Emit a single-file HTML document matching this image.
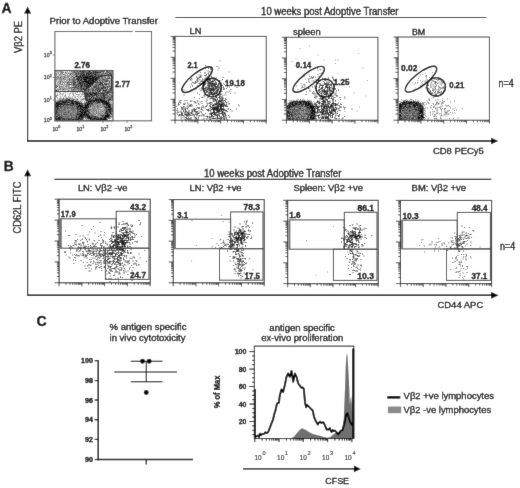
<!DOCTYPE html>
<html><head><meta charset="utf-8"><style>
html,body{margin:0;padding:0;background:#fff;}
svg{display:block;font-family:"Liberation Sans", sans-serif;filter:grayscale(1);}

</style></head><body>
<svg width="520" height="488" viewBox="0 0 520 488">
<defs><filter id="bl05" x="-5%" y="-5%" width="110%" height="110%"><feGaussianBlur stdDeviation="0.4"/></filter><filter id="bl2" x="-50%" y="-50%" width="200%" height="200%"><feGaussianBlur stdDeviation="2.5"/></filter></defs>
<filter id="soft" x="0" y="0" width="520" height="488" filterUnits="userSpaceOnUse"><feConvolveMatrix order="3" kernelMatrix="0.01 0.06 0.01 0.06 0.72 0.06 0.01 0.06 0.01" edgeMode="duplicate" preserveAlpha="true"/></filter>
<g filter="url(#soft)">
<rect width="520" height="488" fill="#fff"/>
<text x="1.6" y="13.3" font-size="14" stroke="#000" stroke-width="0.3" font-weight="bold">A</text>
<line x1="27.6" y1="141.5" x2="27.6" y2="12.6" stroke="#000" stroke-width="1.15"/>
<polygon points="27.6,6.6 24.1,13.6 31.1,13.6" fill="#000" stroke="none" stroke-width="1"/>
<text x="21.7" y="36.9" font-size="9.6" stroke="#000" stroke-width="0.3" text-anchor="middle" textLength="32" lengthAdjust="spacingAndGlyphs" transform="rotate(-90 21.7 36.9) translate(21.7 36.9) scale(1 1.05) translate(-21.7 -36.9)">Vβ2 PE</text>
<line x1="27" y1="141" x2="492.1" y2="141" stroke="#000" stroke-width="1.4"/>
<polygon points="498.2,141 491.1,137.7 491.1,144.3" fill="#000" stroke="none" stroke-width="1"/>
<text x="433" y="153.6" font-size="9.5" stroke="#000" stroke-width="0.3" textLength="50.7" lengthAdjust="spacingAndGlyphs">CD8 PECy5</text>
<text x="49.6" y="23.6" font-size="9.6" stroke="#000" stroke-width="0.3" textLength="108.3" lengthAdjust="spacingAndGlyphs">Prior to Adoptive Transfer</text>
<line x1="175.5" y1="17.5" x2="486.2" y2="17.5" stroke="#000" stroke-width="1.2"/>
<text x="261.1" y="14.6" font-size="9.5" stroke="#000" stroke-width="0.3" textLength="137.4" lengthAdjust="spacingAndGlyphs" transform="translate(261.1 14.6) scale(1 1.08) translate(-261.1 -14.6)">10 weeks post Adoptive Transfer</text>
<g filter="url(#bl05)"><path d="M64 71h1v1h-1zM59 72h1v1h-1zM57 73h1v1h-1zM59 73h1v1h-1zM63 73h2v1h-2zM66 74h1v1h-1zM68 74h1v1h-1zM57 75h1v1h-1zM63 75h1v1h-1zM111 75h1v1h-1zM69 77h1v1h-1zM55 78h1v1h-1zM65 80h1v1h-1zM61 83h1v1h-1zM63 83h1v1h-1zM65 83h1v1h-1zM70 83h1v1h-1zM103 83h1v1h-1zM60 85h1v1h-1zM62 85h1v1h-1zM70 85h1v1h-1zM70 86h1v1h-1zM58 87h1v1h-1zM56 88h1v1h-1zM59 90h1v1h-1zM61 90h1v1h-1zM66 90h1v1h-1zM64 91h1v1h-1zM101 91h1v1h-1zM55 92h4v1h-4zM63 92h1v1h-1zM66 92h3v1h-3zM70 92h2v1h-2zM80 92h2v1h-2zM59 93h1v1h-1zM61 93h1v1h-1zM71 93h1v1h-1zM79 93h1v1h-1zM56 94h1v1h-1zM63 94h1v1h-1zM66 94h1v1h-1zM68 94h1v1h-1zM75 94h1v1h-1zM60 95h1v1h-1zM63 95h1v1h-1zM66 95h1v1h-1zM71 95h2v1h-2zM77 95h1v1h-1zM80 95h4v1h-4zM59 96h1v1h-1zM61 96h1v1h-1zM63 96h1v1h-1zM66 96h1v1h-1zM70 96h1v1h-1zM73 96h1v1h-1zM76 96h1v1h-1zM79 96h1v1h-1zM55 97h2v1h-2zM59 97h1v1h-1zM61 97h1v1h-1zM64 97h1v1h-1zM55 98h1v1h-1zM75 98h1v1h-1zM78 98h1v1h-1zM80 98h2v1h-2zM56 99h2v1h-2zM80 100h1v1h-1zM84 100h1v1h-1zM82 101h1v1h-1zM111 101h1v1h-1zM82 102h2v1h-2zM112 103h1v1h-1zM84 118h1v1h-1zM111 119h2v1h-2z" fill="#e6e6e6"/><path d="M63 71h1v1h-1zM65 71h2v1h-2zM70 71h1v1h-1zM105 71h1v1h-1zM55 72h2v1h-2zM64 72h1v1h-1zM67 72h1v1h-1zM69 72h2v1h-2zM104 72h1v1h-1zM67 73h1v1h-1zM55 74h1v1h-1zM57 74h1v1h-1zM112 74h1v1h-1zM55 75h1v1h-1zM58 75h1v1h-1zM62 75h1v1h-1zM72 75h1v1h-1zM59 76h1v1h-1zM66 76h1v1h-1zM74 76h1v1h-1zM106 77h1v1h-1zM110 77h1v1h-1zM58 79h1v1h-1zM66 79h1v1h-1zM109 79h1v1h-1zM55 80h1v1h-1zM57 80h2v1h-2zM62 80h1v1h-1zM68 80h1v1h-1zM57 81h1v1h-1zM63 81h1v1h-1zM61 82h1v1h-1zM107 82h1v1h-1zM56 83h1v1h-1zM58 83h1v1h-1zM66 83h1v1h-1zM56 84h1v1h-1zM65 85h1v1h-1zM107 85h1v1h-1zM58 86h1v1h-1zM64 86h1v1h-1zM72 86h1v1h-1zM57 87h1v1h-1zM65 87h1v1h-1zM67 87h1v1h-1zM90 87h1v1h-1zM55 88h1v1h-1zM58 88h1v1h-1zM108 88h1v1h-1zM69 89h2v1h-2zM60 90h1v1h-1zM64 90h1v1h-1zM67 90h1v1h-1zM70 90h1v1h-1zM56 91h1v1h-1zM68 91h1v1h-1zM64 92h2v1h-2zM73 92h4v1h-4zM79 92h1v1h-1zM62 93h1v1h-1zM65 93h1v1h-1zM67 93h1v1h-1zM72 93h1v1h-1zM80 93h2v1h-2zM60 94h2v1h-2zM65 94h1v1h-1zM69 94h1v1h-1zM72 94h1v1h-1zM77 94h1v1h-1zM55 95h1v1h-1zM58 95h1v1h-1zM64 95h1v1h-1zM74 95h1v1h-1zM78 95h2v1h-2zM84 95h1v1h-1zM55 96h1v1h-1zM69 96h1v1h-1zM72 96h1v1h-1zM74 96h1v1h-1zM78 96h1v1h-1zM66 97h2v1h-2zM71 97h1v1h-1zM80 97h1v1h-1zM62 98h1v1h-1zM65 98h1v1h-1zM73 98h2v1h-2zM77 98h1v1h-1zM55 99h1v1h-1zM76 99h1v1h-1zM78 99h1v1h-1zM81 99h1v1h-1zM56 100h1v1h-1zM78 100h2v1h-2zM82 100h2v1h-2zM81 101h1v1h-1zM85 101h1v1h-1zM112 102h1v1h-1zM112 105h1v1h-1zM91 108h1v1h-1zM96 108h1v1h-1zM101 108h2v1h-2zM99 110h1v1h-1zM112 112h1v1h-1zM96 114h1v1h-1zM112 117h1v1h-1zM84 119h2v1h-2zM109 119h1v1h-1zM109 120h1v1h-1z" fill="#cccccc"/><path d="M55 71h1v1h-1zM57 71h3v1h-3zM58 72h1v1h-1zM66 72h1v1h-1zM68 72h1v1h-1zM71 72h1v1h-1zM107 72h1v1h-1zM112 72h1v1h-1zM55 73h1v1h-1zM65 73h1v1h-1zM74 73h1v1h-1zM108 73h1v1h-1zM58 74h2v1h-2zM62 74h1v1h-1zM69 74h1v1h-1zM71 74h1v1h-1zM109 74h1v1h-1zM56 75h1v1h-1zM60 75h2v1h-2zM64 75h1v1h-1zM67 75h2v1h-2zM70 75h1v1h-1zM107 75h1v1h-1zM112 75h1v1h-1zM55 76h2v1h-2zM62 76h1v1h-1zM65 76h1v1h-1zM69 76h2v1h-2zM106 76h1v1h-1zM111 76h1v1h-1zM55 77h1v1h-1zM57 77h1v1h-1zM59 77h1v1h-1zM61 77h1v1h-1zM63 77h1v1h-1zM66 77h1v1h-1zM72 77h1v1h-1zM103 77h1v1h-1zM107 77h1v1h-1zM64 78h5v1h-5zM70 78h1v1h-1zM75 78h1v1h-1zM104 78h1v1h-1zM111 78h1v1h-1zM62 79h1v1h-1zM108 79h1v1h-1zM112 79h1v1h-1zM56 80h1v1h-1zM59 80h1v1h-1zM63 80h2v1h-2zM67 80h1v1h-1zM70 80h1v1h-1zM55 81h1v1h-1zM59 81h1v1h-1zM64 81h1v1h-1zM66 81h2v1h-2zM69 81h1v1h-1zM98 81h1v1h-1zM101 81h1v1h-1zM57 82h1v1h-1zM59 82h1v1h-1zM64 82h1v1h-1zM106 82h1v1h-1zM108 82h1v1h-1zM110 82h1v1h-1zM55 83h1v1h-1zM94 83h1v1h-1zM111 83h1v1h-1zM57 84h1v1h-1zM59 84h1v1h-1zM63 84h3v1h-3zM110 84h1v1h-1zM57 85h1v1h-1zM61 85h1v1h-1zM64 85h1v1h-1zM67 85h2v1h-2zM71 85h1v1h-1zM93 85h1v1h-1zM104 85h1v1h-1zM110 85h1v1h-1zM55 86h1v1h-1zM69 86h1v1h-1zM71 86h1v1h-1zM99 86h1v1h-1zM60 87h2v1h-2zM63 87h2v1h-2zM66 87h1v1h-1zM92 87h1v1h-1zM57 88h1v1h-1zM59 88h1v1h-1zM61 88h1v1h-1zM66 88h1v1h-1zM70 88h1v1h-1zM72 88h1v1h-1zM112 88h1v1h-1zM56 89h1v1h-1zM61 89h1v1h-1zM65 89h2v1h-2zM68 89h1v1h-1zM58 90h1v1h-1zM63 90h1v1h-1zM69 90h1v1h-1zM77 90h1v1h-1zM83 90h1v1h-1zM109 90h1v1h-1zM57 91h1v1h-1zM61 91h2v1h-2zM65 91h2v1h-2zM72 91h1v1h-1zM59 92h2v1h-2zM72 92h1v1h-1zM83 92h1v1h-1zM55 93h1v1h-1zM57 93h1v1h-1zM69 93h1v1h-1zM73 93h1v1h-1zM82 93h2v1h-2zM57 94h1v1h-1zM59 94h1v1h-1zM62 94h1v1h-1zM79 94h1v1h-1zM82 94h2v1h-2zM108 94h1v1h-1zM62 95h1v1h-1zM69 95h1v1h-1zM73 95h1v1h-1zM60 96h1v1h-1zM64 96h2v1h-2zM68 96h1v1h-1zM77 96h1v1h-1zM81 96h1v1h-1zM83 96h1v1h-1zM95 96h1v1h-1zM57 97h1v1h-1zM60 97h1v1h-1zM63 97h1v1h-1zM65 97h1v1h-1zM68 97h3v1h-3zM72 97h1v1h-1zM74 97h2v1h-2zM84 97h1v1h-1zM61 98h1v1h-1zM64 98h1v1h-1zM68 98h1v1h-1zM71 98h1v1h-1zM76 98h1v1h-1zM79 98h1v1h-1zM82 98h1v1h-1zM58 99h2v1h-2zM80 99h1v1h-1zM84 99h1v1h-1zM57 100h1v1h-1zM74 100h1v1h-1zM79 101h1v1h-1zM84 101h1v1h-1zM110 102h2v1h-2zM101 103h1v1h-1zM111 103h1v1h-1zM83 104h1v1h-1zM94 104h1v1h-1zM96 105h1v1h-1zM101 105h1v1h-1zM100 106h1v1h-1zM91 107h1v1h-1zM93 107h1v1h-1zM102 107h2v1h-2zM90 108h1v1h-1zM99 108h2v1h-2zM104 108h1v1h-1zM97 109h1v1h-1zM101 109h3v1h-3zM91 110h1v1h-1zM97 110h1v1h-1zM102 110h1v1h-1zM71 111h1v1h-1zM90 111h1v1h-1zM95 111h1v1h-1zM99 111h1v1h-1zM104 111h1v1h-1zM91 112h1v1h-1zM94 112h2v1h-2zM97 112h1v1h-1zM99 112h1v1h-1zM101 112h2v1h-2zM95 113h1v1h-1zM97 113h1v1h-1zM103 113h1v1h-1zM112 113h1v1h-1zM89 114h1v1h-1zM97 114h1v1h-1zM112 114h1v1h-1zM94 115h1v1h-1zM96 115h1v1h-1zM111 115h1v1h-1zM99 116h1v1h-1zM112 116h1v1h-1zM110 117h1v1h-1zM86 118h1v1h-1zM87 119h1v1h-1zM83 120h2v1h-2zM86 120h1v1h-1z" fill="#b2b2b2"/><path d="M56 71h1v1h-1zM61 71h2v1h-2zM67 71h1v1h-1zM69 71h1v1h-1zM72 71h1v1h-1zM78 71h1v1h-1zM91 71h1v1h-1zM106 71h1v1h-1zM108 71h1v1h-1zM110 71h1v1h-1zM112 71h1v1h-1zM57 72h1v1h-1zM60 72h1v1h-1zM79 72h1v1h-1zM101 72h2v1h-2zM108 72h1v1h-1zM111 72h1v1h-1zM56 73h1v1h-1zM58 73h1v1h-1zM61 73h1v1h-1zM69 73h1v1h-1zM72 73h1v1h-1zM85 73h1v1h-1zM101 73h1v1h-1zM104 73h1v1h-1zM109 73h1v1h-1zM60 74h2v1h-2zM64 74h2v1h-2zM73 74h2v1h-2zM79 74h1v1h-1zM100 74h1v1h-1zM103 74h1v1h-1zM105 74h1v1h-1zM111 74h1v1h-1zM59 75h1v1h-1zM65 75h2v1h-2zM71 75h1v1h-1zM73 75h3v1h-3zM78 75h1v1h-1zM102 75h1v1h-1zM58 76h1v1h-1zM60 76h2v1h-2zM71 76h1v1h-1zM105 76h1v1h-1zM107 76h1v1h-1zM109 76h2v1h-2zM62 77h1v1h-1zM67 77h1v1h-1zM70 77h2v1h-2zM75 77h1v1h-1zM100 77h1v1h-1zM111 77h1v1h-1zM56 78h4v1h-4zM61 78h2v1h-2zM71 78h2v1h-2zM100 78h1v1h-1zM55 79h3v1h-3zM60 79h1v1h-1zM63 79h1v1h-1zM67 79h2v1h-2zM71 79h1v1h-1zM99 79h1v1h-1zM101 79h1v1h-1zM105 79h1v1h-1zM110 79h1v1h-1zM60 80h2v1h-2zM71 80h1v1h-1zM76 80h1v1h-1zM108 80h5v1h-5zM56 81h1v1h-1zM58 81h1v1h-1zM61 81h1v1h-1zM65 81h1v1h-1zM70 81h2v1h-2zM76 81h1v1h-1zM99 81h1v1h-1zM103 81h1v1h-1zM110 81h1v1h-1zM58 82h1v1h-1zM62 82h1v1h-1zM66 82h1v1h-1zM69 82h1v1h-1zM76 82h1v1h-1zM104 82h2v1h-2zM112 82h1v1h-1zM57 83h1v1h-1zM62 83h1v1h-1zM68 83h1v1h-1zM72 83h1v1h-1zM76 83h1v1h-1zM95 83h1v1h-1zM107 83h1v1h-1zM110 83h1v1h-1zM55 84h1v1h-1zM58 84h1v1h-1zM60 84h1v1h-1zM67 84h1v1h-1zM72 84h1v1h-1zM93 84h2v1h-2zM109 84h1v1h-1zM55 85h1v1h-1zM58 85h2v1h-2zM63 85h1v1h-1zM72 85h1v1h-1zM108 85h1v1h-1zM62 86h2v1h-2zM67 86h2v1h-2zM74 86h1v1h-1zM79 86h1v1h-1zM91 86h2v1h-2zM101 86h1v1h-1zM105 86h1v1h-1zM55 87h1v1h-1zM62 87h1v1h-1zM69 87h1v1h-1zM71 87h1v1h-1zM82 87h1v1h-1zM109 87h2v1h-2zM62 88h2v1h-2zM65 88h1v1h-1zM67 88h2v1h-2zM73 88h1v1h-1zM75 88h1v1h-1zM89 88h2v1h-2zM95 88h1v1h-1zM106 88h1v1h-1zM111 88h1v1h-1zM55 89h1v1h-1zM57 89h1v1h-1zM62 89h1v1h-1zM64 89h1v1h-1zM67 89h1v1h-1zM72 89h1v1h-1zM76 89h2v1h-2zM79 89h1v1h-1zM94 89h1v1h-1zM104 89h1v1h-1zM107 89h1v1h-1zM62 90h1v1h-1zM65 90h1v1h-1zM74 90h3v1h-3zM79 90h1v1h-1zM82 90h1v1h-1zM90 90h2v1h-2zM107 90h1v1h-1zM112 90h1v1h-1zM55 91h1v1h-1zM60 91h1v1h-1zM63 91h1v1h-1zM73 91h1v1h-1zM75 91h1v1h-1zM81 91h2v1h-2zM87 91h1v1h-1zM89 91h1v1h-1zM91 91h1v1h-1zM94 91h1v1h-1zM96 91h1v1h-1zM77 92h1v1h-1zM84 92h1v1h-1zM99 92h1v1h-1zM60 93h1v1h-1zM63 93h1v1h-1zM75 93h1v1h-1zM84 93h1v1h-1zM110 93h2v1h-2zM78 94h1v1h-1zM81 94h1v1h-1zM105 94h1v1h-1zM107 94h1v1h-1zM111 94h1v1h-1zM56 95h2v1h-2zM65 95h1v1h-1zM108 95h2v1h-2zM75 96h1v1h-1zM80 96h1v1h-1zM94 96h1v1h-1zM110 96h1v1h-1zM78 97h1v1h-1zM90 97h1v1h-1zM100 97h1v1h-1zM108 97h1v1h-1zM57 98h1v1h-1zM59 98h2v1h-2zM70 98h1v1h-1zM72 98h1v1h-1zM84 98h1v1h-1zM88 98h1v1h-1zM107 98h1v1h-1zM61 99h1v1h-1zM64 99h1v1h-1zM70 99h2v1h-2zM74 99h1v1h-1zM83 99h1v1h-1zM58 100h1v1h-1zM75 100h1v1h-1zM77 100h1v1h-1zM81 100h1v1h-1zM110 100h1v1h-1zM56 101h1v1h-1zM109 101h2v1h-2zM80 102h1v1h-1zM84 102h2v1h-2zM68 103h1v1h-1zM83 103h1v1h-1zM93 103h1v1h-1zM110 103h1v1h-1zM96 104h6v1h-6zM111 104h2v1h-2zM91 105h1v1h-1zM94 105h2v1h-2zM99 105h1v1h-1zM102 105h1v1h-1zM111 105h1v1h-1zM73 106h1v1h-1zM75 106h1v1h-1zM91 106h2v1h-2zM95 106h1v1h-1zM99 106h1v1h-1zM101 106h2v1h-2zM111 106h2v1h-2zM89 107h1v1h-1zM95 107h2v1h-2zM98 107h2v1h-2zM112 107h1v1h-1zM62 108h1v1h-1zM66 108h1v1h-1zM88 108h1v1h-1zM93 108h1v1h-1zM95 108h1v1h-1zM98 108h1v1h-1zM103 108h1v1h-1zM60 109h1v1h-1zM67 109h1v1h-1zM69 109h2v1h-2zM94 109h2v1h-2zM98 109h3v1h-3zM112 109h1v1h-1zM66 110h1v1h-1zM92 110h1v1h-1zM94 110h1v1h-1zM96 110h1v1h-1zM98 110h1v1h-1zM100 110h2v1h-2zM64 111h1v1h-1zM67 111h1v1h-1zM74 111h1v1h-1zM76 111h1v1h-1zM92 111h2v1h-2zM97 111h2v1h-2zM100 111h2v1h-2zM103 111h1v1h-1zM70 112h1v1h-1zM90 112h1v1h-1zM92 112h1v1h-1zM100 112h1v1h-1zM103 112h1v1h-1zM60 113h1v1h-1zM62 113h1v1h-1zM73 113h2v1h-2zM91 113h2v1h-2zM94 113h1v1h-1zM100 113h1v1h-1zM62 114h1v1h-1zM69 114h1v1h-1zM72 114h1v1h-1zM74 114h1v1h-1zM93 114h2v1h-2zM99 114h1v1h-1zM101 114h2v1h-2zM110 114h1v1h-1zM60 115h1v1h-1zM63 115h1v1h-1zM95 115h1v1h-1zM97 115h3v1h-3zM110 115h1v1h-1zM112 115h1v1h-1zM58 116h1v1h-1zM70 116h1v1h-1zM74 116h1v1h-1zM98 116h1v1h-1zM100 116h2v1h-2zM70 117h1v1h-1zM111 117h1v1h-1zM107 118h1v1h-1zM110 118h1v1h-1zM83 119h1v1h-1zM89 119h1v1h-1zM55 120h1v1h-1zM81 120h1v1h-1zM87 120h1v1h-1zM90 120h1v1h-1zM108 120h1v1h-1z" fill="#999999"/><path d="M60 71h1v1h-1zM71 71h1v1h-1zM73 71h1v1h-1zM75 71h2v1h-2zM81 71h1v1h-1zM87 71h1v1h-1zM98 71h1v1h-1zM111 71h1v1h-1zM61 72h3v1h-3zM72 72h2v1h-2zM76 72h2v1h-2zM80 72h1v1h-1zM105 72h1v1h-1zM109 72h2v1h-2zM60 73h1v1h-1zM62 73h1v1h-1zM66 73h1v1h-1zM68 73h1v1h-1zM70 73h2v1h-2zM73 73h1v1h-1zM77 73h1v1h-1zM98 73h3v1h-3zM102 73h1v1h-1zM106 73h1v1h-1zM112 73h1v1h-1zM67 74h1v1h-1zM72 74h1v1h-1zM87 74h1v1h-1zM93 74h1v1h-1zM104 74h1v1h-1zM106 74h1v1h-1zM110 74h1v1h-1zM69 75h1v1h-1zM94 75h1v1h-1zM105 75h1v1h-1zM63 76h2v1h-2zM67 76h2v1h-2zM73 76h1v1h-1zM102 76h3v1h-3zM112 76h1v1h-1zM56 77h1v1h-1zM65 77h1v1h-1zM68 77h1v1h-1zM76 77h1v1h-1zM101 77h1v1h-1zM104 77h1v1h-1zM108 77h1v1h-1zM60 78h1v1h-1zM74 78h1v1h-1zM101 78h3v1h-3zM106 78h1v1h-1zM110 78h1v1h-1zM112 78h1v1h-1zM59 79h1v1h-1zM61 79h1v1h-1zM64 79h2v1h-2zM70 79h1v1h-1zM73 79h1v1h-1zM82 79h1v1h-1zM98 79h1v1h-1zM100 79h1v1h-1zM107 79h1v1h-1zM111 79h1v1h-1zM66 80h1v1h-1zM72 80h1v1h-1zM74 80h2v1h-2zM83 80h1v1h-1zM97 80h2v1h-2zM100 80h4v1h-4zM105 80h1v1h-1zM62 81h1v1h-1zM72 81h1v1h-1zM75 81h1v1h-1zM80 81h1v1h-1zM96 81h1v1h-1zM104 81h1v1h-1zM108 81h2v1h-2zM112 81h1v1h-1zM55 82h1v1h-1zM63 82h1v1h-1zM65 82h1v1h-1zM71 82h2v1h-2zM77 82h1v1h-1zM59 83h2v1h-2zM64 83h1v1h-1zM69 83h1v1h-1zM71 83h1v1h-1zM77 83h1v1h-1zM96 83h1v1h-1zM98 83h1v1h-1zM109 83h1v1h-1zM61 84h2v1h-2zM66 84h1v1h-1zM76 84h1v1h-1zM79 84h1v1h-1zM83 84h1v1h-1zM85 84h1v1h-1zM96 84h1v1h-1zM98 84h1v1h-1zM101 84h1v1h-1zM107 84h1v1h-1zM69 85h1v1h-1zM75 85h1v1h-1zM94 85h1v1h-1zM97 85h1v1h-1zM99 85h1v1h-1zM101 85h1v1h-1zM105 85h2v1h-2zM109 85h1v1h-1zM111 85h2v1h-2zM56 86h1v1h-1zM59 86h2v1h-2zM65 86h2v1h-2zM73 86h1v1h-1zM76 86h2v1h-2zM83 86h1v1h-1zM97 86h1v1h-1zM100 86h1v1h-1zM102 86h1v1h-1zM106 86h1v1h-1zM108 86h1v1h-1zM112 86h1v1h-1zM68 87h1v1h-1zM78 87h1v1h-1zM85 87h1v1h-1zM100 87h1v1h-1zM106 87h1v1h-1zM108 87h1v1h-1zM111 87h1v1h-1zM64 88h1v1h-1zM76 88h1v1h-1zM79 88h1v1h-1zM91 88h1v1h-1zM93 88h2v1h-2zM100 88h1v1h-1zM109 88h1v1h-1zM58 89h2v1h-2zM71 89h1v1h-1zM74 89h1v1h-1zM87 89h1v1h-1zM90 89h2v1h-2zM97 89h1v1h-1zM101 89h2v1h-2zM105 89h1v1h-1zM108 89h1v1h-1zM55 90h1v1h-1zM57 90h1v1h-1zM71 90h3v1h-3zM81 90h1v1h-1zM94 90h1v1h-1zM96 90h1v1h-1zM98 90h1v1h-1zM101 90h2v1h-2zM108 90h1v1h-1zM58 91h2v1h-2zM67 91h1v1h-1zM69 91h3v1h-3zM76 91h1v1h-1zM78 91h1v1h-1zM80 91h1v1h-1zM83 91h1v1h-1zM93 91h1v1h-1zM100 91h1v1h-1zM102 91h1v1h-1zM106 91h1v1h-1zM110 91h1v1h-1zM82 92h1v1h-1zM91 92h1v1h-1zM94 92h1v1h-1zM103 92h1v1h-1zM70 93h1v1h-1zM105 93h1v1h-1zM108 93h2v1h-2zM73 94h1v1h-1zM76 94h1v1h-1zM84 94h1v1h-1zM99 94h1v1h-1zM101 94h1v1h-1zM110 94h1v1h-1zM112 94h1v1h-1zM97 95h1v1h-1zM99 95h1v1h-1zM106 95h1v1h-1zM110 95h1v1h-1zM56 96h1v1h-1zM84 96h1v1h-1zM91 96h1v1h-1zM98 96h2v1h-2zM102 96h1v1h-1zM105 96h3v1h-3zM109 96h1v1h-1zM88 97h1v1h-1zM92 97h1v1h-1zM102 97h2v1h-2zM112 97h1v1h-1zM69 98h1v1h-1zM83 98h1v1h-1zM92 98h1v1h-1zM105 98h1v1h-1zM111 98h1v1h-1zM60 99h1v1h-1zM62 99h1v1h-1zM65 99h1v1h-1zM72 99h1v1h-1zM75 99h1v1h-1zM82 99h1v1h-1zM105 99h3v1h-3zM111 99h2v1h-2zM63 100h1v1h-1zM76 100h1v1h-1zM85 100h1v1h-1zM105 100h1v1h-1zM112 100h1v1h-1zM55 101h1v1h-1zM57 101h1v1h-1zM95 101h1v1h-1zM70 102h1v1h-1zM96 102h1v1h-1zM100 102h1v1h-1zM109 102h1v1h-1zM69 103h1v1h-1zM94 103h2v1h-2zM98 103h3v1h-3zM95 104h1v1h-1zM102 104h1v1h-1zM59 105h1v1h-1zM61 105h2v1h-2zM64 105h1v1h-1zM69 105h1v1h-1zM92 105h2v1h-2zM98 105h1v1h-1zM100 105h1v1h-1zM103 105h3v1h-3zM65 106h2v1h-2zM68 106h4v1h-4zM89 106h1v1h-1zM93 106h2v1h-2zM96 106h3v1h-3zM103 106h1v1h-1zM59 107h1v1h-1zM62 107h2v1h-2zM69 107h1v1h-1zM71 107h1v1h-1zM74 107h2v1h-2zM90 107h1v1h-1zM92 107h1v1h-1zM94 107h1v1h-1zM97 107h1v1h-1zM100 107h2v1h-2zM59 108h1v1h-1zM63 108h1v1h-1zM68 108h1v1h-1zM70 108h1v1h-1zM74 108h1v1h-1zM89 108h1v1h-1zM92 108h1v1h-1zM94 108h1v1h-1zM97 108h1v1h-1zM107 108h1v1h-1zM112 108h1v1h-1zM61 109h2v1h-2zM65 109h2v1h-2zM68 109h1v1h-1zM74 109h3v1h-3zM89 109h5v1h-5zM96 109h1v1h-1zM104 109h2v1h-2zM58 110h1v1h-1zM63 110h1v1h-1zM65 110h1v1h-1zM67 110h7v1h-7zM75 110h2v1h-2zM79 110h1v1h-1zM90 110h1v1h-1zM93 110h1v1h-1zM95 110h1v1h-1zM103 110h3v1h-3zM58 111h2v1h-2zM61 111h3v1h-3zM65 111h2v1h-2zM69 111h2v1h-2zM72 111h1v1h-1zM75 111h1v1h-1zM89 111h1v1h-1zM91 111h1v1h-1zM94 111h1v1h-1zM96 111h1v1h-1zM102 111h1v1h-1zM59 112h2v1h-2zM62 112h2v1h-2zM66 112h2v1h-2zM69 112h1v1h-1zM71 112h6v1h-6zM79 112h1v1h-1zM87 112h1v1h-1zM93 112h1v1h-1zM96 112h1v1h-1zM98 112h1v1h-1zM104 112h1v1h-1zM111 112h1v1h-1zM57 113h1v1h-1zM59 113h1v1h-1zM64 113h2v1h-2zM67 113h3v1h-3zM71 113h2v1h-2zM75 113h1v1h-1zM93 113h1v1h-1zM98 113h2v1h-2zM101 113h2v1h-2zM104 113h1v1h-1zM109 113h1v1h-1zM60 114h2v1h-2zM67 114h2v1h-2zM75 114h1v1h-1zM90 114h1v1h-1zM92 114h1v1h-1zM95 114h1v1h-1zM98 114h1v1h-1zM100 114h1v1h-1zM103 114h2v1h-2zM56 115h1v1h-1zM62 115h1v1h-1zM64 115h6v1h-6zM72 115h2v1h-2zM64 116h1v1h-1zM66 116h1v1h-1zM68 116h2v1h-2zM72 116h2v1h-2zM84 116h1v1h-1zM97 116h1v1h-1zM111 116h1v1h-1zM57 117h1v1h-1zM63 117h3v1h-3zM67 117h1v1h-1zM69 117h1v1h-1zM74 117h1v1h-1zM93 117h1v1h-1zM99 117h1v1h-1zM65 118h1v1h-1zM72 118h1v1h-1zM74 118h1v1h-1zM85 118h1v1h-1zM109 118h1v1h-1zM61 119h1v1h-1zM86 119h1v1h-1zM88 119h1v1h-1zM107 119h1v1h-1zM88 120h1v1h-1zM95 120h1v1h-1zM105 120h2v1h-2z" fill="#808080"/><path d="M77 71h1v1h-1zM79 71h1v1h-1zM85 71h2v1h-2zM90 71h1v1h-1zM92 71h1v1h-1zM94 71h1v1h-1zM96 71h2v1h-2zM99 71h3v1h-3zM103 71h2v1h-2zM109 71h1v1h-1zM65 72h1v1h-1zM74 72h2v1h-2zM84 72h3v1h-3zM92 72h1v1h-1zM106 72h1v1h-1zM75 73h1v1h-1zM81 73h1v1h-1zM84 73h1v1h-1zM92 73h1v1h-1zM94 73h1v1h-1zM96 73h2v1h-2zM103 73h1v1h-1zM107 73h1v1h-1zM111 73h1v1h-1zM56 74h1v1h-1zM76 74h3v1h-3zM82 74h1v1h-1zM85 74h1v1h-1zM90 74h1v1h-1zM96 74h4v1h-4zM102 74h1v1h-1zM107 74h2v1h-2zM77 75h1v1h-1zM97 75h1v1h-1zM99 75h1v1h-1zM101 75h1v1h-1zM103 75h2v1h-2zM106 75h1v1h-1zM108 75h2v1h-2zM57 76h1v1h-1zM72 76h1v1h-1zM96 76h1v1h-1zM99 76h1v1h-1zM108 76h1v1h-1zM64 77h1v1h-1zM73 77h1v1h-1zM82 77h1v1h-1zM102 77h1v1h-1zM105 77h1v1h-1zM112 77h1v1h-1zM63 78h1v1h-1zM69 78h1v1h-1zM73 78h1v1h-1zM80 78h1v1h-1zM98 78h1v1h-1zM105 78h1v1h-1zM109 78h1v1h-1zM69 79h1v1h-1zM72 79h1v1h-1zM74 79h2v1h-2zM79 79h1v1h-1zM87 79h1v1h-1zM102 79h1v1h-1zM106 79h1v1h-1zM77 80h1v1h-1zM79 80h1v1h-1zM82 80h1v1h-1zM87 80h1v1h-1zM94 80h1v1h-1zM104 80h1v1h-1zM68 81h1v1h-1zM74 81h1v1h-1zM78 81h1v1h-1zM107 81h1v1h-1zM68 82h1v1h-1zM70 82h1v1h-1zM78 82h1v1h-1zM84 82h1v1h-1zM96 82h1v1h-1zM99 82h1v1h-1zM101 82h1v1h-1zM103 82h1v1h-1zM109 82h1v1h-1zM111 82h1v1h-1zM67 83h1v1h-1zM74 83h2v1h-2zM82 83h1v1h-1zM97 83h1v1h-1zM99 83h1v1h-1zM105 83h2v1h-2zM108 83h1v1h-1zM70 84h2v1h-2zM75 84h1v1h-1zM77 84h1v1h-1zM88 84h1v1h-1zM95 84h1v1h-1zM97 84h1v1h-1zM103 84h2v1h-2zM108 84h1v1h-1zM111 84h2v1h-2zM56 85h1v1h-1zM66 85h1v1h-1zM73 85h2v1h-2zM77 85h2v1h-2zM80 85h1v1h-1zM83 85h1v1h-1zM91 85h2v1h-2zM95 85h1v1h-1zM57 86h1v1h-1zM61 86h1v1h-1zM84 86h1v1h-1zM93 86h1v1h-1zM110 86h2v1h-2zM59 87h1v1h-1zM70 87h1v1h-1zM77 87h1v1h-1zM79 87h2v1h-2zM83 87h1v1h-1zM91 87h1v1h-1zM93 87h1v1h-1zM96 87h2v1h-2zM99 87h1v1h-1zM102 87h1v1h-1zM104 87h1v1h-1zM107 87h1v1h-1zM112 87h1v1h-1zM60 88h1v1h-1zM69 88h1v1h-1zM71 88h1v1h-1zM74 88h1v1h-1zM78 88h1v1h-1zM81 88h1v1h-1zM84 88h1v1h-1zM87 88h2v1h-2zM99 88h1v1h-1zM103 88h2v1h-2zM107 88h1v1h-1zM60 89h1v1h-1zM63 89h1v1h-1zM75 89h1v1h-1zM80 89h1v1h-1zM82 89h1v1h-1zM85 89h1v1h-1zM89 89h1v1h-1zM92 89h1v1h-1zM99 89h1v1h-1zM109 89h3v1h-3zM68 90h1v1h-1zM78 90h1v1h-1zM80 90h1v1h-1zM87 90h1v1h-1zM89 90h1v1h-1zM95 90h1v1h-1zM111 90h1v1h-1zM74 91h1v1h-1zM77 91h1v1h-1zM79 91h1v1h-1zM84 91h3v1h-3zM90 91h1v1h-1zM92 91h1v1h-1zM95 91h1v1h-1zM97 91h1v1h-1zM103 91h2v1h-2zM109 91h1v1h-1zM111 91h2v1h-2zM88 92h2v1h-2zM97 92h2v1h-2zM101 92h1v1h-1zM104 92h1v1h-1zM106 92h1v1h-1zM109 92h2v1h-2zM88 93h1v1h-1zM100 93h1v1h-1zM106 93h1v1h-1zM89 94h1v1h-1zM93 94h1v1h-1zM97 94h2v1h-2zM100 94h1v1h-1zM104 94h1v1h-1zM85 95h1v1h-1zM90 95h1v1h-1zM95 95h1v1h-1zM100 95h3v1h-3zM105 95h1v1h-1zM111 95h2v1h-2zM93 96h1v1h-1zM97 96h1v1h-1zM101 96h1v1h-1zM104 96h1v1h-1zM108 96h1v1h-1zM85 97h1v1h-1zM87 97h1v1h-1zM94 97h3v1h-3zM98 97h1v1h-1zM106 97h1v1h-1zM109 97h3v1h-3zM63 98h1v1h-1zM67 98h1v1h-1zM91 98h1v1h-1zM94 98h1v1h-1zM98 98h2v1h-2zM101 98h2v1h-2zM106 98h1v1h-1zM108 98h1v1h-1zM110 98h1v1h-1zM112 98h1v1h-1zM63 99h1v1h-1zM66 99h1v1h-1zM73 99h1v1h-1zM85 99h1v1h-1zM91 99h1v1h-1zM93 99h2v1h-2zM61 100h1v1h-1zM86 100h3v1h-3zM106 100h2v1h-2zM109 100h1v1h-1zM111 100h1v1h-1zM67 101h1v1h-1zM69 101h1v1h-1zM73 101h1v1h-1zM78 101h1v1h-1zM80 101h1v1h-1zM86 101h2v1h-2zM107 101h1v1h-1zM55 102h1v1h-1zM60 102h2v1h-2zM81 102h1v1h-1zM92 102h1v1h-1zM94 102h2v1h-2zM66 103h1v1h-1zM74 103h1v1h-1zM82 103h1v1h-1zM84 103h1v1h-1zM86 103h1v1h-1zM96 103h1v1h-1zM71 104h1v1h-1zM74 104h1v1h-1zM78 104h1v1h-1zM80 104h1v1h-1zM84 104h1v1h-1zM90 104h1v1h-1zM92 104h2v1h-2zM66 105h3v1h-3zM74 105h3v1h-3zM84 105h1v1h-1zM89 105h1v1h-1zM97 105h1v1h-1zM61 106h1v1h-1zM63 106h2v1h-2zM67 106h1v1h-1zM83 106h1v1h-1zM104 106h2v1h-2zM107 106h1v1h-1zM60 107h1v1h-1zM64 107h5v1h-5zM70 107h1v1h-1zM72 107h2v1h-2zM76 107h1v1h-1zM79 107h1v1h-1zM104 107h1v1h-1zM111 107h1v1h-1zM56 108h1v1h-1zM60 108h2v1h-2zM64 108h2v1h-2zM69 108h1v1h-1zM71 108h3v1h-3zM75 108h2v1h-2zM78 108h1v1h-1zM105 108h1v1h-1zM56 109h1v1h-1zM59 109h1v1h-1zM63 109h2v1h-2zM71 109h3v1h-3zM55 110h1v1h-1zM57 110h1v1h-1zM59 110h4v1h-4zM64 110h1v1h-1zM74 110h1v1h-1zM78 110h1v1h-1zM81 110h1v1h-1zM84 110h1v1h-1zM88 110h2v1h-2zM111 110h1v1h-1zM60 111h1v1h-1zM73 111h1v1h-1zM77 111h1v1h-1zM105 111h1v1h-1zM108 111h1v1h-1zM111 111h1v1h-1zM58 112h1v1h-1zM61 112h1v1h-1zM64 112h1v1h-1zM78 112h1v1h-1zM61 113h1v1h-1zM63 113h1v1h-1zM66 113h1v1h-1zM70 113h1v1h-1zM76 113h1v1h-1zM78 113h1v1h-1zM83 113h1v1h-1zM87 113h1v1h-1zM90 113h1v1h-1zM96 113h1v1h-1zM108 113h1v1h-1zM56 114h1v1h-1zM58 114h2v1h-2zM65 114h2v1h-2zM70 114h2v1h-2zM76 114h1v1h-1zM91 114h1v1h-1zM105 114h1v1h-1zM57 115h1v1h-1zM70 115h2v1h-2zM74 115h4v1h-4zM90 115h4v1h-4zM100 115h1v1h-1zM104 115h1v1h-1zM60 116h4v1h-4zM65 116h1v1h-1zM67 116h1v1h-1zM71 116h1v1h-1zM75 116h1v1h-1zM77 116h2v1h-2zM90 116h2v1h-2zM96 116h1v1h-1zM103 116h1v1h-1zM109 116h2v1h-2zM62 117h1v1h-1zM66 117h1v1h-1zM68 117h1v1h-1zM71 117h3v1h-3zM75 117h1v1h-1zM77 117h1v1h-1zM85 117h2v1h-2zM96 117h1v1h-1zM98 117h1v1h-1zM101 117h1v1h-1zM109 117h1v1h-1zM66 118h1v1h-1zM69 118h1v1h-1zM77 118h1v1h-1zM80 118h1v1h-1zM83 118h1v1h-1zM97 118h1v1h-1zM108 118h1v1h-1zM55 119h1v1h-1zM65 119h1v1h-1zM67 119h1v1h-1zM79 119h1v1h-1zM95 119h1v1h-1zM67 120h1v1h-1zM78 120h1v1h-1zM104 120h1v1h-1z" fill="#666666"/><path d="M74 71h1v1h-1zM84 71h1v1h-1zM88 71h1v1h-1zM93 71h1v1h-1zM102 71h1v1h-1zM78 72h1v1h-1zM81 72h2v1h-2zM87 72h4v1h-4zM94 72h1v1h-1zM99 72h1v1h-1zM103 72h1v1h-1zM78 73h3v1h-3zM83 73h1v1h-1zM89 73h1v1h-1zM91 73h1v1h-1zM95 73h1v1h-1zM110 73h1v1h-1zM63 74h1v1h-1zM75 74h1v1h-1zM80 74h1v1h-1zM89 74h1v1h-1zM91 74h2v1h-2zM101 74h1v1h-1zM79 75h3v1h-3zM85 75h2v1h-2zM89 75h2v1h-2zM93 75h1v1h-1zM96 75h1v1h-1zM98 75h1v1h-1zM100 75h1v1h-1zM110 75h1v1h-1zM75 76h1v1h-1zM77 76h1v1h-1zM79 76h1v1h-1zM81 76h1v1h-1zM84 76h1v1h-1zM88 76h1v1h-1zM93 76h1v1h-1zM97 76h1v1h-1zM58 77h1v1h-1zM60 77h1v1h-1zM77 77h1v1h-1zM91 77h1v1h-1zM95 77h1v1h-1zM97 77h3v1h-3zM109 77h1v1h-1zM76 78h3v1h-3zM81 78h1v1h-1zM94 78h1v1h-1zM99 78h1v1h-1zM107 78h1v1h-1zM76 79h1v1h-1zM80 79h1v1h-1zM88 79h1v1h-1zM91 79h1v1h-1zM104 79h1v1h-1zM73 80h1v1h-1zM81 80h1v1h-1zM99 80h1v1h-1zM106 80h2v1h-2zM60 81h1v1h-1zM73 81h1v1h-1zM77 81h1v1h-1zM81 81h1v1h-1zM89 81h1v1h-1zM91 81h1v1h-1zM95 81h1v1h-1zM100 81h1v1h-1zM102 81h1v1h-1zM105 81h2v1h-2zM111 81h1v1h-1zM60 82h1v1h-1zM73 82h2v1h-2zM81 82h1v1h-1zM85 82h1v1h-1zM94 82h1v1h-1zM97 82h2v1h-2zM102 82h1v1h-1zM78 83h1v1h-1zM81 83h1v1h-1zM83 83h1v1h-1zM85 83h1v1h-1zM87 83h1v1h-1zM100 83h1v1h-1zM104 83h1v1h-1zM112 83h1v1h-1zM68 84h2v1h-2zM74 84h1v1h-1zM78 84h1v1h-1zM81 84h1v1h-1zM79 85h1v1h-1zM82 85h1v1h-1zM85 85h2v1h-2zM96 85h1v1h-1zM98 85h1v1h-1zM100 85h1v1h-1zM102 85h2v1h-2zM82 86h1v1h-1zM89 86h1v1h-1zM94 86h3v1h-3zM98 86h1v1h-1zM103 86h2v1h-2zM109 86h1v1h-1zM56 87h1v1h-1zM72 87h5v1h-5zM84 87h1v1h-1zM87 87h1v1h-1zM89 87h1v1h-1zM95 87h1v1h-1zM98 87h1v1h-1zM101 87h1v1h-1zM77 88h1v1h-1zM80 88h1v1h-1zM82 88h1v1h-1zM85 88h1v1h-1zM92 88h1v1h-1zM96 88h2v1h-2zM105 88h1v1h-1zM78 89h1v1h-1zM86 89h1v1h-1zM88 89h1v1h-1zM93 89h1v1h-1zM95 89h2v1h-2zM98 89h1v1h-1zM103 89h1v1h-1zM106 89h1v1h-1zM112 89h1v1h-1zM56 90h1v1h-1zM84 90h3v1h-3zM88 90h1v1h-1zM92 90h2v1h-2zM100 90h1v1h-1zM104 90h1v1h-1zM106 90h1v1h-1zM110 90h1v1h-1zM98 91h1v1h-1zM105 91h1v1h-1zM108 91h1v1h-1zM86 92h2v1h-2zM95 92h1v1h-1zM100 92h1v1h-1zM102 92h1v1h-1zM105 92h1v1h-1zM107 92h2v1h-2zM111 92h2v1h-2zM85 93h2v1h-2zM91 93h2v1h-2zM97 93h2v1h-2zM102 93h1v1h-1zM104 93h1v1h-1zM107 93h1v1h-1zM112 93h1v1h-1zM94 94h1v1h-1zM102 94h1v1h-1zM109 94h1v1h-1zM86 95h1v1h-1zM88 95h1v1h-1zM92 95h2v1h-2zM107 95h1v1h-1zM87 96h2v1h-2zM90 96h1v1h-1zM100 96h1v1h-1zM103 96h1v1h-1zM111 96h1v1h-1zM86 97h1v1h-1zM89 97h1v1h-1zM97 97h1v1h-1zM99 97h1v1h-1zM101 97h1v1h-1zM105 97h1v1h-1zM107 97h1v1h-1zM66 98h1v1h-1zM86 98h2v1h-2zM89 98h1v1h-1zM96 98h1v1h-1zM100 98h1v1h-1zM103 98h1v1h-1zM109 98h1v1h-1zM67 99h1v1h-1zM69 99h1v1h-1zM77 99h1v1h-1zM86 99h1v1h-1zM88 99h1v1h-1zM90 99h1v1h-1zM97 99h2v1h-2zM102 99h3v1h-3zM108 99h1v1h-1zM59 100h2v1h-2zM62 100h1v1h-1zM64 100h1v1h-1zM67 100h2v1h-2zM71 100h1v1h-1zM89 100h2v1h-2zM92 100h1v1h-1zM99 100h1v1h-1zM108 100h1v1h-1zM58 101h4v1h-4zM64 101h1v1h-1zM68 101h1v1h-1zM70 101h1v1h-1zM76 101h2v1h-2zM97 101h1v1h-1zM66 102h1v1h-1zM74 102h2v1h-2zM78 102h2v1h-2zM86 102h2v1h-2zM89 102h1v1h-1zM91 102h1v1h-1zM93 102h1v1h-1zM55 103h1v1h-1zM62 103h2v1h-2zM65 103h1v1h-1zM67 103h1v1h-1zM81 103h1v1h-1zM85 103h1v1h-1zM90 103h1v1h-1zM97 103h1v1h-1zM102 103h1v1h-1zM109 103h1v1h-1zM56 104h1v1h-1zM60 104h1v1h-1zM63 104h1v1h-1zM65 104h1v1h-1zM70 104h1v1h-1zM72 104h1v1h-1zM75 104h1v1h-1zM81 104h2v1h-2zM86 104h1v1h-1zM89 104h1v1h-1zM91 104h1v1h-1zM103 104h1v1h-1zM105 104h1v1h-1zM110 104h1v1h-1zM65 105h1v1h-1zM70 105h1v1h-1zM72 105h2v1h-2zM77 105h1v1h-1zM83 105h1v1h-1zM90 105h1v1h-1zM106 105h1v1h-1zM58 106h1v1h-1zM62 106h1v1h-1zM72 106h1v1h-1zM74 106h1v1h-1zM77 106h1v1h-1zM84 106h1v1h-1zM87 106h1v1h-1zM90 106h1v1h-1zM106 106h1v1h-1zM58 107h1v1h-1zM61 107h1v1h-1zM81 107h1v1h-1zM110 107h1v1h-1zM58 108h1v1h-1zM67 108h1v1h-1zM79 108h1v1h-1zM82 108h1v1h-1zM84 108h1v1h-1zM106 108h1v1h-1zM108 108h2v1h-2zM111 108h1v1h-1zM58 109h1v1h-1zM77 109h1v1h-1zM79 109h2v1h-2zM83 109h1v1h-1zM86 109h3v1h-3zM106 109h2v1h-2zM77 110h1v1h-1zM106 110h3v1h-3zM110 110h1v1h-1zM112 110h1v1h-1zM57 111h1v1h-1zM68 111h1v1h-1zM78 111h1v1h-1zM83 111h1v1h-1zM112 111h1v1h-1zM55 112h1v1h-1zM57 112h1v1h-1zM65 112h1v1h-1zM68 112h1v1h-1zM77 112h1v1h-1zM80 112h1v1h-1zM86 112h1v1h-1zM88 112h1v1h-1zM105 112h5v1h-5zM58 113h1v1h-1zM77 113h1v1h-1zM80 113h1v1h-1zM88 113h2v1h-2zM105 113h1v1h-1zM111 113h1v1h-1zM57 114h1v1h-1zM63 114h2v1h-2zM73 114h1v1h-1zM79 114h1v1h-1zM106 114h1v1h-1zM111 114h1v1h-1zM55 115h1v1h-1zM59 115h1v1h-1zM61 115h1v1h-1zM78 115h2v1h-2zM101 115h2v1h-2zM55 116h1v1h-1zM57 116h1v1h-1zM85 116h2v1h-2zM92 116h2v1h-2zM104 116h1v1h-1zM55 117h2v1h-2zM80 117h1v1h-1zM83 117h2v1h-2zM92 117h1v1h-1zM94 117h1v1h-1zM100 117h1v1h-1zM102 117h2v1h-2zM56 118h1v1h-1zM60 118h3v1h-3zM67 118h2v1h-2zM70 118h2v1h-2zM73 118h1v1h-1zM75 118h2v1h-2zM82 118h1v1h-1zM87 118h2v1h-2zM92 118h1v1h-1zM99 118h1v1h-1zM102 118h1v1h-1zM106 118h1v1h-1zM58 119h1v1h-1zM63 119h1v1h-1zM70 119h2v1h-2zM74 119h1v1h-1zM81 119h2v1h-2zM91 119h1v1h-1zM65 120h1v1h-1zM70 120h1v1h-1zM74 120h1v1h-1zM82 120h1v1h-1zM89 120h1v1h-1zM93 120h1v1h-1zM97 120h2v1h-2zM101 120h1v1h-1z" fill="#4d4d4d"/><path d="M82 71h2v1h-2zM95 71h1v1h-1zM107 71h1v1h-1zM83 72h1v1h-1zM91 72h1v1h-1zM93 72h1v1h-1zM95 72h2v1h-2zM98 72h1v1h-1zM100 72h1v1h-1zM76 73h1v1h-1zM82 73h1v1h-1zM88 73h1v1h-1zM93 73h1v1h-1zM105 73h1v1h-1zM70 74h1v1h-1zM81 74h1v1h-1zM83 74h1v1h-1zM76 75h1v1h-1zM83 75h2v1h-2zM87 75h2v1h-2zM91 75h2v1h-2zM95 75h1v1h-1zM78 76h1v1h-1zM82 76h2v1h-2zM85 76h1v1h-1zM87 76h1v1h-1zM91 76h2v1h-2zM94 76h1v1h-1zM98 76h1v1h-1zM100 76h1v1h-1zM78 77h4v1h-4zM89 77h2v1h-2zM82 78h4v1h-4zM88 78h1v1h-1zM97 78h1v1h-1zM108 78h1v1h-1zM96 79h2v1h-2zM103 79h1v1h-1zM69 80h1v1h-1zM90 80h1v1h-1zM79 81h1v1h-1zM82 81h1v1h-1zM92 81h1v1h-1zM94 81h1v1h-1zM97 81h1v1h-1zM67 82h1v1h-1zM79 82h1v1h-1zM82 82h2v1h-2zM89 82h1v1h-1zM91 82h1v1h-1zM95 82h1v1h-1zM100 82h1v1h-1zM73 83h1v1h-1zM86 83h1v1h-1zM92 83h2v1h-2zM101 83h2v1h-2zM73 84h1v1h-1zM82 84h1v1h-1zM90 84h2v1h-2zM100 84h1v1h-1zM102 84h1v1h-1zM105 84h1v1h-1zM76 85h1v1h-1zM89 85h2v1h-2zM80 86h1v1h-1zM85 86h1v1h-1zM87 86h2v1h-2zM107 86h1v1h-1zM86 87h1v1h-1zM88 87h1v1h-1zM94 87h1v1h-1zM98 88h1v1h-1zM102 88h1v1h-1zM110 88h1v1h-1zM73 89h1v1h-1zM84 89h1v1h-1zM100 89h1v1h-1zM99 90h1v1h-1zM103 90h1v1h-1zM105 90h1v1h-1zM88 91h1v1h-1zM107 91h1v1h-1zM85 92h1v1h-1zM90 92h1v1h-1zM96 92h1v1h-1zM87 93h1v1h-1zM93 93h1v1h-1zM96 93h1v1h-1zM99 93h1v1h-1zM101 93h1v1h-1zM85 94h4v1h-4zM92 94h1v1h-1zM96 94h1v1h-1zM103 94h1v1h-1zM106 94h1v1h-1zM87 95h1v1h-1zM91 95h1v1h-1zM96 95h1v1h-1zM98 95h1v1h-1zM103 95h2v1h-2zM85 96h2v1h-2zM89 96h1v1h-1zM112 96h1v1h-1zM93 97h1v1h-1zM104 97h1v1h-1zM85 98h1v1h-1zM90 98h1v1h-1zM93 98h1v1h-1zM95 98h1v1h-1zM97 98h1v1h-1zM87 99h1v1h-1zM92 99h1v1h-1zM109 99h2v1h-2zM65 100h2v1h-2zM70 100h1v1h-1zM73 100h1v1h-1zM101 100h1v1h-1zM103 100h1v1h-1zM65 101h1v1h-1zM89 101h1v1h-1zM91 101h3v1h-3zM98 101h3v1h-3zM108 101h1v1h-1zM56 102h2v1h-2zM59 102h1v1h-1zM69 102h1v1h-1zM71 102h1v1h-1zM73 102h1v1h-1zM90 102h1v1h-1zM97 102h1v1h-1zM99 102h1v1h-1zM103 102h1v1h-1zM107 102h2v1h-2zM58 103h1v1h-1zM64 103h1v1h-1zM71 103h1v1h-1zM76 103h1v1h-1zM80 103h1v1h-1zM88 103h1v1h-1zM91 103h2v1h-2zM103 103h3v1h-3zM108 103h1v1h-1zM64 104h1v1h-1zM66 104h2v1h-2zM69 104h1v1h-1zM73 104h1v1h-1zM76 104h1v1h-1zM104 104h1v1h-1zM108 104h1v1h-1zM56 105h1v1h-1zM60 105h1v1h-1zM63 105h1v1h-1zM71 105h1v1h-1zM78 105h1v1h-1zM81 105h2v1h-2zM88 105h1v1h-1zM107 105h1v1h-1zM109 105h2v1h-2zM55 106h1v1h-1zM57 106h1v1h-1zM60 106h1v1h-1zM79 106h1v1h-1zM82 106h1v1h-1zM56 107h2v1h-2zM78 107h1v1h-1zM106 107h1v1h-1zM108 107h1v1h-1zM57 108h1v1h-1zM81 108h1v1h-1zM83 108h1v1h-1zM86 108h2v1h-2zM110 108h1v1h-1zM55 109h1v1h-1zM78 109h1v1h-1zM85 109h1v1h-1zM111 109h1v1h-1zM56 110h1v1h-1zM86 110h1v1h-1zM55 111h2v1h-2zM79 111h1v1h-1zM81 111h2v1h-2zM86 111h1v1h-1zM88 111h1v1h-1zM107 111h1v1h-1zM109 111h1v1h-1zM56 112h1v1h-1zM83 112h1v1h-1zM89 112h1v1h-1zM56 113h1v1h-1zM81 113h1v1h-1zM85 113h2v1h-2zM55 114h1v1h-1zM77 114h1v1h-1zM82 114h1v1h-1zM85 114h1v1h-1zM87 114h1v1h-1zM108 114h2v1h-2zM58 115h1v1h-1zM83 115h1v1h-1zM85 115h2v1h-2zM88 115h2v1h-2zM103 115h1v1h-1zM59 116h1v1h-1zM76 116h1v1h-1zM83 116h1v1h-1zM94 116h2v1h-2zM102 116h1v1h-1zM59 117h3v1h-3zM78 117h1v1h-1zM82 117h1v1h-1zM87 117h1v1h-1zM91 117h1v1h-1zM95 117h1v1h-1zM106 117h3v1h-3zM63 118h2v1h-2zM91 118h1v1h-1zM93 118h1v1h-1zM96 118h1v1h-1zM100 118h1v1h-1zM103 118h1v1h-1zM57 119h1v1h-1zM62 119h1v1h-1zM66 119h1v1h-1zM69 119h1v1h-1zM72 119h1v1h-1zM75 119h2v1h-2zM92 119h3v1h-3zM99 119h1v1h-1zM106 119h1v1h-1zM57 120h1v1h-1zM60 120h2v1h-2zM63 120h2v1h-2zM68 120h1v1h-1zM80 120h1v1h-1zM91 120h1v1h-1zM99 120h1v1h-1zM102 120h1v1h-1z" fill="#333333"/><path d="M80 71h1v1h-1zM89 71h1v1h-1zM97 72h1v1h-1zM86 73h2v1h-2zM84 74h1v1h-1zM86 74h1v1h-1zM88 74h1v1h-1zM94 74h2v1h-2zM82 75h1v1h-1zM76 76h1v1h-1zM95 76h1v1h-1zM74 77h1v1h-1zM88 77h1v1h-1zM93 77h2v1h-2zM96 77h1v1h-1zM79 78h1v1h-1zM90 78h4v1h-4zM96 78h1v1h-1zM77 79h1v1h-1zM83 79h1v1h-1zM86 79h1v1h-1zM89 79h2v1h-2zM92 79h4v1h-4zM84 80h3v1h-3zM88 80h1v1h-1zM96 80h1v1h-1zM83 81h1v1h-1zM87 81h1v1h-1zM90 81h1v1h-1zM75 82h1v1h-1zM80 82h1v1h-1zM90 82h1v1h-1zM93 82h1v1h-1zM79 83h2v1h-2zM89 83h1v1h-1zM80 84h1v1h-1zM86 84h1v1h-1zM99 84h1v1h-1zM106 84h1v1h-1zM81 85h1v1h-1zM87 85h1v1h-1zM75 86h1v1h-1zM78 86h1v1h-1zM81 86h1v1h-1zM86 86h1v1h-1zM90 86h1v1h-1zM81 87h1v1h-1zM103 87h1v1h-1zM105 87h1v1h-1zM83 88h1v1h-1zM101 88h1v1h-1zM81 89h1v1h-1zM83 89h1v1h-1zM97 90h1v1h-1zM92 92h2v1h-2zM89 93h2v1h-2zM95 93h1v1h-1zM103 93h1v1h-1zM90 94h2v1h-2zM89 95h1v1h-1zM94 95h1v1h-1zM92 96h1v1h-1zM96 96h1v1h-1zM104 98h1v1h-1zM68 99h1v1h-1zM89 99h1v1h-1zM95 99h1v1h-1zM99 99h1v1h-1zM101 99h1v1h-1zM72 100h1v1h-1zM91 100h1v1h-1zM93 100h1v1h-1zM95 100h1v1h-1zM97 100h1v1h-1zM104 100h1v1h-1zM62 101h2v1h-2zM66 101h1v1h-1zM71 101h2v1h-2zM75 101h1v1h-1zM101 101h2v1h-2zM104 101h2v1h-2zM58 102h1v1h-1zM62 102h4v1h-4zM67 102h2v1h-2zM72 102h1v1h-1zM77 102h1v1h-1zM98 102h1v1h-1zM101 102h2v1h-2zM104 102h3v1h-3zM57 103h1v1h-1zM59 103h3v1h-3zM70 103h1v1h-1zM73 103h1v1h-1zM77 103h1v1h-1zM79 103h1v1h-1zM87 103h1v1h-1zM57 104h1v1h-1zM61 104h2v1h-2zM68 104h1v1h-1zM85 104h1v1h-1zM88 104h1v1h-1zM107 104h1v1h-1zM58 105h1v1h-1zM86 105h1v1h-1zM59 106h1v1h-1zM76 106h1v1h-1zM86 106h1v1h-1zM110 106h1v1h-1zM55 107h1v1h-1zM77 107h1v1h-1zM80 107h1v1h-1zM83 107h2v1h-2zM87 107h2v1h-2zM105 107h1v1h-1zM107 107h1v1h-1zM109 107h1v1h-1zM55 108h1v1h-1zM80 108h1v1h-1zM57 109h1v1h-1zM84 109h1v1h-1zM109 109h2v1h-2zM80 110h1v1h-1zM82 110h1v1h-1zM85 110h1v1h-1zM87 110h1v1h-1zM109 110h1v1h-1zM84 111h2v1h-2zM87 111h1v1h-1zM106 111h1v1h-1zM81 112h2v1h-2zM110 112h1v1h-1zM55 113h1v1h-1zM82 113h1v1h-1zM84 113h1v1h-1zM106 113h2v1h-2zM110 113h1v1h-1zM78 114h1v1h-1zM84 114h1v1h-1zM88 114h1v1h-1zM107 114h1v1h-1zM81 115h2v1h-2zM84 115h1v1h-1zM105 115h2v1h-2zM79 116h1v1h-1zM81 116h2v1h-2zM87 116h2v1h-2zM106 116h1v1h-1zM58 117h1v1h-1zM79 117h1v1h-1zM81 117h1v1h-1zM88 117h1v1h-1zM90 117h1v1h-1zM105 117h1v1h-1zM59 118h1v1h-1zM81 118h1v1h-1zM90 118h1v1h-1zM94 118h2v1h-2zM98 118h1v1h-1zM104 118h1v1h-1zM59 119h2v1h-2zM64 119h1v1h-1zM68 119h1v1h-1zM73 119h1v1h-1zM77 119h1v1h-1zM80 119h1v1h-1zM96 119h1v1h-1zM98 119h1v1h-1zM100 119h1v1h-1zM102 119h1v1h-1zM66 120h1v1h-1zM69 120h1v1h-1zM73 120h1v1h-1zM76 120h2v1h-2zM79 120h1v1h-1zM96 120h1v1h-1zM103 120h1v1h-1z" fill="#191919"/><path d="M90 73h1v1h-1zM80 76h1v1h-1zM86 76h1v1h-1zM89 76h2v1h-2zM101 76h1v1h-1zM83 77h5v1h-5zM92 77h1v1h-1zM86 78h2v1h-2zM89 78h1v1h-1zM95 78h1v1h-1zM78 79h1v1h-1zM81 79h1v1h-1zM84 79h2v1h-2zM78 80h1v1h-1zM80 80h1v1h-1zM89 80h1v1h-1zM91 80h3v1h-3zM95 80h1v1h-1zM84 81h3v1h-3zM88 81h1v1h-1zM93 81h1v1h-1zM86 82h3v1h-3zM92 82h1v1h-1zM84 83h1v1h-1zM88 83h1v1h-1zM90 83h2v1h-2zM84 84h1v1h-1zM87 84h1v1h-1zM89 84h1v1h-1zM92 84h1v1h-1zM84 85h1v1h-1zM88 85h1v1h-1zM86 88h1v1h-1zM99 91h1v1h-1zM94 93h1v1h-1zM95 94h1v1h-1zM91 97h1v1h-1zM96 99h1v1h-1zM100 99h1v1h-1zM69 100h1v1h-1zM94 100h1v1h-1zM96 100h1v1h-1zM98 100h1v1h-1zM100 100h1v1h-1zM102 100h1v1h-1zM74 101h1v1h-1zM88 101h1v1h-1zM90 101h1v1h-1zM94 101h1v1h-1zM96 101h1v1h-1zM103 101h1v1h-1zM106 101h1v1h-1zM76 102h1v1h-1zM88 102h1v1h-1zM56 103h1v1h-1zM72 103h1v1h-1zM75 103h1v1h-1zM78 103h1v1h-1zM89 103h1v1h-1zM106 103h2v1h-2zM55 104h1v1h-1zM58 104h2v1h-2zM77 104h1v1h-1zM79 104h1v1h-1zM87 104h1v1h-1zM106 104h1v1h-1zM109 104h1v1h-1zM55 105h1v1h-1zM57 105h1v1h-1zM79 105h2v1h-2zM85 105h1v1h-1zM87 105h1v1h-1zM108 105h1v1h-1zM56 106h1v1h-1zM78 106h1v1h-1zM80 106h2v1h-2zM85 106h1v1h-1zM88 106h1v1h-1zM108 106h2v1h-2zM82 107h1v1h-1zM85 107h2v1h-2zM77 108h1v1h-1zM85 108h1v1h-1zM81 109h2v1h-2zM108 109h1v1h-1zM83 110h1v1h-1zM80 111h1v1h-1zM110 111h1v1h-1zM84 112h2v1h-2zM79 113h1v1h-1zM80 114h2v1h-2zM83 114h1v1h-1zM86 114h1v1h-1zM80 115h1v1h-1zM87 115h1v1h-1zM107 115h3v1h-3zM56 116h1v1h-1zM80 116h1v1h-1zM89 116h1v1h-1zM105 116h1v1h-1zM107 116h2v1h-2zM76 117h1v1h-1zM89 117h1v1h-1zM97 117h1v1h-1zM104 117h1v1h-1zM55 118h1v1h-1zM57 118h2v1h-2zM78 118h2v1h-2zM89 118h1v1h-1zM101 118h1v1h-1zM105 118h1v1h-1zM56 119h1v1h-1zM78 119h1v1h-1zM90 119h1v1h-1zM97 119h1v1h-1zM101 119h1v1h-1zM103 119h3v1h-3zM56 120h1v1h-1zM58 120h2v1h-2zM62 120h1v1h-1zM71 120h2v1h-2zM75 120h1v1h-1zM92 120h1v1h-1zM94 120h1v1h-1zM100 120h1v1h-1z" fill="#000000"/></g>
<rect x="54.9" y="70.4" width="58.1" height="50.4" fill="none" stroke="#2a2a2a" stroke-width="0.9"/>
<polyline points="54.9,91.5 84,91.5 88.7,86.5 101,75.8 111.6,75 105.9,70.4" fill="none" stroke="#2a2a2a" stroke-width="1" stroke-linejoin="round"/>
<polyline points="84,91.5 86,99.5 89,101.2 96,100.8 104,96.5 111.6,89 111.6,75" fill="none" stroke="#2a2a2a" stroke-width="1" stroke-linejoin="round"/>
<rect x="54.9" y="31.5" width="96.6" height="89.3" fill="none" stroke="#666" stroke-width="1.1"/>
<rect x="132.7" y="30" width="2.3" height="3" fill="#fff"/>
<text x="74.4" y="67.7" font-size="8.3" stroke="#000" stroke-width="0.3" font-weight="bold" textLength="15.6" lengthAdjust="spacingAndGlyphs">2.76</text>
<text x="115" y="86.8" font-size="8.3" stroke="#000" stroke-width="0.3" font-weight="bold" textLength="15" lengthAdjust="spacingAndGlyphs">2.77</text>
<line x1="52.8" y1="100" x2="54.9" y2="100" stroke="#666" stroke-width="0.8"/>
<line x1="52.8" y1="77.5" x2="54.9" y2="77.5" stroke="#666" stroke-width="0.8"/>
<line x1="52.8" y1="55" x2="54.9" y2="55" stroke="#666" stroke-width="0.8"/>
<line x1="79" y1="120.8" x2="79" y2="122.8" stroke="#666" stroke-width="0.8"/>
<line x1="103" y1="120.8" x2="103" y2="122.8" stroke="#666" stroke-width="0.8"/>
<line x1="127" y1="120.8" x2="127" y2="122.8" stroke="#666" stroke-width="0.8"/>
<text x="49.6" y="122.4" font-size="5.2" stroke="#444" stroke-width="0.3" text-anchor="end" fill="#444">10</text>
<text x="49.7" y="120" font-size="3.6" stroke="#444" stroke-width="0.3" fill="#444">0</text>
<text x="49.6" y="101.8" font-size="5.2" stroke="#444" stroke-width="0.3" text-anchor="end" fill="#444">10</text>
<text x="49.7" y="99.4" font-size="3.6" stroke="#444" stroke-width="0.3" fill="#444">1</text>
<text x="49.6" y="79.3" font-size="5.2" stroke="#444" stroke-width="0.3" text-anchor="end" fill="#444">10</text>
<text x="49.7" y="76.9" font-size="3.6" stroke="#444" stroke-width="0.3" fill="#444">2</text>
<text x="49.6" y="56.8" font-size="5.2" stroke="#444" stroke-width="0.3" text-anchor="end" fill="#444">10</text>
<text x="49.7" y="54.4" font-size="3.6" stroke="#444" stroke-width="0.3" fill="#444">3</text>
<text x="55.3" y="130.5" font-size="5.2" stroke="#444" stroke-width="0.3" text-anchor="middle" fill="#444">10</text>
<text x="58.2" y="128.2" font-size="3.6" stroke="#444" stroke-width="0.3" fill="#444">0</text>
<text x="79.3" y="130.5" font-size="5.2" stroke="#444" stroke-width="0.3" text-anchor="middle" fill="#444">10</text>
<text x="82.2" y="128.2" font-size="3.6" stroke="#444" stroke-width="0.3" fill="#444">1</text>
<text x="103.3" y="130.5" font-size="5.2" stroke="#444" stroke-width="0.3" text-anchor="middle" fill="#444">10</text>
<text x="106.2" y="128.2" font-size="3.6" stroke="#444" stroke-width="0.3" fill="#444">2</text>
<text x="127.3" y="130.5" font-size="5.2" stroke="#444" stroke-width="0.3" text-anchor="middle" fill="#444">10</text>
<text x="130.2" y="128.2" font-size="3.6" stroke="#444" stroke-width="0.3" fill="#444">3</text>
<path d="M195.5 118h1v1h-1zM195 101.5h1v1h-1zM180.5 100h1v1h-1zM179.5 100.5h1v1h-1zM187 112h1v1h-1zM201 108h1v1h-1zM180.5 117.5h1v1h-1zM202.5 119h1v1h-1zM177 111.5h1v1h-1zM194.5 110.5h1v1h-1zM181.5 117.5h1v1h-1zM191.5 100.5h1v1h-1zM186 114h1v1h-1zM182 115h1v1h-1zM182 108.5h1v1h-1zM184.5 102.5h1v1h-1zM201.5 106.5h1v1h-1zM198 117h1v1h-1zM184.5 100h1v1h-1zM191.5 104.5h1v1h-1zM201.5 103h1v1h-1zM197 100.5h1v1h-1zM184 104h1v1h-1zM200.5 111.5h1v1h-1zM195 101.5h1v1h-1zM185 117h1v1h-1zM194 114.5h1v1h-1zM190.5 104h1v1h-1zM202.5 105h1v1h-1zM181 112.5h1v1h-1zM178.5 114.5h1v1h-1zM196.5 107.5h1v1h-1zM191 109.5h1v1h-1zM178.5 101.5h1v1h-1zM186.5 100h1v1h-1zM181.5 107h1v1h-1zM194 110h1v1h-1zM181 114.5h1v1h-1zM199 112.5h1v1h-1zM196 105h1v1h-1zM200.5 111h1v1h-1zM181 113h1v1h-1zM194 111h1v1h-1zM189.5 114.5h1v1h-1zM197 111.5h1v1h-1zM178 104.5h1v1h-1zM204.5 107.5h1v1h-1zM194.5 102.5h1v1h-1zM192.5 111.5h1v1h-1zM198 118.5h1v1h-1zM189.5 106h1v1h-1zM180.5 106.5h1v1h-1zM189 118.5h1v1h-1zM191 113h1v1h-1zM197.5 100.5h1v1h-1zM183 110.5h1v1h-1zM178 103h1v1h-1zM198 113h1v1h-1zM180 102.5h1v1h-1zM200.5 109h1v1h-1zM185 114h1v1h-1zM195.5 119h1v1h-1zM179 115h1v1h-1zM189.5 105h1v1h-1zM190.5 100.5h1v1h-1zM179.5 102h1v1h-1zM196 113.5h1v1h-1zM183 106h1v1h-1zM198.5 107.5h1v1h-1zM186 118h1v1h-1zM192 110.5h1v1h-1zM193.5 101h1v1h-1zM187.5 115h1v1h-1zM195 117h1v1h-1zM185 109h1v1h-1zM183 103.5h1v1h-1zM178.5 104h1v1h-1zM181 108.5h1v1h-1zM188 114.5h1v1h-1zM198.5 110.5h1v1h-1zM195 109h1v1h-1zM185 109.5h1v1h-1zM194.5 118.5h1v1h-1zM199.5 101.5h1v1h-1zM194.5 101.5h1v1h-1zM194 116.5h1v1h-1zM196.5 102.5h1v1h-1zM188.5 103.5h1v1h-1zM195 113.5h1v1h-1zM197.5 107h1v1h-1z" fill="#333" fill-opacity="0.84"/>
<path d="M208.5 116h1v1h-1zM180.5 115.5h1v1h-1zM183 106.5h1v1h-1zM182 113h1v1h-1zM181 113.5h1v1h-1zM185 111h1v1h-1zM176 106h1v1h-1zM180.5 114.5h1v1h-1zM206 118.5h1v1h-1zM203.5 115.5h1v1h-1zM186.5 106.5h1v1h-1zM187 102.5h1v1h-1zM190 118.5h1v1h-1zM183.5 106h1v1h-1zM183 111h1v1h-1zM180.5 111.5h1v1h-1zM186 111.5h1v1h-1zM190.5 115h1v1h-1zM176.5 112.5h1v1h-1zM178 112h1v1h-1zM183 110h1v1h-1zM177.5 104.5h1v1h-1zM203 114.5h1v1h-1zM186.5 116h1v1h-1zM187.5 119h1v1h-1zM192 114.5h1v1h-1zM185 114.5h1v1h-1zM198 103h1v1h-1zM186 111h1v1h-1zM184.5 103.5h1v1h-1zM194 109h1v1h-1zM185 110.5h1v1h-1zM184.5 113h1v1h-1zM188 112.5h1v1h-1zM206.5 115.5h1v1h-1zM176.5 110h1v1h-1zM181.5 112.5h1v1h-1zM182 109h1v1h-1zM202 113.5h1v1h-1zM184.5 112h1v1h-1zM191.5 119h1v1h-1zM187.5 104.5h1v1h-1zM192.5 110h1v1h-1zM197 119h1v1h-1zM194 108h1v1h-1zM210 107.5h1v1h-1zM186.5 106h1v1h-1zM199 115.5h1v1h-1zM195.5 113.5h1v1h-1zM186.5 114h1v1h-1zM195.5 111h1v1h-1zM187 114.5h1v1h-1zM201.5 115.5h1v1h-1zM188 110.5h1v1h-1zM188 112h1v1h-1zM188 117h1v1h-1zM191.5 114.5h1v1h-1zM193.5 114h1v1h-1zM187 115.5h1v1h-1zM187.5 119h1v1h-1zM187.5 108.5h1v1h-1zM197 114h1v1h-1zM188.5 113.5h1v1h-1zM196.5 117.5h1v1h-1zM189.5 105.5h1v1h-1zM184 114h1v1h-1zM203.5 115h1v1h-1zM186.5 113h1v1h-1zM189 106h1v1h-1zM196 115.5h1v1h-1zM185 107.5h1v1h-1zM181.5 108h1v1h-1zM191.5 105.5h1v1h-1zM181.5 112h1v1h-1zM182.5 115h1v1h-1zM185.5 110.5h1v1h-1zM183.5 116.5h1v1h-1zM196 118h1v1h-1zM194 97h1v1h-1zM178.5 111.5h1v1h-1zM189.5 105h1v1h-1zM200.5 115h1v1h-1zM182 114h1v1h-1zM184.5 109.5h1v1h-1zM192 111h1v1h-1zM186.5 108h1v1h-1zM199 108h1v1h-1zM203.5 118h1v1h-1zM179 114h1v1h-1zM198 112.5h1v1h-1zM177 114h1v1h-1zM205.5 106h1v1h-1zM192.5 113.5h1v1h-1zM186.5 111.5h1v1h-1zM184.5 118.5h1v1h-1zM193 108.5h1v1h-1zM201.5 107h1v1h-1zM193.5 114.5h1v1h-1zM198.5 115h1v1h-1zM197 113h1v1h-1zM196.5 115h1v1h-1zM207 110h1v1h-1zM198.5 115.5h1v1h-1zM189 110.5h1v1h-1zM191.5 106h1v1h-1zM185 114.5h1v1h-1zM188.5 115.5h1v1h-1zM185 111.5h1v1h-1zM186.5 118.5h1v1h-1zM191 112.5h1v1h-1zM195 111.5h1v1h-1zM188.5 118.5h1v1h-1zM190.5 104.5h1v1h-1zM183.5 111.5h1v1h-1zM192.5 109h1v1h-1zM183.5 108.5h1v1h-1zM187.5 113.5h1v1h-1zM196.5 117.5h1v1h-1zM189 114.5h1v1h-1zM188.5 114h1v1h-1zM201.5 101h1v1h-1zM186 115h1v1h-1zM198 108h1v1h-1zM191 117.5h1v1h-1zM183.5 104h1v1h-1zM184.5 107.5h1v1h-1zM193.5 109h1v1h-1zM203.5 114h1v1h-1zM180.5 111h1v1h-1zM178 115.5h1v1h-1zM201 112.5h1v1h-1zM196 108.5h1v1h-1zM198.5 104h1v1h-1zM196.5 111h1v1h-1zM186 117h1v1h-1zM189 114.5h1v1h-1zM185 119h1v1h-1zM184.5 109.5h1v1h-1zM193.5 115.5h1v1h-1zM195 109h1v1h-1zM191 111.5h1v1h-1zM205 113h1v1h-1zM177 108h1v1h-1zM179.5 114h1v1h-1zM187.5 118h1v1h-1zM189 114h1v1h-1zM190.5 112.5h1v1h-1zM190 117.5h1v1h-1zM194.5 110.5h1v1h-1zM190 101h1v1h-1zM183.5 115.5h1v1h-1zM182.5 107.5h1v1h-1zM199 107.5h1v1h-1zM211.5 108.5h1v1h-1zM185 108h1v1h-1zM188 106.5h1v1h-1zM187.5 118.5h1v1h-1zM189.5 112h1v1h-1zM201.5 109h1v1h-1zM196 112h1v1h-1zM189.5 113.5h1v1h-1zM188.5 113h1v1h-1zM180.5 110.5h1v1h-1zM191.5 112.5h1v1h-1zM177 109.5h1v1h-1zM181 113h1v1h-1z" fill="#333" fill-opacity="0.84"/>
<path d="M213.5 88.5h1v1h-1zM209.5 88h1v1h-1zM206 74h1v1h-1zM212 80h1v1h-1zM208 82h1v1h-1zM215.5 82h1v1h-1zM213.5 85.5h1v1h-1zM206.5 80h1v1h-1zM214.5 89.5h1v1h-1zM216 96.5h1v1h-1zM213.5 89h1v1h-1zM211.5 88h1v1h-1zM210.5 83.5h1v1h-1zM222 79h1v1h-1zM213.5 90h1v1h-1zM213 83h1v1h-1zM211.5 85.5h1v1h-1zM207 87.5h1v1h-1zM210.5 85h1v1h-1zM215.5 82.5h1v1h-1zM214.5 84.5h1v1h-1zM214.5 88h1v1h-1zM213.5 83h1v1h-1zM208.5 83.5h1v1h-1zM213 91h1v1h-1zM217.5 85h1v1h-1zM212.5 80h1v1h-1zM201.5 83.5h1v1h-1zM209 80h1v1h-1zM203.5 90h1v1h-1zM208.5 79.5h1v1h-1zM223.5 88.5h1v1h-1zM210.5 91h1v1h-1zM208.5 95h1v1h-1zM204.5 81.5h1v1h-1zM211.5 84h1v1h-1zM219 80h1v1h-1zM208.5 88.5h1v1h-1zM215 92.5h1v1h-1zM213.5 98h1v1h-1zM210 88.5h1v1h-1zM216 86h1v1h-1zM210.5 85h1v1h-1zM209 82h1v1h-1zM209.5 80h1v1h-1zM214 80h1v1h-1zM222 95.5h1v1h-1zM217.5 86.5h1v1h-1zM209 93.5h1v1h-1zM213 90h1v1h-1zM208.5 92.5h1v1h-1zM208 88h1v1h-1zM203.5 84h1v1h-1zM214.5 85h1v1h-1zM210 91h1v1h-1zM211.5 93.5h1v1h-1zM200.5 90h1v1h-1zM214.5 80h1v1h-1zM206 91.5h1v1h-1zM207 84.5h1v1h-1zM215 86h1v1h-1zM214 83h1v1h-1zM213.5 92.5h1v1h-1zM213.5 77h1v1h-1zM215 87.5h1v1h-1zM207.5 94h1v1h-1zM203.5 96.5h1v1h-1zM209 95h1v1h-1zM211.5 81h1v1h-1zM212.5 89h1v1h-1zM214.5 92.5h1v1h-1zM207.5 89.5h1v1h-1zM215.5 86h1v1h-1zM207.5 83h1v1h-1zM215.5 91h1v1h-1zM208 81h1v1h-1zM218 80h1v1h-1zM212.5 83.5h1v1h-1zM203.5 88h1v1h-1zM211 94h1v1h-1zM223 86.5h1v1h-1zM217 92.5h1v1h-1zM209.5 83h1v1h-1zM219.5 85.5h1v1h-1zM212 86h1v1h-1zM211.5 84.5h1v1h-1zM215.5 93.5h1v1h-1zM210 80.5h1v1h-1zM212 80h1v1h-1zM209 93h1v1h-1zM223 89h1v1h-1zM207 91h1v1h-1zM201 84h1v1h-1zM219 91h1v1h-1zM205.5 79.5h1v1h-1zM216 87h1v1h-1zM209 89.5h1v1h-1zM209 78h1v1h-1zM216 84h1v1h-1zM207 81h1v1h-1zM213 83.5h1v1h-1zM215 86h1v1h-1zM217 85.5h1v1h-1zM209 78h1v1h-1zM206.5 91h1v1h-1zM226.5 81.5h1v1h-1zM207 89h1v1h-1zM214 84h1v1h-1zM212.5 79.5h1v1h-1zM210.5 91.5h1v1h-1zM219.5 86.5h1v1h-1zM210.5 89.5h1v1h-1zM217 89.5h1v1h-1zM208.5 89h1v1h-1zM216.5 84h1v1h-1zM205.5 90h1v1h-1zM213.5 92h1v1h-1zM212.5 84.5h1v1h-1zM210 82.5h1v1h-1zM207.5 84.5h1v1h-1zM209.5 92.5h1v1h-1zM206 87h1v1h-1zM209 94.5h1v1h-1zM213 85.5h1v1h-1zM216 87.5h1v1h-1zM209.5 94.5h1v1h-1zM215.5 95.5h1v1h-1zM217.5 91h1v1h-1zM212.5 82h1v1h-1zM215.5 87.5h1v1h-1zM215 87.5h1v1h-1zM208.5 82.5h1v1h-1zM215.5 93.5h1v1h-1zM210.5 89.5h1v1h-1zM218.5 83.5h1v1h-1zM210.5 82h1v1h-1zM217.5 88.5h1v1h-1zM210 79.5h1v1h-1zM211 92h1v1h-1zM210.5 85.5h1v1h-1zM215 81.5h1v1h-1zM212.5 90.5h1v1h-1zM208.5 83.5h1v1h-1zM213 87h1v1h-1zM211 88.5h1v1h-1zM213 83h1v1h-1zM209 89.5h1v1h-1zM217.5 94h1v1h-1zM208 92.5h1v1h-1zM215.5 87.5h1v1h-1zM214.5 91.5h1v1h-1zM220.5 82.5h1v1h-1zM215 87h1v1h-1zM211 93h1v1h-1zM216 82.5h1v1h-1zM210.5 88.5h1v1h-1zM205.5 91.5h1v1h-1zM211.5 88h1v1h-1zM213.5 96h1v1h-1zM212 85.5h1v1h-1zM220.5 85h1v1h-1zM209.5 81h1v1h-1zM217 88.5h1v1h-1zM214.5 88h1v1h-1zM211.5 83.5h1v1h-1zM208.5 89.5h1v1h-1zM212.5 95h1v1h-1zM208.5 85h1v1h-1zM207 94h1v1h-1zM206 91h1v1h-1zM219 87h1v1h-1zM215.5 77.5h1v1h-1zM210 79.5h1v1h-1zM213 87.5h1v1h-1zM208.5 92h1v1h-1zM214 85h1v1h-1zM209.5 80.5h1v1h-1zM211 97.5h1v1h-1zM208.5 89.5h1v1h-1zM209.5 91.5h1v1h-1zM214 86.5h1v1h-1zM203.5 85h1v1h-1zM218 86.5h1v1h-1zM215 85h1v1h-1zM203 89.5h1v1h-1zM213.5 84.5h1v1h-1zM210.5 89h1v1h-1zM209.5 89h1v1h-1zM211 76.5h1v1h-1zM211.5 84.5h1v1h-1zM208 89.5h1v1h-1zM210 90h1v1h-1zM217.5 88h1v1h-1zM204.5 84h1v1h-1zM216.5 86.5h1v1h-1zM208.5 87h1v1h-1zM214.5 88.5h1v1h-1zM215 83.5h1v1h-1zM211 86.5h1v1h-1zM212 77.5h1v1h-1zM211 81h1v1h-1zM218.5 95h1v1h-1zM220 91.5h1v1h-1zM210 92h1v1h-1zM211 90.5h1v1h-1zM208 84.5h1v1h-1zM214.5 96h1v1h-1zM212 98h1v1h-1zM225 81.5h1v1h-1zM212 83h1v1h-1zM211.5 85h1v1h-1zM212 92h1v1h-1zM216.5 89h1v1h-1zM212 88h1v1h-1zM212.5 90h1v1h-1zM212 90h1v1h-1zM206 91.5h1v1h-1zM220.5 88.5h1v1h-1zM205.5 94h1v1h-1zM210.5 73.5h1v1h-1zM211 90.5h1v1h-1zM214 93.5h1v1h-1zM215 88h1v1h-1zM203 82h1v1h-1zM213 91h1v1h-1zM207.5 84.5h1v1h-1zM214.5 78.5h1v1h-1zM203 86.5h1v1h-1zM213.5 85.5h1v1h-1zM201 87.5h1v1h-1zM206 90.5h1v1h-1zM211.5 89h1v1h-1zM215 85h1v1h-1zM216 93.5h1v1h-1zM214 94h1v1h-1zM209 92h1v1h-1zM213.5 83h1v1h-1zM212 85h1v1h-1zM209.5 88h1v1h-1zM217 86h1v1h-1zM212.5 80.5h1v1h-1zM212.5 93h1v1h-1zM216 90h1v1h-1zM209.5 83h1v1h-1zM211.5 81h1v1h-1zM206.5 92h1v1h-1zM208 96h1v1h-1zM205.5 89.5h1v1h-1zM206.5 88.5h1v1h-1zM207 87.5h1v1h-1zM211.5 85.5h1v1h-1zM214.5 94.5h1v1h-1zM209.5 91.5h1v1h-1zM212.5 87.5h1v1h-1zM222.5 77h1v1h-1zM209 79h1v1h-1zM210.5 86.5h1v1h-1zM230.5 89h1v1h-1zM220.5 93.5h1v1h-1zM210 90h1v1h-1zM220 88.5h1v1h-1zM213 90h1v1h-1zM205 83.5h1v1h-1zM213.5 90h1v1h-1zM208 86h1v1h-1zM211.5 87h1v1h-1zM215.5 88h1v1h-1zM213 81h1v1h-1zM207 89h1v1h-1zM204.5 89h1v1h-1zM209 83.5h1v1h-1zM215 84.5h1v1h-1zM208 84.5h1v1h-1zM212.5 100.5h1v1h-1zM202 87.5h1v1h-1zM211 92h1v1h-1zM210.5 75.5h1v1h-1zM218.5 82.5h1v1h-1zM212 81h1v1h-1zM207 85h1v1h-1zM216 91.5h1v1h-1zM209 90h1v1h-1zM210.5 88h1v1h-1zM213 90.5h1v1h-1zM209 87h1v1h-1zM213 88h1v1h-1zM208.5 95.5h1v1h-1zM210 91h1v1h-1zM213 93.5h1v1h-1zM201.5 97h1v1h-1zM211 81.5h1v1h-1zM212.5 98h1v1h-1zM214.5 81.5h1v1h-1zM210 94h1v1h-1zM205.5 86.5h1v1h-1zM210.5 98h1v1h-1zM210.5 93.5h1v1h-1zM209 83.5h1v1h-1zM217 90.5h1v1h-1zM204 90.5h1v1h-1zM215 84.5h1v1h-1zM213 88.5h1v1h-1zM209.5 84.5h1v1h-1zM209 86h1v1h-1zM205.5 87h1v1h-1zM205 88h1v1h-1zM211.5 82.5h1v1h-1zM216 96.5h1v1h-1zM218.5 81h1v1h-1zM218 88.5h1v1h-1zM212 84.5h1v1h-1zM212 94h1v1h-1zM214.5 85.5h1v1h-1zM209 85.5h1v1h-1zM215 96.5h1v1h-1zM207 87.5h1v1h-1zM210 84h1v1h-1zM214 90h1v1h-1zM205.5 82.5h1v1h-1zM217.5 89h1v1h-1z" fill="#111" fill-opacity="0.78"/>
<path d="M220.5 87.5h1v1h-1zM212.5 95.5h1v1h-1zM211.5 83h1v1h-1zM215.5 99h1v1h-1zM206.5 100h1v1h-1zM222 85h1v1h-1zM216 91.5h1v1h-1zM221.5 97h1v1h-1zM204 81h1v1h-1zM225 92.5h1v1h-1zM219.5 94.5h1v1h-1zM229.5 82h1v1h-1zM225.5 85h1v1h-1zM222 102.5h1v1h-1zM203.5 95h1v1h-1zM213 89.5h1v1h-1zM216 83.5h1v1h-1zM207 97h1v1h-1zM223 87h1v1h-1zM202.5 110h1v1h-1zM225.5 94.5h1v1h-1zM206.5 87h1v1h-1zM218 84h1v1h-1zM230 93h1v1h-1zM219 83.5h1v1h-1zM207.5 85.5h1v1h-1zM218 89.5h1v1h-1zM213 94h1v1h-1zM217.5 103.5h1v1h-1zM214 83.5h1v1h-1zM215.5 103.5h1v1h-1zM211 92h1v1h-1zM212.5 95h1v1h-1zM218 85.5h1v1h-1zM213.5 99h1v1h-1zM225.5 99h1v1h-1zM223.5 89h1v1h-1zM212.5 99h1v1h-1zM205.5 91.5h1v1h-1zM199.5 88.5h1v1h-1zM209.5 82.5h1v1h-1zM221 86h1v1h-1zM212.5 89.5h1v1h-1zM209 103h1v1h-1zM211.5 93.5h1v1h-1zM204 88h1v1h-1zM213 89.5h1v1h-1zM210.5 93h1v1h-1zM229.5 90.5h1v1h-1zM214.5 88.5h1v1h-1zM238 104.5h1v1h-1zM220.5 97.5h1v1h-1zM209.5 90.5h1v1h-1zM217.5 92.5h1v1h-1zM208 85.5h1v1h-1zM220.5 94h1v1h-1zM197 92.5h1v1h-1zM227 86.5h1v1h-1zM218 80.5h1v1h-1zM223 83h1v1h-1zM204.5 89.5h1v1h-1zM236.5 87h1v1h-1zM204.5 95.5h1v1h-1zM217.5 105h1v1h-1zM204.5 79h1v1h-1zM213 94.5h1v1h-1zM219 100.5h1v1h-1zM202.5 85.5h1v1h-1zM214.5 98.5h1v1h-1zM220 88.5h1v1h-1zM206.5 98.5h1v1h-1zM224 113h1v1h-1zM214 104.5h1v1h-1zM205 87.5h1v1h-1zM210 88h1v1h-1zM208 87.5h1v1h-1zM215.5 88h1v1h-1zM221.5 91h1v1h-1zM215.5 103.5h1v1h-1zM218.5 93h1v1h-1zM215.5 92.5h1v1h-1zM221 85.5h1v1h-1zM226 104h1v1h-1zM226 88h1v1h-1zM201.5 88.5h1v1h-1zM217 98.5h1v1h-1zM214 89.5h1v1h-1zM229 86.5h1v1h-1zM225 99h1v1h-1zM204 94h1v1h-1zM211 84.5h1v1h-1zM199.5 79.5h1v1h-1zM219.5 88.5h1v1h-1zM218 83.5h1v1h-1zM213 89.5h1v1h-1zM202 78.5h1v1h-1zM219.5 93h1v1h-1zM207.5 91h1v1h-1zM221.5 106h1v1h-1zM208 96.5h1v1h-1zM234.5 92.5h1v1h-1zM228.5 71.5h1v1h-1zM228.5 91.5h1v1h-1zM199 98h1v1h-1zM225 101h1v1h-1zM226.5 91.5h1v1h-1zM209 88h1v1h-1zM215.5 95h1v1h-1zM211.5 92h1v1h-1zM223.5 94.5h1v1h-1zM236 108.5h1v1h-1zM205.5 87.5h1v1h-1zM204 82.5h1v1h-1zM220.5 84h1v1h-1zM206.5 89.5h1v1h-1zM223 89h1v1h-1zM212.5 99h1v1h-1zM220 95.5h1v1h-1zM224 84h1v1h-1zM217.5 87h1v1h-1zM225 98h1v1h-1zM206.5 102.5h1v1h-1zM205.5 101h1v1h-1zM217.5 85h1v1h-1zM206 89.5h1v1h-1zM215.5 86h1v1h-1zM220.5 80.5h1v1h-1zM215.5 92h1v1h-1zM199 94h1v1h-1zM204.5 72h1v1h-1zM210.5 90h1v1h-1zM223.5 88h1v1h-1zM229 103h1v1h-1zM225.5 102h1v1h-1zM219 87.5h1v1h-1zM221.5 99.5h1v1h-1zM218 90h1v1h-1zM202 97h1v1h-1zM219 81.5h1v1h-1zM216.5 97.5h1v1h-1z" fill="#222" fill-opacity="0.72"/>
<path d="M217.5 114h1v1h-1zM221.5 98.5h1v1h-1zM216.5 112h1v1h-1zM222.5 118.5h1v1h-1zM208.5 108.5h1v1h-1zM221.5 117h1v1h-1zM226 102.5h1v1h-1zM216 101.5h1v1h-1zM222 99.5h1v1h-1zM223.5 115.5h1v1h-1zM220.5 94h1v1h-1zM214.5 114h1v1h-1zM211 107h1v1h-1zM217.5 115h1v1h-1zM219 110.5h1v1h-1zM215.5 109h1v1h-1zM217 114h1v1h-1zM217 116h1v1h-1zM209.5 117h1v1h-1zM217 116.5h1v1h-1zM218.5 114.5h1v1h-1zM225 105h1v1h-1zM218 107.5h1v1h-1zM219 97.5h1v1h-1zM217 107h1v1h-1zM214 107.5h1v1h-1zM210 118.5h1v1h-1zM213.5 100.5h1v1h-1zM219 97h1v1h-1zM219 104h1v1h-1zM216 110.5h1v1h-1zM221 100h1v1h-1zM222.5 99.5h1v1h-1zM218.5 100h1v1h-1zM213.5 118h1v1h-1zM215 104.5h1v1h-1zM215 106.5h1v1h-1zM225 100.5h1v1h-1zM211.5 113h1v1h-1zM210 106h1v1h-1zM223.5 108.5h1v1h-1zM215.5 104h1v1h-1zM213.5 104.5h1v1h-1zM218.5 117.5h1v1h-1zM222.5 105h1v1h-1zM214 113.5h1v1h-1zM209 105.5h1v1h-1zM216 101h1v1h-1zM213 111h1v1h-1zM209.5 102.5h1v1h-1zM214.5 109h1v1h-1zM211 116h1v1h-1zM216 107h1v1h-1zM216 104h1v1h-1zM213 116.5h1v1h-1zM218.5 108h1v1h-1zM222.5 103.5h1v1h-1zM221 108.5h1v1h-1zM213.5 114h1v1h-1zM210.5 113h1v1h-1zM213.5 111.5h1v1h-1zM224.5 112.5h1v1h-1zM214.5 108.5h1v1h-1zM216 100.5h1v1h-1zM212 109h1v1h-1zM220.5 96.5h1v1h-1zM217.5 112h1v1h-1zM218 101.5h1v1h-1zM222.5 100h1v1h-1zM207.5 110h1v1h-1zM219 110h1v1h-1zM214 106.5h1v1h-1zM210.5 109.5h1v1h-1zM220 104h1v1h-1zM213 105h1v1h-1zM217.5 109h1v1h-1zM217 109h1v1h-1zM211 89.5h1v1h-1zM220.5 118h1v1h-1zM210.5 104h1v1h-1zM219 115h1v1h-1zM220.5 117h1v1h-1zM217.5 111h1v1h-1zM219.5 105.5h1v1h-1zM223.5 112.5h1v1h-1zM222.5 105.5h1v1h-1zM222.5 101h1v1h-1zM219.5 90.5h1v1h-1zM212.5 113.5h1v1h-1zM215.5 109.5h1v1h-1zM209.5 119h1v1h-1zM220.5 108h1v1h-1zM219.5 110.5h1v1h-1zM224.5 110h1v1h-1zM210.5 106.5h1v1h-1zM224 112h1v1h-1zM215.5 112.5h1v1h-1zM218 112.5h1v1h-1zM209.5 102h1v1h-1zM221 107h1v1h-1zM216 110h1v1h-1zM215 104h1v1h-1zM217 98.5h1v1h-1zM207 117.5h1v1h-1zM217 116h1v1h-1zM218 109.5h1v1h-1zM221 113h1v1h-1zM211.5 116.5h1v1h-1zM213 109.5h1v1h-1zM230 109h1v1h-1zM225.5 106h1v1h-1zM220.5 108.5h1v1h-1zM219.5 102.5h1v1h-1zM213 110.5h1v1h-1zM210 102.5h1v1h-1zM220.5 104h1v1h-1zM213 100.5h1v1h-1zM218 106h1v1h-1zM218 107h1v1h-1zM226.5 105.5h1v1h-1zM208 109h1v1h-1zM217.5 109.5h1v1h-1zM209.5 116h1v1h-1zM217.5 108h1v1h-1zM210 111.5h1v1h-1zM217 117.5h1v1h-1zM215.5 100h1v1h-1zM218 102h1v1h-1zM219.5 101h1v1h-1zM217 107h1v1h-1zM217.5 105h1v1h-1zM213.5 108h1v1h-1zM214.5 109.5h1v1h-1zM216 93h1v1h-1zM217 118h1v1h-1zM219 112.5h1v1h-1zM219.5 105h1v1h-1zM211 114h1v1h-1zM222.5 112h1v1h-1zM219.5 111h1v1h-1zM217.5 110h1v1h-1zM217.5 110.5h1v1h-1zM213 104h1v1h-1zM220.5 106h1v1h-1zM206 109h1v1h-1zM221 113h1v1h-1zM214.5 100.5h1v1h-1zM216.5 108.5h1v1h-1zM214 109.5h1v1h-1zM221 112.5h1v1h-1zM212.5 94h1v1h-1zM217.5 104h1v1h-1zM225.5 110.5h1v1h-1zM218 110h1v1h-1zM221.5 108h1v1h-1zM215 103.5h1v1h-1zM217.5 104h1v1h-1zM221.5 106h1v1h-1zM224.5 116.5h1v1h-1zM211.5 115.5h1v1h-1zM215.5 117.5h1v1h-1zM220 108h1v1h-1zM221 104.5h1v1h-1zM219 111h1v1h-1zM217 111h1v1h-1zM213 112h1v1h-1zM212 112.5h1v1h-1zM220 113h1v1h-1zM216.5 109.5h1v1h-1zM214 118h1v1h-1zM215.5 115h1v1h-1zM213 110.5h1v1h-1zM216 115h1v1h-1zM216.5 103h1v1h-1zM220 100.5h1v1h-1zM213 113.5h1v1h-1zM209 113.5h1v1h-1zM216 102.5h1v1h-1zM219 113h1v1h-1zM215 107.5h1v1h-1zM221.5 113.5h1v1h-1zM217.5 103.5h1v1h-1zM213.5 104.5h1v1h-1zM221 112.5h1v1h-1zM219 118h1v1h-1zM216.5 106h1v1h-1zM208 110.5h1v1h-1zM220 109h1v1h-1zM229 116.5h1v1h-1zM221.5 103h1v1h-1zM220 106.5h1v1h-1zM218 110h1v1h-1zM215.5 113h1v1h-1zM225.5 115.5h1v1h-1zM219 96h1v1h-1zM223 116h1v1h-1zM217 105.5h1v1h-1zM221 103.5h1v1h-1zM221.5 102h1v1h-1zM213.5 109h1v1h-1zM211 109h1v1h-1zM220.5 100h1v1h-1zM222.5 105h1v1h-1zM220.5 110.5h1v1h-1zM216 105.5h1v1h-1zM210 104.5h1v1h-1zM222.5 100h1v1h-1zM221.5 110.5h1v1h-1zM216 112h1v1h-1zM221.5 105h1v1h-1zM216.5 110h1v1h-1zM213.5 110h1v1h-1zM217.5 104.5h1v1h-1zM214 111h1v1h-1zM222 111h1v1h-1zM214 114h1v1h-1zM219 113h1v1h-1zM223.5 103h1v1h-1zM217.5 105h1v1h-1zM222.5 97.5h1v1h-1zM220 105.5h1v1h-1zM223.5 109.5h1v1h-1zM217 110h1v1h-1zM220 109h1v1h-1zM217 108h1v1h-1zM220.5 101.5h1v1h-1zM218 108h1v1h-1zM215.5 114h1v1h-1zM212 106.5h1v1h-1zM214 112.5h1v1h-1zM216 109.5h1v1h-1zM220 98.5h1v1h-1zM220 104h1v1h-1zM217 108.5h1v1h-1zM222 114h1v1h-1zM226 110h1v1h-1zM216 105.5h1v1h-1zM219.5 105h1v1h-1zM219.5 110.5h1v1h-1zM218 104h1v1h-1zM206 105.5h1v1h-1zM223 110.5h1v1h-1zM207.5 109h1v1h-1zM219 101h1v1h-1zM221.5 104h1v1h-1zM220.5 109h1v1h-1zM212.5 113.5h1v1h-1zM211.5 118h1v1h-1zM218.5 102.5h1v1h-1zM225 101h1v1h-1zM225.5 110h1v1h-1zM217 108.5h1v1h-1zM216.5 118.5h1v1h-1zM218.5 97h1v1h-1zM228 115h1v1h-1zM213 106.5h1v1h-1zM214 109.5h1v1h-1zM220 110.5h1v1h-1zM215 104h1v1h-1zM222 108.5h1v1h-1zM228.5 103.5h1v1h-1zM221.5 109.5h1v1h-1zM214.5 118h1v1h-1zM218.5 103h1v1h-1zM216.5 115.5h1v1h-1zM212.5 118h1v1h-1zM221 107h1v1h-1zM221 110h1v1h-1zM226.5 119h1v1h-1zM213.5 107.5h1v1h-1zM217 106.5h1v1h-1zM211 115h1v1h-1zM218.5 109.5h1v1h-1zM224.5 105.5h1v1h-1zM217.5 111h1v1h-1zM216 108.5h1v1h-1zM221.5 109h1v1h-1zM224 104h1v1h-1zM219 99.5h1v1h-1zM217.5 104.5h1v1h-1zM224.5 114h1v1h-1zM225 113.5h1v1h-1zM215 99.5h1v1h-1zM218 106.5h1v1h-1zM215 107h1v1h-1zM210 119h1v1h-1zM212.5 104.5h1v1h-1zM220.5 98.5h1v1h-1zM222.5 115h1v1h-1zM216.5 102h1v1h-1zM216 97h1v1h-1zM224.5 109.5h1v1h-1zM214.5 103h1v1h-1zM220.5 119h1v1h-1zM212 105h1v1h-1zM209.5 113.5h1v1h-1zM217.5 106h1v1h-1zM214.5 114.5h1v1h-1zM210.5 114h1v1h-1zM219 105.5h1v1h-1zM213.5 116h1v1h-1zM227 106h1v1h-1zM215 107.5h1v1h-1zM212 108h1v1h-1zM217.5 106h1v1h-1zM214.5 98.5h1v1h-1zM211.5 102.5h1v1h-1zM221 105.5h1v1h-1zM214 113.5h1v1h-1zM220.5 104h1v1h-1zM215 113.5h1v1h-1zM219.5 103.5h1v1h-1zM219 109h1v1h-1zM223.5 103h1v1h-1zM222 112h1v1h-1zM213 116h1v1h-1zM222.5 100h1v1h-1zM227.5 101.5h1v1h-1zM213.5 107h1v1h-1zM221.5 113h1v1h-1zM217.5 118h1v1h-1zM220 118.5h1v1h-1zM231.5 110.5h1v1h-1zM205.5 106h1v1h-1zM213 109.5h1v1h-1zM218.5 101h1v1h-1zM212.5 107h1v1h-1zM217 91.5h1v1h-1zM222.5 109h1v1h-1zM218 111h1v1h-1zM213 108.5h1v1h-1zM223 116.5h1v1h-1zM220 107h1v1h-1zM214 118h1v1h-1zM220.5 106h1v1h-1zM207.5 103h1v1h-1zM208.5 117.5h1v1h-1zM219 104h1v1h-1zM224 100h1v1h-1zM217.5 100.5h1v1h-1zM209.5 110h1v1h-1zM218 106.5h1v1h-1zM219 116h1v1h-1zM211 96h1v1h-1zM227 111h1v1h-1zM226 110.5h1v1h-1zM225.5 105h1v1h-1zM223 106h1v1h-1zM222.5 104.5h1v1h-1zM211 112.5h1v1h-1zM225 115h1v1h-1zM212 115h1v1h-1zM221.5 106h1v1h-1zM205.5 116h1v1h-1zM222.5 112.5h1v1h-1zM209.5 98.5h1v1h-1zM223 114.5h1v1h-1zM220.5 107.5h1v1h-1zM220 105h1v1h-1zM216.5 103h1v1h-1zM219.5 106h1v1h-1zM222.5 114h1v1h-1zM212.5 112h1v1h-1zM223.5 118h1v1h-1zM207 116h1v1h-1zM224 119h1v1h-1zM207 104.5h1v1h-1zM217.5 106h1v1h-1zM224.5 104.5h1v1h-1zM224 113h1v1h-1zM210.5 102h1v1h-1zM215.5 109.5h1v1h-1zM223 107.5h1v1h-1zM222.5 98h1v1h-1zM203 106.5h1v1h-1zM220.5 106.5h1v1h-1zM213 112h1v1h-1zM227.5 108.5h1v1h-1zM214.5 103h1v1h-1zM228 108.5h1v1h-1zM221 117.5h1v1h-1zM223.5 102.5h1v1h-1zM223 115h1v1h-1zM220.5 116h1v1h-1zM215 108.5h1v1h-1zM215.5 114.5h1v1h-1zM214.5 112h1v1h-1zM212.5 108h1v1h-1zM216 108h1v1h-1zM218.5 107.5h1v1h-1zM217 94.5h1v1h-1zM223.5 104.5h1v1h-1zM217 103h1v1h-1zM223 102.5h1v1h-1zM220.5 117h1v1h-1zM226 117.5h1v1h-1zM221 100.5h1v1h-1zM224.5 117.5h1v1h-1z" fill="#111" fill-opacity="0.9"/>
<path d="M205.5 77.5h1v1h-1zM197.5 78h1v1h-1zM208.5 77h1v1h-1zM193 88.5h1v1h-1zM201.5 81h1v1h-1zM202.5 81.5h1v1h-1zM207 76.5h1v1h-1zM190.5 90h1v1h-1zM196 76.5h1v1h-1zM200 72h1v1h-1zM208 79.5h1v1h-1zM197 85.5h1v1h-1zM202.5 79h1v1h-1zM190.5 89.5h1v1h-1zM200.5 81h1v1h-1zM200.5 83h1v1h-1zM201.5 80h1v1h-1zM208 72.5h1v1h-1zM205.5 75h1v1h-1zM200.5 75.5h1v1h-1zM206.5 78.5h1v1h-1zM199.5 82.5h1v1h-1zM198.5 74.5h1v1h-1zM203.5 81.5h1v1h-1zM191 78h1v1h-1zM198.5 77h1v1h-1zM211 69h1v1h-1zM197 78.5h1v1h-1zM199 77h1v1h-1zM192 85h1v1h-1zM195.5 88h1v1h-1zM190 86.5h1v1h-1zM190.5 80h1v1h-1zM205 65h1v1h-1zM205 68h1v1h-1zM204 85.5h1v1h-1zM181 88.5h1v1h-1zM207.5 73h1v1h-1zM194.5 83h1v1h-1zM192 85.5h1v1h-1zM207.5 70.5h1v1h-1zM202 82.5h1v1h-1zM210.5 67h1v1h-1zM199 76.5h1v1h-1zM193 82.5h1v1h-1zM190 79h1v1h-1zM183.5 89.5h1v1h-1zM202 82.5h1v1h-1zM194.5 82.5h1v1h-1zM204.5 78h1v1h-1zM197.5 80.5h1v1h-1zM210 68.5h1v1h-1zM191.5 78.5h1v1h-1zM200.5 76.5h1v1h-1zM210.5 68h1v1h-1zM206 77.5h1v1h-1zM206.5 67h1v1h-1zM209 71h1v1h-1zM197 79.5h1v1h-1zM195 81h1v1h-1zM183.5 94.5h1v1h-1zM196.5 77h1v1h-1zM203 86.5h1v1h-1zM200 76.5h1v1h-1zM208 68h1v1h-1zM196 79.5h1v1h-1zM198.5 83h1v1h-1zM200.5 74.5h1v1h-1zM197.5 81h1v1h-1zM195.5 82h1v1h-1zM192 82h1v1h-1zM196.5 77h1v1h-1zM200.5 77h1v1h-1zM191 83.5h1v1h-1zM194.5 82h1v1h-1zM198.5 78.5h1v1h-1zM195.5 88.5h1v1h-1zM204.5 75h1v1h-1zM205.5 75.5h1v1h-1zM196.5 81.5h1v1h-1zM218.5 67.5h1v1h-1zM204.5 73h1v1h-1zM207 82.5h1v1h-1zM203.5 80.5h1v1h-1zM208 74.5h1v1h-1zM209.5 71.5h1v1h-1zM200 75.5h1v1h-1zM216.5 66h1v1h-1zM202 83h1v1h-1zM195 82.5h1v1h-1z" fill="#333" fill-opacity="0.84"/>
<path d="M220.5 89h1v1h-1zM215 93h1v1h-1zM209.5 116h1v1h-1zM219.5 60.5h1v1h-1zM215.5 115h1v1h-1zM216 82.5h1v1h-1zM239 105.5h1v1h-1zM217.5 69.5h1v1h-1z" fill="#444" fill-opacity="0.72"/>
<rect x="175.1" y="36.4" width="91.2" height="83.8" fill="none" stroke="#444" stroke-width="1"/>
<line x1="170.6" y1="120.2" x2="175.1" y2="120.2" stroke="#222" stroke-width="0.8"/>
<line x1="172.6" y1="113.89" x2="175.1" y2="113.89" stroke="#222" stroke-width="0.8"/>
<line x1="172.6" y1="110.2" x2="175.1" y2="110.2" stroke="#222" stroke-width="0.8"/>
<line x1="172.6" y1="107.59" x2="175.1" y2="107.59" stroke="#222" stroke-width="0.8"/>
<line x1="172.6" y1="105.56" x2="175.1" y2="105.56" stroke="#222" stroke-width="0.8"/>
<line x1="172.6" y1="103.9" x2="175.1" y2="103.9" stroke="#222" stroke-width="0.8"/>
<line x1="172.6" y1="102.5" x2="175.1" y2="102.5" stroke="#222" stroke-width="0.8"/>
<line x1="172.6" y1="101.28" x2="175.1" y2="101.28" stroke="#222" stroke-width="0.8"/>
<line x1="172.6" y1="100.21" x2="175.1" y2="100.21" stroke="#222" stroke-width="0.8"/>
<line x1="170.6" y1="99.25" x2="175.1" y2="99.25" stroke="#222" stroke-width="0.8"/>
<line x1="172.6" y1="92.94" x2="175.1" y2="92.94" stroke="#222" stroke-width="0.8"/>
<line x1="172.6" y1="89.25" x2="175.1" y2="89.25" stroke="#222" stroke-width="0.8"/>
<line x1="172.6" y1="86.64" x2="175.1" y2="86.64" stroke="#222" stroke-width="0.8"/>
<line x1="172.6" y1="84.61" x2="175.1" y2="84.61" stroke="#222" stroke-width="0.8"/>
<line x1="172.6" y1="82.95" x2="175.1" y2="82.95" stroke="#222" stroke-width="0.8"/>
<line x1="172.6" y1="81.55" x2="175.1" y2="81.55" stroke="#222" stroke-width="0.8"/>
<line x1="172.6" y1="80.33" x2="175.1" y2="80.33" stroke="#222" stroke-width="0.8"/>
<line x1="172.6" y1="79.26" x2="175.1" y2="79.26" stroke="#222" stroke-width="0.8"/>
<line x1="170.6" y1="78.3" x2="175.1" y2="78.3" stroke="#222" stroke-width="0.8"/>
<line x1="172.6" y1="71.99" x2="175.1" y2="71.99" stroke="#222" stroke-width="0.8"/>
<line x1="172.6" y1="68.3" x2="175.1" y2="68.3" stroke="#222" stroke-width="0.8"/>
<line x1="172.6" y1="65.69" x2="175.1" y2="65.69" stroke="#222" stroke-width="0.8"/>
<line x1="172.6" y1="63.66" x2="175.1" y2="63.66" stroke="#222" stroke-width="0.8"/>
<line x1="172.6" y1="62" x2="175.1" y2="62" stroke="#222" stroke-width="0.8"/>
<line x1="172.6" y1="60.6" x2="175.1" y2="60.6" stroke="#222" stroke-width="0.8"/>
<line x1="172.6" y1="59.38" x2="175.1" y2="59.38" stroke="#222" stroke-width="0.8"/>
<line x1="172.6" y1="58.31" x2="175.1" y2="58.31" stroke="#222" stroke-width="0.8"/>
<line x1="170.6" y1="57.35" x2="175.1" y2="57.35" stroke="#222" stroke-width="0.8"/>
<line x1="172.6" y1="51.04" x2="175.1" y2="51.04" stroke="#222" stroke-width="0.8"/>
<line x1="172.6" y1="47.35" x2="175.1" y2="47.35" stroke="#222" stroke-width="0.8"/>
<line x1="172.6" y1="44.74" x2="175.1" y2="44.74" stroke="#222" stroke-width="0.8"/>
<line x1="172.6" y1="42.71" x2="175.1" y2="42.71" stroke="#222" stroke-width="0.8"/>
<line x1="172.6" y1="41.05" x2="175.1" y2="41.05" stroke="#222" stroke-width="0.8"/>
<line x1="172.6" y1="39.65" x2="175.1" y2="39.65" stroke="#222" stroke-width="0.8"/>
<line x1="172.6" y1="38.43" x2="175.1" y2="38.43" stroke="#222" stroke-width="0.8"/>
<line x1="172.6" y1="37.36" x2="175.1" y2="37.36" stroke="#222" stroke-width="0.8"/>
<line x1="170.6" y1="36.4" x2="175.1" y2="36.4" stroke="#222" stroke-width="0.8"/>
<line x1="175.1" y1="120.2" x2="175.1" y2="123.7" stroke="#222" stroke-width="0.8"/>
<line x1="181.96" y1="120.2" x2="181.96" y2="122.2" stroke="#222" stroke-width="0.8"/>
<line x1="185.98" y1="120.2" x2="185.98" y2="122.2" stroke="#222" stroke-width="0.8"/>
<line x1="188.83" y1="120.2" x2="188.83" y2="122.2" stroke="#222" stroke-width="0.8"/>
<line x1="191.04" y1="120.2" x2="191.04" y2="122.2" stroke="#222" stroke-width="0.8"/>
<line x1="192.84" y1="120.2" x2="192.84" y2="122.2" stroke="#222" stroke-width="0.8"/>
<line x1="194.37" y1="120.2" x2="194.37" y2="122.2" stroke="#222" stroke-width="0.8"/>
<line x1="195.69" y1="120.2" x2="195.69" y2="122.2" stroke="#222" stroke-width="0.8"/>
<line x1="196.86" y1="120.2" x2="196.86" y2="122.2" stroke="#222" stroke-width="0.8"/>
<line x1="197.9" y1="120.2" x2="197.9" y2="123.7" stroke="#222" stroke-width="0.8"/>
<line x1="204.76" y1="120.2" x2="204.76" y2="122.2" stroke="#222" stroke-width="0.8"/>
<line x1="208.78" y1="120.2" x2="208.78" y2="122.2" stroke="#222" stroke-width="0.8"/>
<line x1="211.63" y1="120.2" x2="211.63" y2="122.2" stroke="#222" stroke-width="0.8"/>
<line x1="213.84" y1="120.2" x2="213.84" y2="122.2" stroke="#222" stroke-width="0.8"/>
<line x1="215.64" y1="120.2" x2="215.64" y2="122.2" stroke="#222" stroke-width="0.8"/>
<line x1="217.17" y1="120.2" x2="217.17" y2="122.2" stroke="#222" stroke-width="0.8"/>
<line x1="218.49" y1="120.2" x2="218.49" y2="122.2" stroke="#222" stroke-width="0.8"/>
<line x1="219.66" y1="120.2" x2="219.66" y2="122.2" stroke="#222" stroke-width="0.8"/>
<line x1="220.7" y1="120.2" x2="220.7" y2="123.7" stroke="#222" stroke-width="0.8"/>
<line x1="227.56" y1="120.2" x2="227.56" y2="122.2" stroke="#222" stroke-width="0.8"/>
<line x1="231.58" y1="120.2" x2="231.58" y2="122.2" stroke="#222" stroke-width="0.8"/>
<line x1="234.43" y1="120.2" x2="234.43" y2="122.2" stroke="#222" stroke-width="0.8"/>
<line x1="236.64" y1="120.2" x2="236.64" y2="122.2" stroke="#222" stroke-width="0.8"/>
<line x1="238.44" y1="120.2" x2="238.44" y2="122.2" stroke="#222" stroke-width="0.8"/>
<line x1="239.97" y1="120.2" x2="239.97" y2="122.2" stroke="#222" stroke-width="0.8"/>
<line x1="241.29" y1="120.2" x2="241.29" y2="122.2" stroke="#222" stroke-width="0.8"/>
<line x1="242.46" y1="120.2" x2="242.46" y2="122.2" stroke="#222" stroke-width="0.8"/>
<line x1="243.5" y1="120.2" x2="243.5" y2="123.7" stroke="#222" stroke-width="0.8"/>
<line x1="250.36" y1="120.2" x2="250.36" y2="122.2" stroke="#222" stroke-width="0.8"/>
<line x1="254.38" y1="120.2" x2="254.38" y2="122.2" stroke="#222" stroke-width="0.8"/>
<line x1="257.23" y1="120.2" x2="257.23" y2="122.2" stroke="#222" stroke-width="0.8"/>
<line x1="259.44" y1="120.2" x2="259.44" y2="122.2" stroke="#222" stroke-width="0.8"/>
<line x1="261.24" y1="120.2" x2="261.24" y2="122.2" stroke="#222" stroke-width="0.8"/>
<line x1="262.77" y1="120.2" x2="262.77" y2="122.2" stroke="#222" stroke-width="0.8"/>
<line x1="264.09" y1="120.2" x2="264.09" y2="122.2" stroke="#222" stroke-width="0.8"/>
<line x1="265.26" y1="120.2" x2="265.26" y2="122.2" stroke="#222" stroke-width="0.8"/>
<line x1="266.3" y1="120.2" x2="266.3" y2="123.7" stroke="#222" stroke-width="0.8"/>
<text x="189.5" y="34.1" font-size="9.5" stroke="#000" stroke-width="0.3" textLength="11.8" lengthAdjust="spacingAndGlyphs">LN</text>
<ellipse cx="197.2" cy="79.6" rx="19" ry="6.2" transform="rotate(-39 197.2 79.6)" fill="none" stroke="#000" stroke-width="1.45"/>
<circle cx="212.2" cy="87.6" r="9.3" fill="none" stroke="#000" stroke-width="1.45"/>
<text x="187.4" y="67.8" font-size="8.3" stroke="#000" stroke-width="0.3" font-weight="bold" textLength="10.4" lengthAdjust="spacingAndGlyphs">2.1</text>
<text x="225.1" y="85.6" font-size="8.3" stroke="#000" stroke-width="0.3" font-weight="bold" textLength="19.8" lengthAdjust="spacingAndGlyphs">19.18</text>
<g filter="url(#bl05)"><path d="M292 99h1v1h-1zM296 99h1v1h-1zM301 99h1v1h-1zM298 100h1v1h-1zM306 100h1v1h-1zM309 100h1v1h-1zM287 101h1v1h-1zM288 102h1v1h-1zM287 104h1v1h-1zM315 104h1v1h-1zM316 106h1v1h-1zM316 109h1v1h-1zM316 110h1v1h-1zM317 112h1v1h-1zM317 115h1v1h-1zM317 117h1v1h-1z" fill="#e6e6e6"/><path d="M303 99h2v1h-2zM307 99h1v1h-1zM290 100h1v1h-1zM292 100h1v1h-1zM295 100h1v1h-1zM305 100h1v1h-1zM311 100h1v1h-1zM289 101h1v1h-1zM311 101h1v1h-1zM313 101h1v1h-1zM312 102h1v1h-1zM313 103h2v1h-2zM313 104h2v1h-2zM315 105h1v1h-1zM315 106h1v1h-1zM316 107h1v1h-1zM316 108h1v1h-1zM317 109h1v1h-1zM316 112h1v1h-1zM316 114h1v1h-1zM316 115h1v1h-1zM316 118h1v1h-1z" fill="#cccccc"/><path d="M297 99h2v1h-2zM302 99h1v1h-1zM289 100h1v1h-1zM291 100h1v1h-1zM293 100h2v1h-2zM297 100h1v1h-1zM301 100h1v1h-1zM307 100h2v1h-2zM310 100h1v1h-1zM290 101h1v1h-1zM310 101h1v1h-1zM311 102h1v1h-1zM314 102h1v1h-1zM287 103h1v1h-1zM314 105h1v1h-1zM296 108h1v1h-1zM304 110h1v1h-1zM288 114h1v1h-1zM315 119h1v1h-1z" fill="#b2b2b2"/><path d="M299 100h2v1h-2zM291 101h1v1h-1zM309 101h1v1h-1zM312 103h1v1h-1zM304 105h1v1h-1zM308 106h1v1h-1zM293 107h1v1h-1zM302 107h1v1h-1zM304 107h1v1h-1zM292 108h1v1h-1zM295 108h1v1h-1zM304 108h2v1h-2zM315 108h1v1h-1zM302 109h1v1h-1zM310 109h1v1h-1zM315 109h1v1h-1zM291 110h1v1h-1zM315 110h1v1h-1zM300 111h1v1h-1zM302 111h1v1h-1zM315 111h1v1h-1zM296 112h1v1h-1zM300 112h1v1h-1zM302 112h1v1h-1zM304 112h1v1h-1zM301 113h1v1h-1zM315 113h1v1h-1zM303 114h1v1h-1zM299 115h2v1h-2zM306 115h1v1h-1zM290 116h1v1h-1zM296 116h1v1h-1zM309 116h1v1h-1zM291 117h1v1h-1zM302 117h1v1h-1zM304 117h1v1h-1zM306 117h1v1h-1zM291 118h1v1h-1zM300 118h1v1h-1zM314 119h1v1h-1z" fill="#999999"/><path d="M296 100h1v1h-1zM302 100h2v1h-2zM310 102h1v1h-1zM302 103h1v1h-1zM311 104h1v1h-1zM291 105h1v1h-1zM296 105h1v1h-1zM299 105h2v1h-2zM303 106h1v1h-1zM299 107h1v1h-1zM301 107h1v1h-1zM303 107h1v1h-1zM305 107h1v1h-1zM314 107h1v1h-1zM291 108h1v1h-1zM293 108h1v1h-1zM297 108h1v1h-1zM301 108h1v1h-1zM303 108h1v1h-1zM287 109h1v1h-1zM298 109h1v1h-1zM300 109h2v1h-2zM306 109h1v1h-1zM289 110h2v1h-2zM294 110h1v1h-1zM299 110h2v1h-2zM308 110h2v1h-2zM291 111h1v1h-1zM293 111h1v1h-1zM295 111h1v1h-1zM297 111h1v1h-1zM299 111h1v1h-1zM301 111h1v1h-1zM304 111h2v1h-2zM307 111h1v1h-1zM295 112h1v1h-1zM298 112h1v1h-1zM303 112h1v1h-1zM305 112h3v1h-3zM309 112h1v1h-1zM290 113h1v1h-1zM293 113h1v1h-1zM297 113h1v1h-1zM300 113h1v1h-1zM302 113h1v1h-1zM306 113h4v1h-4zM298 114h1v1h-1zM301 114h2v1h-2zM305 114h1v1h-1zM315 114h1v1h-1zM290 115h1v1h-1zM294 115h2v1h-2zM297 115h1v1h-1zM302 115h4v1h-4zM307 115h1v1h-1zM293 116h2v1h-2zM297 116h1v1h-1zM299 116h2v1h-2zM305 116h2v1h-2zM289 117h1v1h-1zM294 117h2v1h-2zM300 117h1v1h-1zM303 117h1v1h-1zM305 117h1v1h-1zM315 117h1v1h-1zM298 118h1v1h-1zM304 118h2v1h-2zM309 118h1v1h-1zM287 119h1v1h-1zM294 119h2v1h-2zM299 119h1v1h-1zM301 119h1v1h-1zM303 119h1v1h-1z" fill="#808080"/><path d="M304 100h1v1h-1zM308 101h1v1h-1zM289 102h1v1h-1zM291 102h1v1h-1zM294 102h1v1h-1zM302 102h1v1h-1zM309 102h1v1h-1zM288 103h1v1h-1zM293 103h1v1h-1zM298 103h1v1h-1zM304 103h1v1h-1zM304 104h1v1h-1zM297 105h1v1h-1zM303 105h1v1h-1zM313 105h1v1h-1zM288 106h1v1h-1zM294 106h2v1h-2zM297 106h2v1h-2zM300 106h3v1h-3zM290 107h2v1h-2zM295 107h4v1h-4zM306 107h1v1h-1zM315 107h1v1h-1zM290 108h1v1h-1zM298 108h1v1h-1zM302 108h1v1h-1zM306 108h1v1h-1zM308 108h1v1h-1zM288 109h2v1h-2zM291 109h1v1h-1zM293 109h1v1h-1zM295 109h1v1h-1zM297 109h1v1h-1zM299 109h1v1h-1zM303 109h3v1h-3zM308 109h1v1h-1zM287 110h1v1h-1zM293 110h1v1h-1zM295 110h2v1h-2zM298 110h1v1h-1zM301 110h1v1h-1zM305 110h3v1h-3zM289 111h1v1h-1zM298 111h1v1h-1zM303 111h1v1h-1zM306 111h1v1h-1zM309 111h1v1h-1zM291 112h1v1h-1zM293 112h2v1h-2zM297 112h1v1h-1zM299 112h1v1h-1zM301 112h1v1h-1zM308 112h1v1h-1zM313 112h1v1h-1zM315 112h1v1h-1zM292 113h1v1h-1zM294 113h1v1h-1zM296 113h1v1h-1zM298 113h1v1h-1zM303 113h3v1h-3zM313 113h1v1h-1zM293 114h2v1h-2zM296 114h2v1h-2zM299 114h1v1h-1zM304 114h1v1h-1zM306 114h1v1h-1zM310 114h1v1h-1zM296 115h1v1h-1zM298 115h1v1h-1zM301 115h1v1h-1zM298 116h1v1h-1zM301 116h4v1h-4zM307 116h1v1h-1zM315 116h1v1h-1zM287 117h2v1h-2zM292 117h2v1h-2zM296 117h2v1h-2zM299 117h1v1h-1zM301 117h1v1h-1zM308 117h1v1h-1zM294 118h2v1h-2zM297 118h1v1h-1zM301 118h3v1h-3zM308 118h1v1h-1zM291 119h1v1h-1zM298 119h1v1h-1zM302 119h1v1h-1zM304 119h3v1h-3z" fill="#666666"/><path d="M300 99h1v1h-1zM292 101h2v1h-2zM298 101h1v1h-1zM306 101h1v1h-1zM296 102h2v1h-2zM307 102h1v1h-1zM289 103h1v1h-1zM294 103h1v1h-1zM299 103h1v1h-1zM311 103h1v1h-1zM288 104h1v1h-1zM290 104h1v1h-1zM294 104h1v1h-1zM297 104h1v1h-1zM300 104h2v1h-2zM289 105h1v1h-1zM298 105h1v1h-1zM302 105h1v1h-1zM309 105h1v1h-1zM292 106h1v1h-1zM296 106h1v1h-1zM299 106h1v1h-1zM306 106h2v1h-2zM287 107h1v1h-1zM294 107h1v1h-1zM300 107h1v1h-1zM309 107h1v1h-1zM289 108h1v1h-1zM294 108h1v1h-1zM299 108h2v1h-2zM307 108h1v1h-1zM310 108h1v1h-1zM292 109h1v1h-1zM294 109h1v1h-1zM296 109h1v1h-1zM307 109h1v1h-1zM309 109h1v1h-1zM313 109h1v1h-1zM288 110h1v1h-1zM292 110h1v1h-1zM297 110h1v1h-1zM303 110h1v1h-1zM311 110h1v1h-1zM313 110h1v1h-1zM290 111h1v1h-1zM292 111h1v1h-1zM296 111h1v1h-1zM310 111h2v1h-2zM289 112h1v1h-1zM292 112h1v1h-1zM310 112h1v1h-1zM287 113h1v1h-1zM291 113h1v1h-1zM295 113h1v1h-1zM299 113h1v1h-1zM292 114h1v1h-1zM295 114h1v1h-1zM300 114h1v1h-1zM307 114h3v1h-3zM311 114h1v1h-1zM292 115h2v1h-2zM308 115h2v1h-2zM314 115h2v1h-2zM288 116h1v1h-1zM292 116h1v1h-1zM295 116h1v1h-1zM308 116h1v1h-1zM312 116h2v1h-2zM290 117h1v1h-1zM298 117h1v1h-1zM307 117h1v1h-1zM309 117h1v1h-1zM314 117h1v1h-1zM288 118h1v1h-1zM296 118h1v1h-1zM299 118h1v1h-1zM306 118h2v1h-2zM315 118h1v1h-1zM289 119h1v1h-1zM293 119h1v1h-1zM296 119h2v1h-2zM300 119h1v1h-1zM311 119h1v1h-1z" fill="#4d4d4d"/><path d="M294 101h2v1h-2zM307 101h1v1h-1zM290 102h1v1h-1zM298 102h2v1h-2zM301 102h1v1h-1zM305 102h1v1h-1zM291 103h1v1h-1zM297 103h1v1h-1zM303 103h1v1h-1zM307 103h1v1h-1zM310 103h1v1h-1zM291 104h1v1h-1zM293 104h1v1h-1zM295 104h1v1h-1zM298 104h1v1h-1zM302 104h2v1h-2zM306 104h2v1h-2zM312 104h1v1h-1zM287 105h1v1h-1zM295 105h1v1h-1zM301 105h1v1h-1zM306 105h1v1h-1zM308 105h1v1h-1zM312 105h1v1h-1zM293 106h1v1h-1zM304 106h2v1h-2zM309 106h1v1h-1zM312 106h2v1h-2zM292 107h1v1h-1zM307 107h1v1h-1zM287 108h2v1h-2zM313 108h2v1h-2zM302 110h1v1h-1zM294 111h1v1h-1zM308 111h1v1h-1zM287 112h1v1h-1zM290 112h1v1h-1zM314 112h1v1h-1zM288 113h1v1h-1zM310 113h2v1h-2zM289 114h3v1h-3zM312 114h2v1h-2zM287 115h2v1h-2zM291 115h1v1h-1zM310 115h2v1h-2zM313 115h1v1h-1zM312 117h1v1h-1zM287 118h1v1h-1zM290 118h1v1h-1zM292 118h2v1h-2zM310 118h2v1h-2zM308 119h1v1h-1zM310 119h1v1h-1zM313 119h1v1h-1z" fill="#333333"/><path d="M296 101h1v1h-1zM300 101h2v1h-2zM303 101h3v1h-3zM295 102h1v1h-1zM308 102h1v1h-1zM295 103h2v1h-2zM301 103h1v1h-1zM289 104h1v1h-1zM309 104h2v1h-2zM292 105h1v1h-1zM305 105h1v1h-1zM311 105h1v1h-1zM289 106h1v1h-1zM311 106h1v1h-1zM314 106h1v1h-1zM308 107h1v1h-1zM290 109h1v1h-1zM311 109h1v1h-1zM314 109h1v1h-1zM310 110h1v1h-1zM312 110h1v1h-1zM287 111h2v1h-2zM312 112h1v1h-1zM289 113h1v1h-1zM314 113h1v1h-1zM289 115h1v1h-1zM312 115h1v1h-1zM289 116h1v1h-1zM291 116h1v1h-1zM311 116h1v1h-1zM314 116h1v1h-1zM310 117h2v1h-2zM313 117h1v1h-1zM312 118h1v1h-1zM314 118h1v1h-1zM288 119h1v1h-1zM290 119h1v1h-1zM292 119h1v1h-1zM307 119h1v1h-1zM309 119h1v1h-1zM312 119h1v1h-1z" fill="#191919"/><path d="M297 101h1v1h-1zM299 101h1v1h-1zM302 101h1v1h-1zM292 102h2v1h-2zM300 102h1v1h-1zM303 102h2v1h-2zM306 102h1v1h-1zM290 103h1v1h-1zM292 103h1v1h-1zM300 103h1v1h-1zM305 103h2v1h-2zM308 103h2v1h-2zM292 104h1v1h-1zM296 104h1v1h-1zM299 104h1v1h-1zM305 104h1v1h-1zM308 104h1v1h-1zM288 105h1v1h-1zM290 105h1v1h-1zM293 105h2v1h-2zM307 105h1v1h-1zM310 105h1v1h-1zM287 106h1v1h-1zM290 106h2v1h-2zM310 106h1v1h-1zM288 107h2v1h-2zM310 107h4v1h-4zM309 108h1v1h-1zM311 108h2v1h-2zM312 109h1v1h-1zM314 110h1v1h-1zM312 111h3v1h-3zM288 112h1v1h-1zM311 112h1v1h-1zM312 113h1v1h-1zM287 114h1v1h-1zM314 114h1v1h-1zM287 116h1v1h-1zM310 116h1v1h-1zM289 118h1v1h-1zM313 118h1v1h-1z" fill="#000000"/></g>
<path d="M333.5 80h1v1h-1zM321 91.5h1v1h-1zM322 86h1v1h-1zM314.5 86h1v1h-1zM326.5 91.5h1v1h-1zM324 89.5h1v1h-1zM327.5 85h1v1h-1zM321.5 98h1v1h-1zM321 94.5h1v1h-1zM325.5 95.5h1v1h-1zM322 91h1v1h-1zM327 87h1v1h-1zM326.5 84.5h1v1h-1zM325 86.5h1v1h-1zM329 88h1v1h-1zM318.5 86.5h1v1h-1zM324.5 84h1v1h-1zM331.5 90h1v1h-1zM329.5 84.5h1v1h-1zM323.5 93h1v1h-1zM318 90h1v1h-1zM325.5 86h1v1h-1zM325.5 83h1v1h-1zM326.5 82.5h1v1h-1zM319 95h1v1h-1zM322 78h1v1h-1zM330 84.5h1v1h-1zM308 88h1v1h-1zM330 90h1v1h-1zM333.5 87.5h1v1h-1zM328 83.5h1v1h-1zM326 96h1v1h-1zM327.5 89h1v1h-1zM315.5 86.5h1v1h-1zM319 92h1v1h-1zM321.5 90h1v1h-1zM320.5 97.5h1v1h-1zM319.5 89h1v1h-1zM338 89.5h1v1h-1zM321 91.5h1v1h-1zM330 92.5h1v1h-1zM315.5 89.5h1v1h-1zM315 97.5h1v1h-1zM325.5 86h1v1h-1zM328.5 90.5h1v1h-1zM319.5 96h1v1h-1zM324 79.5h1v1h-1zM332 96h1v1h-1zM331.5 91h1v1h-1zM321 93h1v1h-1zM334.5 92.5h1v1h-1zM333 84.5h1v1h-1zM330.5 93h1v1h-1zM318 80h1v1h-1zM321.5 88.5h1v1h-1zM327.5 87h1v1h-1zM325 87.5h1v1h-1zM325.5 91h1v1h-1zM327.5 88h1v1h-1zM326.5 86h1v1h-1zM329 86h1v1h-1zM333.5 88h1v1h-1zM326.5 84.5h1v1h-1zM323.5 89h1v1h-1zM325.5 85h1v1h-1zM319.5 88.5h1v1h-1zM326 91h1v1h-1zM331.5 86.5h1v1h-1zM315.5 87.5h1v1h-1zM316 82h1v1h-1zM330.5 91h1v1h-1zM322 85h1v1h-1zM325 79.5h1v1h-1zM327.5 86.5h1v1h-1zM334.5 83h1v1h-1zM330.5 85h1v1h-1zM330.5 83.5h1v1h-1zM329 86h1v1h-1zM321 87.5h1v1h-1zM327.5 90.5h1v1h-1zM333 92.5h1v1h-1zM312 86.5h1v1h-1zM315.5 86.5h1v1h-1zM328.5 81.5h1v1h-1zM319.5 89h1v1h-1zM324 96h1v1h-1zM327 91h1v1h-1zM334 86h1v1h-1zM325.5 83.5h1v1h-1zM326.5 93.5h1v1h-1zM332 88h1v1h-1zM321.5 84.5h1v1h-1zM318.5 89h1v1h-1zM332 76.5h1v1h-1zM314.5 95.5h1v1h-1zM317.5 90h1v1h-1zM319 92h1v1h-1zM329 89h1v1h-1zM329.5 88.5h1v1h-1zM328 97.5h1v1h-1zM331 85h1v1h-1zM321.5 87h1v1h-1zM324 88.5h1v1h-1zM322.5 91.5h1v1h-1zM325.5 90h1v1h-1zM325.5 91.5h1v1h-1zM319.5 96h1v1h-1zM327 90.5h1v1h-1zM328.5 94h1v1h-1zM329 89.5h1v1h-1zM324.5 80h1v1h-1zM326.5 87h1v1h-1zM324 100.5h1v1h-1zM316 88.5h1v1h-1zM331.5 93h1v1h-1zM331.5 82h1v1h-1zM320.5 91.5h1v1h-1zM324 97h1v1h-1zM326.5 89.5h1v1h-1zM327.5 87h1v1h-1zM326 85h1v1h-1zM325 86h1v1h-1zM326.5 81.5h1v1h-1zM318 90.5h1v1h-1zM326.5 83.5h1v1h-1zM324.5 83h1v1h-1zM335.5 80.5h1v1h-1zM334 84.5h1v1h-1zM327.5 87h1v1h-1zM323.5 93h1v1h-1zM329.5 87h1v1h-1zM321 99h1v1h-1zM332.5 89h1v1h-1zM324 90h1v1h-1zM326 94.5h1v1h-1zM320.5 88.5h1v1h-1zM321.5 95h1v1h-1zM334.5 88h1v1h-1zM328 95.5h1v1h-1zM324 84h1v1h-1zM330.5 91h1v1h-1zM324.5 96h1v1h-1zM326.5 79.5h1v1h-1zM327 88h1v1h-1zM335 88.5h1v1h-1zM324.5 90.5h1v1h-1zM326.5 81.5h1v1h-1zM326 87h1v1h-1zM332.5 100.5h1v1h-1zM320 83.5h1v1h-1zM321 85h1v1h-1zM322 88.5h1v1h-1zM331 82h1v1h-1zM318 79.5h1v1h-1zM331 95h1v1h-1zM318 80.5h1v1h-1zM326 94h1v1h-1zM330.5 89.5h1v1h-1zM329 90h1v1h-1zM322.5 98h1v1h-1zM325.5 83h1v1h-1zM323 81h1v1h-1zM325.5 94h1v1h-1zM319 94h1v1h-1zM336 90.5h1v1h-1zM319.5 84h1v1h-1zM324 82h1v1h-1zM319 87h1v1h-1zM324.5 91.5h1v1h-1zM319.5 98h1v1h-1zM331 93h1v1h-1zM322 97h1v1h-1zM324 97.5h1v1h-1zM331 84h1v1h-1zM323 98h1v1h-1zM330.5 87.5h1v1h-1zM326.5 89.5h1v1h-1zM321.5 87.5h1v1h-1zM322 86.5h1v1h-1zM328 83.5h1v1h-1zM329 89h1v1h-1zM329.5 93h1v1h-1zM331.5 91.5h1v1h-1zM329 87.5h1v1h-1zM328.5 84h1v1h-1zM324 92h1v1h-1zM325 90.5h1v1h-1zM320 95.5h1v1h-1zM322.5 90.5h1v1h-1zM325.5 93h1v1h-1zM323.5 83.5h1v1h-1zM316 87h1v1h-1zM319.5 91h1v1h-1zM332.5 77.5h1v1h-1zM319 90h1v1h-1zM331.5 90h1v1h-1zM327 91h1v1h-1zM328.5 96.5h1v1h-1zM328.5 82.5h1v1h-1zM323 89.5h1v1h-1zM321.5 87h1v1h-1zM323 85h1v1h-1zM329 86.5h1v1h-1zM320 85h1v1h-1zM325.5 99h1v1h-1zM327 96h1v1h-1zM328 77.5h1v1h-1zM327.5 84h1v1h-1zM318.5 83h1v1h-1zM334.5 80.5h1v1h-1zM322.5 94.5h1v1h-1zM329 80h1v1h-1zM325 86h1v1h-1zM324.5 92h1v1h-1zM322.5 87h1v1h-1zM333 79h1v1h-1zM323.5 91h1v1h-1zM319 85.5h1v1h-1zM319 89h1v1h-1zM322.5 92.5h1v1h-1z" fill="#111" fill-opacity="0.84"/>
<path d="M334 109h1v1h-1zM324 110.5h1v1h-1zM327 99.5h1v1h-1zM334 110.5h1v1h-1zM332 98.5h1v1h-1zM331 97.5h1v1h-1zM327 108h1v1h-1zM328 107h1v1h-1zM330 105h1v1h-1zM328 103.5h1v1h-1zM327.5 116h1v1h-1zM323 113.5h1v1h-1zM320.5 106h1v1h-1zM325 118h1v1h-1zM321 118h1v1h-1zM316.5 107.5h1v1h-1zM333 114h1v1h-1zM319.5 99.5h1v1h-1zM333 99h1v1h-1zM330.5 104.5h1v1h-1zM337.5 115h1v1h-1zM317 111h1v1h-1zM327 108h1v1h-1zM336 95.5h1v1h-1zM329 109.5h1v1h-1zM317.5 109h1v1h-1zM327 92h1v1h-1zM316.5 101.5h1v1h-1zM332 116h1v1h-1zM331 110.5h1v1h-1zM311 110h1v1h-1zM323 117.5h1v1h-1zM331.5 115h1v1h-1zM319.5 109h1v1h-1zM318 115.5h1v1h-1zM318 107h1v1h-1zM320.5 105h1v1h-1zM330 104.5h1v1h-1zM328 101h1v1h-1zM336.5 103.5h1v1h-1zM309 101h1v1h-1zM325 117.5h1v1h-1zM323 111.5h1v1h-1zM321.5 113h1v1h-1zM318 115h1v1h-1zM305.5 94h1v1h-1zM339.5 110h1v1h-1zM334 117h1v1h-1zM323.5 113.5h1v1h-1zM330 96h1v1h-1zM330.5 107h1v1h-1zM335.5 118.5h1v1h-1zM322 104h1v1h-1zM328 113.5h1v1h-1zM323.5 107.5h1v1h-1zM331 112h1v1h-1zM335 110.5h1v1h-1zM320 95h1v1h-1zM332.5 106h1v1h-1zM324 106.5h1v1h-1zM315 105.5h1v1h-1zM308 105.5h1v1h-1zM329.5 107h1v1h-1zM327.5 114h1v1h-1zM321 106.5h1v1h-1zM327 93.5h1v1h-1zM326 116h1v1h-1zM322.5 106.5h1v1h-1zM317.5 100.5h1v1h-1zM311 117.5h1v1h-1zM318 111.5h1v1h-1zM329 103.5h1v1h-1zM327 107.5h1v1h-1zM323 109h1v1h-1zM327 100.5h1v1h-1zM317 102h1v1h-1zM327.5 119h1v1h-1zM337 111h1v1h-1zM333.5 109.5h1v1h-1zM334.5 109.5h1v1h-1zM329.5 106.5h1v1h-1zM318 108.5h1v1h-1zM322 116h1v1h-1zM339.5 106h1v1h-1zM306.5 113h1v1h-1zM331 95.5h1v1h-1zM324.5 108h1v1h-1zM309.5 113.5h1v1h-1zM329.5 110.5h1v1h-1zM318.5 103h1v1h-1zM322 112h1v1h-1zM329 91.5h1v1h-1zM338.5 109.5h1v1h-1zM322.5 109h1v1h-1zM313 110h1v1h-1zM308.5 100.5h1v1h-1zM336 118h1v1h-1zM324 101h1v1h-1zM333 108h1v1h-1zM328 113h1v1h-1zM318.5 114.5h1v1h-1zM315 103.5h1v1h-1zM321.5 114h1v1h-1zM331.5 111h1v1h-1zM330.5 112h1v1h-1zM326 93.5h1v1h-1zM309.5 90.5h1v1h-1zM326 106.5h1v1h-1zM325.5 110h1v1h-1zM324.5 100.5h1v1h-1zM315.5 93.5h1v1h-1zM335 115.5h1v1h-1zM316.5 106h1v1h-1zM322 109.5h1v1h-1zM334.5 94.5h1v1h-1zM321 108h1v1h-1zM332.5 110h1v1h-1zM319 115h1v1h-1zM331 104h1v1h-1zM323 97h1v1h-1zM325.5 115h1v1h-1zM333.5 113h1v1h-1zM332 103.5h1v1h-1zM323 117.5h1v1h-1zM329.5 102h1v1h-1zM330 114.5h1v1h-1zM331.5 109h1v1h-1zM322.5 111.5h1v1h-1zM338.5 109.5h1v1h-1zM321.5 111h1v1h-1zM317 110h1v1h-1zM324 115.5h1v1h-1zM327 116.5h1v1h-1zM343 106.5h1v1h-1zM320 112h1v1h-1zM325.5 109.5h1v1h-1zM322 112.5h1v1h-1zM326.5 91.5h1v1h-1zM324.5 111h1v1h-1zM335 103.5h1v1h-1zM320.5 117h1v1h-1zM321.5 109h1v1h-1zM329.5 114h1v1h-1zM326 99.5h1v1h-1zM333.5 105h1v1h-1zM332.5 100h1v1h-1zM322.5 106h1v1h-1zM320.5 93h1v1h-1zM332 114h1v1h-1zM328 105h1v1h-1zM327.5 113h1v1h-1zM318.5 105.5h1v1h-1zM322 113.5h1v1h-1zM328 98h1v1h-1zM319 109.5h1v1h-1zM321.5 118h1v1h-1zM325.5 104.5h1v1h-1zM317.5 106h1v1h-1zM332 113.5h1v1h-1zM324.5 100h1v1h-1zM327 103.5h1v1h-1zM322 103h1v1h-1zM325.5 104h1v1h-1zM313.5 112h1v1h-1zM322.5 117.5h1v1h-1zM330 113h1v1h-1zM327.5 118h1v1h-1zM323.5 100.5h1v1h-1zM328.5 87h1v1h-1zM323.5 110h1v1h-1zM323 118h1v1h-1zM331 109h1v1h-1zM323 116.5h1v1h-1zM321 105h1v1h-1zM331.5 112.5h1v1h-1zM341 106.5h1v1h-1zM312.5 113h1v1h-1zM335 107h1v1h-1zM321 104.5h1v1h-1zM317 112.5h1v1h-1zM331 112.5h1v1h-1zM317 102h1v1h-1zM315.5 95.5h1v1h-1zM316.5 96h1v1h-1zM324.5 111.5h1v1h-1zM330.5 108h1v1h-1zM321 108h1v1h-1zM330 105.5h1v1h-1zM326.5 105.5h1v1h-1zM322 108.5h1v1h-1zM318 116h1v1h-1zM314.5 111.5h1v1h-1zM332.5 101.5h1v1h-1zM323 99.5h1v1h-1zM325.5 111h1v1h-1zM344.5 97.5h1v1h-1zM335 103.5h1v1h-1zM328 115h1v1h-1zM330 111.5h1v1h-1zM324.5 108h1v1h-1zM327 117.5h1v1h-1zM315.5 104h1v1h-1zM317 100.5h1v1h-1zM320.5 116.5h1v1h-1zM341.5 118.5h1v1h-1zM317.5 108.5h1v1h-1zM318 111.5h1v1h-1zM335 112.5h1v1h-1zM332.5 107h1v1h-1zM312 92.5h1v1h-1zM325.5 112.5h1v1h-1zM335 105.5h1v1h-1zM326.5 110h1v1h-1zM333.5 107.5h1v1h-1zM318 116.5h1v1h-1zM329 111h1v1h-1zM317 108h1v1h-1zM313.5 92.5h1v1h-1zM324.5 104.5h1v1h-1zM330 119h1v1h-1zM322 114h1v1h-1zM317 109h1v1h-1zM323.5 106.5h1v1h-1zM330 93.5h1v1h-1zM327 101.5h1v1h-1zM327 111h1v1h-1zM323.5 105h1v1h-1zM317.5 112h1v1h-1zM321 111.5h1v1h-1zM316 118.5h1v1h-1zM318.5 117h1v1h-1zM323 112h1v1h-1zM325 113h1v1h-1zM326 118h1v1h-1zM331 113h1v1h-1zM338 102.5h1v1h-1zM335.5 108.5h1v1h-1zM315.5 111.5h1v1h-1zM322.5 108.5h1v1h-1zM327.5 93.5h1v1h-1zM329.5 100.5h1v1h-1zM326 96h1v1h-1zM327.5 109.5h1v1h-1zM331 105.5h1v1h-1zM317.5 107h1v1h-1zM321 103h1v1h-1zM325.5 98.5h1v1h-1zM323 107h1v1h-1zM322.5 106h1v1h-1zM335 111.5h1v1h-1zM316.5 104.5h1v1h-1zM331.5 103h1v1h-1zM326.5 108h1v1h-1zM330 106.5h1v1h-1zM325 101.5h1v1h-1zM328.5 101h1v1h-1zM338.5 108h1v1h-1zM324.5 114h1v1h-1zM325.5 108.5h1v1h-1zM325.5 102.5h1v1h-1zM319.5 102.5h1v1h-1zM334 103h1v1h-1zM323 104.5h1v1h-1zM319.5 112h1v1h-1zM327 105.5h1v1h-1zM329.5 98h1v1h-1zM332 109.5h1v1h-1zM332 117h1v1h-1zM315.5 106h1v1h-1zM322.5 113h1v1h-1zM335.5 93.5h1v1h-1zM326 107h1v1h-1zM333 107.5h1v1h-1zM317 106.5h1v1h-1zM318.5 102h1v1h-1zM326.5 104.5h1v1h-1zM328 96.5h1v1h-1zM342.5 117.5h1v1h-1zM331 98h1v1h-1zM310.5 101.5h1v1h-1zM335.5 104h1v1h-1zM334.5 117.5h1v1h-1zM326 117.5h1v1h-1zM328.5 103h1v1h-1zM317.5 107h1v1h-1zM333 97.5h1v1h-1zM314.5 112h1v1h-1zM323 113.5h1v1h-1zM339.5 97h1v1h-1zM324 107h1v1h-1zM327.5 116h1v1h-1zM335.5 109h1v1h-1zM323.5 107.5h1v1h-1zM328 118h1v1h-1zM320 112h1v1h-1zM338.5 118h1v1h-1zM328.5 101h1v1h-1zM321 107h1v1h-1zM328 106h1v1h-1zM315.5 102.5h1v1h-1zM329.5 114.5h1v1h-1zM316 105h1v1h-1zM314 103.5h1v1h-1zM351.5 108.5h1v1h-1zM323.5 103.5h1v1h-1zM317.5 93.5h1v1h-1zM325.5 106h1v1h-1zM336.5 95.5h1v1h-1zM329 118.5h1v1h-1zM312 113h1v1h-1zM314.5 112h1v1h-1zM336.5 108h1v1h-1zM328 102.5h1v1h-1zM328 116.5h1v1h-1zM324.5 107h1v1h-1zM329 114.5h1v1h-1zM314.5 108.5h1v1h-1zM321 112h1v1h-1zM333.5 110.5h1v1h-1zM335 100.5h1v1h-1zM323 100.5h1v1h-1zM326.5 108.5h1v1h-1zM324.5 98.5h1v1h-1zM325.5 104.5h1v1h-1zM330.5 106h1v1h-1zM334.5 110h1v1h-1zM312.5 106.5h1v1h-1zM316 115.5h1v1h-1zM336.5 108h1v1h-1zM329 97h1v1h-1zM310 103.5h1v1h-1zM324 96.5h1v1h-1zM326.5 110.5h1v1h-1zM332 105h1v1h-1zM327 112.5h1v1h-1zM318.5 118h1v1h-1zM332.5 106.5h1v1h-1zM332 115h1v1h-1zM339 115.5h1v1h-1zM327.5 113.5h1v1h-1zM319.5 113.5h1v1h-1zM315 111.5h1v1h-1zM330 96h1v1h-1zM340 99h1v1h-1zM333.5 104h1v1h-1zM328.5 103h1v1h-1zM344 116h1v1h-1zM339 114h1v1h-1zM331 109.5h1v1h-1zM324.5 113h1v1h-1zM327.5 107h1v1h-1zM316.5 106h1v1h-1zM330.5 104.5h1v1h-1zM328.5 107h1v1h-1zM318.5 101h1v1h-1zM321 106h1v1h-1zM324.5 117h1v1h-1zM318.5 92.5h1v1h-1zM331 104.5h1v1h-1zM336.5 112.5h1v1h-1zM333 109h1v1h-1zM333 103.5h1v1h-1zM321 104.5h1v1h-1zM322 117h1v1h-1zM325 116.5h1v1h-1zM324 115.5h1v1h-1zM325.5 106h1v1h-1zM326 109.5h1v1h-1zM322 97.5h1v1h-1zM338.5 105h1v1h-1zM313 91h1v1h-1zM306 103.5h1v1h-1zM336 95.5h1v1h-1zM324 94h1v1h-1zM334 111h1v1h-1zM328.5 118.5h1v1h-1zM338 116h1v1h-1zM322 98h1v1h-1zM319 95h1v1h-1zM339.5 107h1v1h-1zM327 110h1v1h-1zM341 104h1v1h-1zM335 110.5h1v1h-1zM325 93.5h1v1h-1zM333 102.5h1v1h-1zM323 110h1v1h-1zM327 117h1v1h-1zM321.5 109.5h1v1h-1zM328.5 108.5h1v1h-1zM331 106.5h1v1h-1zM335 103h1v1h-1zM316 108h1v1h-1zM335 104.5h1v1h-1zM322 105.5h1v1h-1zM327.5 107h1v1h-1zM328.5 95h1v1h-1zM337 113h1v1h-1zM320 119h1v1h-1zM326.5 92.5h1v1h-1zM331.5 106h1v1h-1zM319 106.5h1v1h-1zM312.5 113h1v1h-1zM324.5 106h1v1h-1zM336.5 108.5h1v1h-1zM321.5 101h1v1h-1zM326 116.5h1v1h-1zM322 100.5h1v1h-1zM333 109h1v1h-1zM317.5 110h1v1h-1zM313.5 106h1v1h-1zM330.5 117h1v1h-1zM317 115h1v1h-1zM332 107.5h1v1h-1zM344 108.5h1v1h-1zM320 111.5h1v1h-1zM333.5 105h1v1h-1zM330.5 112.5h1v1h-1zM340 103.5h1v1h-1zM317 92.5h1v1h-1zM324 96h1v1h-1zM325 111.5h1v1h-1zM323 101h1v1h-1zM335 107h1v1h-1zM328 115.5h1v1h-1zM317 101h1v1h-1zM344.5 107h1v1h-1zM319 106.5h1v1h-1zM322 99h1v1h-1zM323.5 108h1v1h-1zM326 112.5h1v1h-1zM314 97h1v1h-1zM332 105h1v1h-1zM335 110.5h1v1h-1zM316 112.5h1v1h-1zM319 110.5h1v1h-1zM326 113.5h1v1h-1zM328.5 114.5h1v1h-1zM308 105.5h1v1h-1zM328.5 112h1v1h-1zM321 114.5h1v1h-1zM334 109h1v1h-1zM324.5 105.5h1v1h-1zM327.5 117.5h1v1h-1zM337 104.5h1v1h-1zM319.5 102h1v1h-1zM333.5 110h1v1h-1zM328.5 112h1v1h-1zM329 107.5h1v1h-1zM319 103.5h1v1h-1zM327 111.5h1v1h-1zM323.5 105h1v1h-1zM336 104.5h1v1h-1zM328 106h1v1h-1zM320 96.5h1v1h-1zM322.5 102h1v1h-1zM332.5 99.5h1v1h-1zM323.5 113.5h1v1h-1zM325.5 112h1v1h-1zM332.5 95.5h1v1h-1zM323.5 101h1v1h-1zM336 107.5h1v1h-1zM323.5 109h1v1h-1zM329 106.5h1v1h-1zM335.5 114.5h1v1h-1zM333.5 108.5h1v1h-1zM324 105.5h1v1h-1zM323.5 95.5h1v1h-1zM329 114.5h1v1h-1zM326 104.5h1v1h-1zM326.5 110h1v1h-1zM320 111h1v1h-1zM331 109h1v1h-1zM324.5 100.5h1v1h-1zM322 113.5h1v1h-1zM336.5 103.5h1v1h-1zM329.5 112.5h1v1h-1zM333.5 110h1v1h-1zM329.5 115h1v1h-1zM318 108.5h1v1h-1zM313.5 93.5h1v1h-1zM320.5 96.5h1v1h-1zM330 116h1v1h-1zM324 107h1v1h-1zM324.5 106.5h1v1h-1zM327 111h1v1h-1zM323 102.5h1v1h-1zM322.5 114.5h1v1h-1zM324.5 118.5h1v1h-1zM318 103h1v1h-1zM329.5 112h1v1h-1zM327 110.5h1v1h-1zM332.5 111.5h1v1h-1zM314.5 111h1v1h-1zM323 111h1v1h-1zM332.5 102.5h1v1h-1zM328 115h1v1h-1zM327.5 106h1v1h-1zM319 103h1v1h-1zM317.5 115.5h1v1h-1zM327 99h1v1h-1zM326 98.5h1v1h-1zM303 117.5h1v1h-1zM334.5 97h1v1h-1zM321 110h1v1h-1zM323.5 102h1v1h-1zM322.5 106.5h1v1h-1zM322.5 110h1v1h-1zM324.5 102.5h1v1h-1zM326.5 95.5h1v1h-1zM336.5 95h1v1h-1zM325.5 111h1v1h-1zM329 110h1v1h-1zM335 100h1v1h-1zM325.5 109.5h1v1h-1zM322.5 104h1v1h-1zM335 103h1v1h-1z" fill="#111" fill-opacity="0.9"/>
<path d="M306 82h1v1h-1zM308.5 81.5h1v1h-1zM309 82h1v1h-1zM311.5 80.5h1v1h-1zM317.5 70h1v1h-1zM320.5 69.5h1v1h-1zM315 76.5h1v1h-1zM303.5 76h1v1h-1zM319.5 69h1v1h-1zM306.5 87h1v1h-1zM314.5 85h1v1h-1zM323 72.5h1v1h-1zM313 80.5h1v1h-1zM301 87.5h1v1h-1zM309.5 78h1v1h-1zM308.5 74.5h1v1h-1zM319 78.5h1v1h-1zM301 87.5h1v1h-1zM321.5 72.5h1v1h-1zM300.5 83h1v1h-1zM319.5 80.5h1v1h-1zM302 86h1v1h-1zM303.5 83.5h1v1h-1zM312 78h1v1h-1zM309.5 89.5h1v1h-1zM308 80.5h1v1h-1zM317.5 74h1v1h-1zM310.5 83.5h1v1h-1zM304 87.5h1v1h-1zM318.5 76h1v1h-1zM308.5 81h1v1h-1zM297.5 89h1v1h-1zM313.5 80.5h1v1h-1zM310 78h1v1h-1zM303.5 84.5h1v1h-1zM313 82.5h1v1h-1zM308.5 78.5h1v1h-1zM308 79h1v1h-1zM303.5 75h1v1h-1zM296 85.5h1v1h-1zM313 77h1v1h-1zM313 82.5h1v1h-1zM305 89h1v1h-1zM311 76h1v1h-1zM317 68h1v1h-1zM301.5 85.5h1v1h-1zM312 77h1v1h-1zM294 91h1v1h-1zM314.5 87.5h1v1h-1zM319.5 73h1v1h-1zM302.5 87h1v1h-1zM302 87h1v1h-1zM311.5 77h1v1h-1zM310.5 77.5h1v1h-1zM309 87.5h1v1h-1zM313 76h1v1h-1zM304.5 84.5h1v1h-1zM315.5 79h1v1h-1zM321 73h1v1h-1zM306 91.5h1v1h-1z" fill="#444" fill-opacity="0.72"/>
<path d="M309 76h1v1h-1zM359 106.5h1v1h-1zM294.5 65.5h1v1h-1zM337.5 59.5h1v1h-1zM291.5 61h1v1h-1zM333.5 97h1v1h-1zM349 86.5h1v1h-1zM338 83h1v1h-1zM353.5 92.5h1v1h-1zM344.5 111h1v1h-1zM299.5 48h1v1h-1zM332.5 77.5h1v1h-1zM362.5 67.5h1v1h-1zM344 96h1v1h-1zM309 45.5h1v1h-1zM323.5 59.5h1v1h-1zM305 78.5h1v1h-1zM304.5 86h1v1h-1zM339.5 79.5h1v1h-1zM335 59.5h1v1h-1zM336 107.5h1v1h-1zM358 53h1v1h-1zM316 97.5h1v1h-1zM337.5 73h1v1h-1zM356.5 110.5h1v1h-1zM335 63h1v1h-1zM367 80h1v1h-1zM317.5 54.5h1v1h-1zM365.5 95.5h1v1h-1zM295.5 58.5h1v1h-1z" fill="#555" fill-opacity="0.6"/>
<rect x="286.4" y="37.3" width="91.5" height="82.9" fill="none" stroke="#444" stroke-width="1"/>
<line x1="281.9" y1="120.2" x2="286.4" y2="120.2" stroke="#222" stroke-width="0.8"/>
<line x1="283.9" y1="113.96" x2="286.4" y2="113.96" stroke="#222" stroke-width="0.8"/>
<line x1="283.9" y1="110.31" x2="286.4" y2="110.31" stroke="#222" stroke-width="0.8"/>
<line x1="283.9" y1="107.72" x2="286.4" y2="107.72" stroke="#222" stroke-width="0.8"/>
<line x1="283.9" y1="105.71" x2="286.4" y2="105.71" stroke="#222" stroke-width="0.8"/>
<line x1="283.9" y1="104.07" x2="286.4" y2="104.07" stroke="#222" stroke-width="0.8"/>
<line x1="283.9" y1="102.69" x2="286.4" y2="102.69" stroke="#222" stroke-width="0.8"/>
<line x1="283.9" y1="101.48" x2="286.4" y2="101.48" stroke="#222" stroke-width="0.8"/>
<line x1="283.9" y1="100.42" x2="286.4" y2="100.42" stroke="#222" stroke-width="0.8"/>
<line x1="281.9" y1="99.47" x2="286.4" y2="99.47" stroke="#222" stroke-width="0.8"/>
<line x1="283.9" y1="93.24" x2="286.4" y2="93.24" stroke="#222" stroke-width="0.8"/>
<line x1="283.9" y1="89.59" x2="286.4" y2="89.59" stroke="#222" stroke-width="0.8"/>
<line x1="283.9" y1="87" x2="286.4" y2="87" stroke="#222" stroke-width="0.8"/>
<line x1="283.9" y1="84.99" x2="286.4" y2="84.99" stroke="#222" stroke-width="0.8"/>
<line x1="283.9" y1="83.35" x2="286.4" y2="83.35" stroke="#222" stroke-width="0.8"/>
<line x1="283.9" y1="81.96" x2="286.4" y2="81.96" stroke="#222" stroke-width="0.8"/>
<line x1="283.9" y1="80.76" x2="286.4" y2="80.76" stroke="#222" stroke-width="0.8"/>
<line x1="283.9" y1="79.7" x2="286.4" y2="79.7" stroke="#222" stroke-width="0.8"/>
<line x1="281.9" y1="78.75" x2="286.4" y2="78.75" stroke="#222" stroke-width="0.8"/>
<line x1="283.9" y1="72.51" x2="286.4" y2="72.51" stroke="#222" stroke-width="0.8"/>
<line x1="283.9" y1="68.86" x2="286.4" y2="68.86" stroke="#222" stroke-width="0.8"/>
<line x1="283.9" y1="66.27" x2="286.4" y2="66.27" stroke="#222" stroke-width="0.8"/>
<line x1="283.9" y1="64.26" x2="286.4" y2="64.26" stroke="#222" stroke-width="0.8"/>
<line x1="283.9" y1="62.62" x2="286.4" y2="62.62" stroke="#222" stroke-width="0.8"/>
<line x1="283.9" y1="61.24" x2="286.4" y2="61.24" stroke="#222" stroke-width="0.8"/>
<line x1="283.9" y1="60.03" x2="286.4" y2="60.03" stroke="#222" stroke-width="0.8"/>
<line x1="283.9" y1="58.97" x2="286.4" y2="58.97" stroke="#222" stroke-width="0.8"/>
<line x1="281.9" y1="58.02" x2="286.4" y2="58.02" stroke="#222" stroke-width="0.8"/>
<line x1="283.9" y1="51.79" x2="286.4" y2="51.79" stroke="#222" stroke-width="0.8"/>
<line x1="283.9" y1="48.14" x2="286.4" y2="48.14" stroke="#222" stroke-width="0.8"/>
<line x1="283.9" y1="45.55" x2="286.4" y2="45.55" stroke="#222" stroke-width="0.8"/>
<line x1="283.9" y1="43.54" x2="286.4" y2="43.54" stroke="#222" stroke-width="0.8"/>
<line x1="283.9" y1="41.9" x2="286.4" y2="41.9" stroke="#222" stroke-width="0.8"/>
<line x1="283.9" y1="40.51" x2="286.4" y2="40.51" stroke="#222" stroke-width="0.8"/>
<line x1="283.9" y1="39.31" x2="286.4" y2="39.31" stroke="#222" stroke-width="0.8"/>
<line x1="283.9" y1="38.25" x2="286.4" y2="38.25" stroke="#222" stroke-width="0.8"/>
<line x1="281.9" y1="37.3" x2="286.4" y2="37.3" stroke="#222" stroke-width="0.8"/>
<line x1="286.4" y1="120.2" x2="286.4" y2="123.7" stroke="#222" stroke-width="0.8"/>
<line x1="293.29" y1="120.2" x2="293.29" y2="122.2" stroke="#222" stroke-width="0.8"/>
<line x1="297.31" y1="120.2" x2="297.31" y2="122.2" stroke="#222" stroke-width="0.8"/>
<line x1="300.17" y1="120.2" x2="300.17" y2="122.2" stroke="#222" stroke-width="0.8"/>
<line x1="302.39" y1="120.2" x2="302.39" y2="122.2" stroke="#222" stroke-width="0.8"/>
<line x1="304.2" y1="120.2" x2="304.2" y2="122.2" stroke="#222" stroke-width="0.8"/>
<line x1="305.73" y1="120.2" x2="305.73" y2="122.2" stroke="#222" stroke-width="0.8"/>
<line x1="307.06" y1="120.2" x2="307.06" y2="122.2" stroke="#222" stroke-width="0.8"/>
<line x1="308.23" y1="120.2" x2="308.23" y2="122.2" stroke="#222" stroke-width="0.8"/>
<line x1="309.27" y1="120.2" x2="309.27" y2="123.7" stroke="#222" stroke-width="0.8"/>
<line x1="316.16" y1="120.2" x2="316.16" y2="122.2" stroke="#222" stroke-width="0.8"/>
<line x1="320.19" y1="120.2" x2="320.19" y2="122.2" stroke="#222" stroke-width="0.8"/>
<line x1="323.05" y1="120.2" x2="323.05" y2="122.2" stroke="#222" stroke-width="0.8"/>
<line x1="325.26" y1="120.2" x2="325.26" y2="122.2" stroke="#222" stroke-width="0.8"/>
<line x1="327.08" y1="120.2" x2="327.08" y2="122.2" stroke="#222" stroke-width="0.8"/>
<line x1="328.61" y1="120.2" x2="328.61" y2="122.2" stroke="#222" stroke-width="0.8"/>
<line x1="329.93" y1="120.2" x2="329.93" y2="122.2" stroke="#222" stroke-width="0.8"/>
<line x1="331.1" y1="120.2" x2="331.1" y2="122.2" stroke="#222" stroke-width="0.8"/>
<line x1="332.15" y1="120.2" x2="332.15" y2="123.7" stroke="#222" stroke-width="0.8"/>
<line x1="339.04" y1="120.2" x2="339.04" y2="122.2" stroke="#222" stroke-width="0.8"/>
<line x1="343.06" y1="120.2" x2="343.06" y2="122.2" stroke="#222" stroke-width="0.8"/>
<line x1="345.92" y1="120.2" x2="345.92" y2="122.2" stroke="#222" stroke-width="0.8"/>
<line x1="348.14" y1="120.2" x2="348.14" y2="122.2" stroke="#222" stroke-width="0.8"/>
<line x1="349.95" y1="120.2" x2="349.95" y2="122.2" stroke="#222" stroke-width="0.8"/>
<line x1="351.48" y1="120.2" x2="351.48" y2="122.2" stroke="#222" stroke-width="0.8"/>
<line x1="352.81" y1="120.2" x2="352.81" y2="122.2" stroke="#222" stroke-width="0.8"/>
<line x1="353.98" y1="120.2" x2="353.98" y2="122.2" stroke="#222" stroke-width="0.8"/>
<line x1="355.02" y1="120.2" x2="355.02" y2="123.7" stroke="#222" stroke-width="0.8"/>
<line x1="361.91" y1="120.2" x2="361.91" y2="122.2" stroke="#222" stroke-width="0.8"/>
<line x1="365.94" y1="120.2" x2="365.94" y2="122.2" stroke="#222" stroke-width="0.8"/>
<line x1="368.8" y1="120.2" x2="368.8" y2="122.2" stroke="#222" stroke-width="0.8"/>
<line x1="371.01" y1="120.2" x2="371.01" y2="122.2" stroke="#222" stroke-width="0.8"/>
<line x1="372.83" y1="120.2" x2="372.83" y2="122.2" stroke="#222" stroke-width="0.8"/>
<line x1="374.36" y1="120.2" x2="374.36" y2="122.2" stroke="#222" stroke-width="0.8"/>
<line x1="375.68" y1="120.2" x2="375.68" y2="122.2" stroke="#222" stroke-width="0.8"/>
<line x1="376.85" y1="120.2" x2="376.85" y2="122.2" stroke="#222" stroke-width="0.8"/>
<line x1="377.9" y1="120.2" x2="377.9" y2="123.7" stroke="#222" stroke-width="0.8"/>
<text x="293.1" y="35" font-size="9.5" stroke="#000" stroke-width="0.3" textLength="27.7" lengthAdjust="spacingAndGlyphs">spleen</text>
<ellipse cx="308.7" cy="79.3" rx="19.3" ry="6.3" transform="rotate(-38 308.7 79.3)" fill="none" stroke="#000" stroke-width="1.45"/>
<circle cx="325" cy="88" r="9.1" fill="none" stroke="#000" stroke-width="1.45"/>
<text x="295.8" y="67.8" font-size="8.3" stroke="#000" stroke-width="0.3" font-weight="bold" textLength="15.5" lengthAdjust="spacingAndGlyphs">0.14</text>
<text x="333.8" y="84.7" font-size="8.3" stroke="#000" stroke-width="0.3" font-weight="bold" textLength="15.6" lengthAdjust="spacingAndGlyphs">1.25</text>
<g filter="url(#bl05)"><path d="M402 99h2v1h-2zM405 99h1v1h-1zM408 99h1v1h-1zM416 99h1v1h-1zM401 100h1v1h-1zM408 100h1v1h-1zM417 100h2v1h-2zM401 101h1v1h-1zM421 101h1v1h-1zM423 103h1v1h-1zM423 105h1v1h-1zM424 106h2v1h-2zM424 111h1v1h-1zM425 114h1v1h-1zM424 115h1v1h-1zM425 117h1v1h-1z" fill="#e6e6e6"/><path d="M401 99h1v1h-1zM412 99h1v1h-1zM402 100h1v1h-1zM410 100h3v1h-3zM415 100h1v1h-1zM400 101h1v1h-1zM402 101h1v1h-1zM418 101h2v1h-2zM423 102h1v1h-1zM423 104h1v1h-1zM425 107h1v1h-1zM424 108h1v1h-1zM424 113h1v1h-1zM424 118h1v1h-1zM423 119h1v1h-1z" fill="#cccccc"/><path d="M406 99h1v1h-1zM411 99h1v1h-1zM415 99h1v1h-1zM403 100h1v1h-1zM406 100h1v1h-1zM409 100h1v1h-1zM399 101h1v1h-1zM419 102h2v1h-2zM422 104h1v1h-1zM423 106h1v1h-1zM424 109h1v1h-1zM424 110h1v1h-1zM425 111h1v1h-1zM424 112h1v1h-1zM424 114h1v1h-1z" fill="#b2b2b2"/><path d="M410 99h1v1h-1zM404 100h1v1h-1zM412 101h1v1h-1zM416 101h2v1h-2zM400 102h1v1h-1zM401 103h1v1h-1zM421 103h2v1h-2zM416 106h1v1h-1zM406 108h1v1h-1zM423 109h1v1h-1zM401 110h1v1h-1zM407 110h1v1h-1zM423 113h1v1h-1zM425 113h1v1h-1zM401 114h1v1h-1zM404 114h1v1h-1zM407 114h1v1h-1zM410 114h2v1h-2zM420 114h1v1h-1zM425 115h1v1h-1zM411 116h1v1h-1zM414 117h1v1h-1zM425 118h1v1h-1z" fill="#999999"/><path d="M405 100h1v1h-1zM407 100h1v1h-1zM405 101h1v1h-1zM407 104h1v1h-1zM421 104h1v1h-1zM404 105h1v1h-1zM411 105h1v1h-1zM402 107h1v1h-1zM405 107h1v1h-1zM412 108h1v1h-1zM417 108h1v1h-1zM402 109h2v1h-2zM405 109h1v1h-1zM408 109h1v1h-1zM410 109h1v1h-1zM413 110h2v1h-2zM401 111h1v1h-1zM403 111h1v1h-1zM405 111h2v1h-2zM411 111h2v1h-2zM416 111h1v1h-1zM418 111h1v1h-1zM423 111h1v1h-1zM402 112h2v1h-2zM408 112h1v1h-1zM410 112h1v1h-1zM415 112h2v1h-2zM423 112h1v1h-1zM399 113h2v1h-2zM402 113h2v1h-2zM408 113h1v1h-1zM411 113h1v1h-1zM415 113h1v1h-1zM406 114h1v1h-1zM409 114h1v1h-1zM414 114h2v1h-2zM403 115h1v1h-1zM405 115h1v1h-1zM410 115h1v1h-1zM423 115h1v1h-1zM402 116h2v1h-2zM406 116h1v1h-1zM408 116h2v1h-2zM412 116h1v1h-1zM416 116h1v1h-1zM401 117h1v1h-1zM410 117h1v1h-1zM405 118h1v1h-1zM408 118h1v1h-1zM410 118h1v1h-1zM414 118h2v1h-2zM408 119h1v1h-1zM411 119h1v1h-1zM417 119h1v1h-1zM424 119h1v1h-1z" fill="#808080"/><path d="M413 100h1v1h-1zM409 101h1v1h-1zM415 101h1v1h-1zM415 102h1v1h-1zM399 103h1v1h-1zM408 104h1v1h-1zM412 104h1v1h-1zM403 105h1v1h-1zM406 105h1v1h-1zM408 105h1v1h-1zM410 105h1v1h-1zM422 105h1v1h-1zM403 106h1v1h-1zM406 106h2v1h-2zM411 106h2v1h-2zM411 107h1v1h-1zM413 107h1v1h-1zM415 107h1v1h-1zM423 107h1v1h-1zM405 108h1v1h-1zM408 108h4v1h-4zM413 108h2v1h-2zM423 108h1v1h-1zM404 109h1v1h-1zM409 109h1v1h-1zM411 109h2v1h-2zM419 109h1v1h-1zM404 110h2v1h-2zM408 110h1v1h-1zM411 110h2v1h-2zM415 110h1v1h-1zM423 110h1v1h-1zM402 111h1v1h-1zM404 111h1v1h-1zM407 111h2v1h-2zM410 111h1v1h-1zM413 111h2v1h-2zM417 111h1v1h-1zM405 112h3v1h-3zM409 112h1v1h-1zM411 112h4v1h-4zM417 112h1v1h-1zM404 113h2v1h-2zM409 113h2v1h-2zM413 113h2v1h-2zM416 113h1v1h-1zM402 114h2v1h-2zM405 114h1v1h-1zM408 114h1v1h-1zM413 114h1v1h-1zM416 114h1v1h-1zM401 115h2v1h-2zM408 115h2v1h-2zM411 115h3v1h-3zM415 115h4v1h-4zM404 116h1v1h-1zM407 116h1v1h-1zM413 116h1v1h-1zM400 117h1v1h-1zM403 117h1v1h-1zM406 117h3v1h-3zM411 117h2v1h-2zM415 117h2v1h-2zM402 118h1v1h-1zM404 118h1v1h-1zM406 118h2v1h-2zM416 118h1v1h-1zM420 118h1v1h-1zM422 118h1v1h-1zM403 119h1v1h-1zM406 119h2v1h-2zM409 119h2v1h-2zM413 119h3v1h-3z" fill="#666666"/><path d="M403 101h2v1h-2zM407 101h2v1h-2zM410 101h1v1h-1zM414 101h1v1h-1zM401 102h1v1h-1zM407 102h1v1h-1zM417 102h1v1h-1zM405 103h1v1h-1zM413 103h2v1h-2zM418 103h1v1h-1zM420 103h1v1h-1zM411 104h1v1h-1zM415 104h1v1h-1zM419 104h1v1h-1zM402 105h1v1h-1zM407 105h1v1h-1zM418 105h1v1h-1zM421 105h1v1h-1zM408 106h1v1h-1zM413 106h1v1h-1zM418 106h1v1h-1zM421 106h1v1h-1zM407 107h4v1h-4zM412 107h1v1h-1zM416 107h2v1h-2zM419 107h1v1h-1zM421 107h1v1h-1zM402 108h1v1h-1zM404 108h1v1h-1zM415 108h2v1h-2zM421 108h1v1h-1zM406 109h2v1h-2zM413 109h2v1h-2zM417 109h1v1h-1zM410 110h1v1h-1zM416 110h2v1h-2zM399 111h1v1h-1zM409 111h1v1h-1zM415 111h1v1h-1zM401 112h1v1h-1zM404 112h1v1h-1zM418 112h2v1h-2zM406 113h2v1h-2zM412 113h1v1h-1zM417 113h1v1h-1zM421 113h1v1h-1zM412 114h1v1h-1zM417 114h3v1h-3zM422 114h1v1h-1zM404 115h1v1h-1zM406 115h2v1h-2zM414 115h1v1h-1zM405 116h1v1h-1zM410 116h1v1h-1zM414 116h2v1h-2zM417 116h1v1h-1zM419 116h1v1h-1zM402 117h1v1h-1zM404 117h1v1h-1zM409 117h1v1h-1zM413 117h1v1h-1zM417 117h1v1h-1zM421 117h1v1h-1zM424 117h1v1h-1zM403 118h1v1h-1zM409 118h1v1h-1zM411 118h3v1h-3zM417 118h1v1h-1zM423 118h1v1h-1zM401 119h1v1h-1zM404 119h2v1h-2zM412 119h1v1h-1zM416 119h1v1h-1zM419 119h1v1h-1z" fill="#4d4d4d"/><path d="M413 101h1v1h-1zM402 102h2v1h-2zM406 102h1v1h-1zM408 102h1v1h-1zM412 102h1v1h-1zM404 103h1v1h-1zM406 103h1v1h-1zM410 103h3v1h-3zM417 103h1v1h-1zM419 103h1v1h-1zM403 104h1v1h-1zM406 104h1v1h-1zM409 104h2v1h-2zM417 104h2v1h-2zM420 104h1v1h-1zM401 105h1v1h-1zM409 105h1v1h-1zM412 105h1v1h-1zM416 105h1v1h-1zM419 105h2v1h-2zM402 106h1v1h-1zM404 106h1v1h-1zM417 106h1v1h-1zM400 107h1v1h-1zM404 107h1v1h-1zM406 107h1v1h-1zM414 107h1v1h-1zM418 107h1v1h-1zM420 107h1v1h-1zM422 107h1v1h-1zM400 108h2v1h-2zM403 108h1v1h-1zM407 108h1v1h-1zM419 108h1v1h-1zM399 109h3v1h-3zM415 109h2v1h-2zM418 109h1v1h-1zM403 110h1v1h-1zM406 110h1v1h-1zM409 110h1v1h-1zM419 110h1v1h-1zM422 110h1v1h-1zM399 112h2v1h-2zM401 113h1v1h-1zM418 113h1v1h-1zM420 113h1v1h-1zM421 114h1v1h-1zM399 115h1v1h-1zM419 115h1v1h-1zM399 116h2v1h-2zM418 116h1v1h-1zM420 116h1v1h-1zM423 116h1v1h-1zM405 117h1v1h-1zM420 117h1v1h-1zM399 118h2v1h-2zM402 119h1v1h-1zM420 119h2v1h-2z" fill="#333333"/><path d="M411 101h1v1h-1zM405 102h1v1h-1zM414 102h1v1h-1zM416 102h1v1h-1zM400 103h1v1h-1zM402 103h1v1h-1zM408 103h1v1h-1zM399 104h1v1h-1zM401 104h1v1h-1zM413 104h2v1h-2zM399 105h1v1h-1zM405 105h1v1h-1zM415 105h1v1h-1zM401 106h1v1h-1zM405 106h1v1h-1zM409 106h2v1h-2zM419 106h1v1h-1zM422 106h1v1h-1zM399 107h1v1h-1zM401 107h1v1h-1zM403 107h1v1h-1zM418 108h1v1h-1zM420 109h2v1h-2zM418 110h1v1h-1zM420 110h1v1h-1zM419 111h1v1h-1zM420 112h3v1h-3zM419 113h1v1h-1zM422 113h1v1h-1zM400 114h1v1h-1zM423 114h1v1h-1zM400 115h1v1h-1zM420 115h1v1h-1zM422 115h1v1h-1zM399 117h1v1h-1zM422 117h1v1h-1zM419 118h1v1h-1zM421 118h1v1h-1zM399 119h2v1h-2zM418 119h1v1h-1z" fill="#191919"/><path d="M406 101h1v1h-1zM404 102h1v1h-1zM409 102h3v1h-3zM413 102h1v1h-1zM418 102h1v1h-1zM403 103h1v1h-1zM407 103h1v1h-1zM409 103h1v1h-1zM415 103h2v1h-2zM400 104h1v1h-1zM402 104h1v1h-1zM404 104h2v1h-2zM416 104h1v1h-1zM400 105h1v1h-1zM413 105h2v1h-2zM417 105h1v1h-1zM399 106h2v1h-2zM414 106h2v1h-2zM420 106h1v1h-1zM399 108h1v1h-1zM420 108h1v1h-1zM422 108h1v1h-1zM422 109h1v1h-1zM399 110h2v1h-2zM402 110h1v1h-1zM421 110h1v1h-1zM400 111h1v1h-1zM420 111h3v1h-3zM399 114h1v1h-1zM421 115h1v1h-1zM401 116h1v1h-1zM421 116h2v1h-2zM418 117h2v1h-2zM423 117h1v1h-1zM401 118h1v1h-1zM418 118h1v1h-1zM422 119h1v1h-1z" fill="#000000"/></g>
<path d="M443.5 82.5h1v1h-1zM438.5 90h1v1h-1zM435 94.5h1v1h-1zM443.5 86h1v1h-1zM434 81.5h1v1h-1zM441 84.5h1v1h-1zM434.5 88.5h1v1h-1zM437 79.5h1v1h-1zM435 83h1v1h-1zM436 79h1v1h-1zM428 88h1v1h-1zM435 90.5h1v1h-1zM433 90.5h1v1h-1zM440.5 92.5h1v1h-1zM443 90.5h1v1h-1zM435 88h1v1h-1zM441 81h1v1h-1zM432.5 93.5h1v1h-1zM430 84.5h1v1h-1zM440 79.5h1v1h-1zM443 92h1v1h-1zM433.5 89.5h1v1h-1zM430.5 93h1v1h-1zM434.5 79h1v1h-1zM441.5 83h1v1h-1zM439 87h1v1h-1zM428 84.5h1v1h-1zM443.5 87h1v1h-1zM434.5 92h1v1h-1zM432 90h1v1h-1zM434.5 95h1v1h-1zM432.5 89h1v1h-1zM431 93h1v1h-1zM430.5 87h1v1h-1zM436 94h1v1h-1zM430 92h1v1h-1zM436.5 89.5h1v1h-1zM432.5 89h1v1h-1zM435.5 84h1v1h-1zM441.5 88h1v1h-1zM439.5 87h1v1h-1zM441 93.5h1v1h-1zM438 79.5h1v1h-1zM434.5 93.5h1v1h-1zM439.5 88.5h1v1h-1zM437 83h1v1h-1zM430 84.5h1v1h-1zM435.5 95h1v1h-1zM430 92.5h1v1h-1zM441.5 80.5h1v1h-1zM435 82h1v1h-1zM435 94h1v1h-1zM436.5 93h1v1h-1zM430.5 84.5h1v1h-1zM441.5 92h1v1h-1zM437 91.5h1v1h-1zM437.5 82.5h1v1h-1zM435.5 81.5h1v1h-1zM440.5 87.5h1v1h-1zM428.5 89.5h1v1h-1zM432 90h1v1h-1zM436 85h1v1h-1zM430 90h1v1h-1zM437.5 95.5h1v1h-1zM439.5 81.5h1v1h-1zM438 91h1v1h-1zM431.5 80.5h1v1h-1zM435 93.5h1v1h-1zM431 82.5h1v1h-1zM439 92h1v1h-1zM441.5 81.5h1v1h-1zM431.5 92h1v1h-1zM433.5 81h1v1h-1zM436 82h1v1h-1zM428.5 88.5h1v1h-1zM428 85h1v1h-1zM438 88.5h1v1h-1zM435 86.5h1v1h-1zM433.5 86.5h1v1h-1zM442.5 82h1v1h-1zM432 92.5h1v1h-1zM439.5 91.5h1v1h-1zM429 91.5h1v1h-1zM438 78.5h1v1h-1zM442 87.5h1v1h-1zM441.5 88h1v1h-1zM442.5 87h1v1h-1zM430 84.5h1v1h-1zM434.5 79h1v1h-1zM428.5 88.5h1v1h-1zM437.5 91h1v1h-1zM432.5 80h1v1h-1zM436.5 89.5h1v1h-1zM432.5 88h1v1h-1zM437.5 92.5h1v1h-1zM438 85.5h1v1h-1zM432 90h1v1h-1zM435.5 85.5h1v1h-1zM439.5 94h1v1h-1zM430.5 82.5h1v1h-1zM435 91h1v1h-1zM441 91h1v1h-1zM434 92h1v1h-1zM443.5 90h1v1h-1zM432.5 84h1v1h-1zM432.5 85.5h1v1h-1zM441 81h1v1h-1zM443.5 88h1v1h-1zM430 91h1v1h-1zM438.5 86.5h1v1h-1zM435 88.5h1v1h-1zM444 90h1v1h-1zM439 79h1v1h-1zM439.5 89h1v1h-1zM435 81h1v1h-1zM430.5 86h1v1h-1zM439.5 83.5h1v1h-1zM434 86.5h1v1h-1zM434.5 83h1v1h-1zM436 95.5h1v1h-1z" fill="#333" fill-opacity="0.72"/>
<path d="M442.5 98.5h1v1h-1zM446 112h1v1h-1zM454.5 107.5h1v1h-1zM437 109.5h1v1h-1zM438.5 107h1v1h-1zM429 100h1v1h-1zM433.5 106h1v1h-1zM428.5 99.5h1v1h-1zM435.5 113.5h1v1h-1zM436.5 113h1v1h-1zM446 113.5h1v1h-1zM434.5 105h1v1h-1zM423 103h1v1h-1zM442 100h1v1h-1zM449 118h1v1h-1zM435 114.5h1v1h-1zM426.5 100.5h1v1h-1zM435 108h1v1h-1zM436.5 102h1v1h-1zM454 110h1v1h-1zM440.5 113h1v1h-1zM439.5 106.5h1v1h-1zM433.5 96.5h1v1h-1zM450 101.5h1v1h-1zM424.5 102h1v1h-1zM441 118h1v1h-1zM450 112h1v1h-1zM442.5 103h1v1h-1zM437.5 103.5h1v1h-1zM438.5 103h1v1h-1zM448.5 113.5h1v1h-1zM437 96h1v1h-1zM443.5 114.5h1v1h-1zM437.5 99h1v1h-1zM441.5 115.5h1v1h-1zM422.5 112h1v1h-1zM423 108.5h1v1h-1zM452.5 108.5h1v1h-1zM442 105.5h1v1h-1zM449 106h1v1h-1zM435 108h1v1h-1zM456 109.5h1v1h-1zM447 105.5h1v1h-1zM427.5 117.5h1v1h-1zM437.5 102.5h1v1h-1zM432.5 103h1v1h-1zM433 97h1v1h-1zM448 110.5h1v1h-1zM446 105.5h1v1h-1zM441 109h1v1h-1zM447.5 114h1v1h-1zM441 103.5h1v1h-1zM428 102.5h1v1h-1zM433 104h1v1h-1zM440 93.5h1v1h-1zM429 98.5h1v1h-1zM440 115.5h1v1h-1zM430 112.5h1v1h-1zM436 116h1v1h-1zM449 110h1v1h-1zM444 108h1v1h-1zM435 99.5h1v1h-1zM440.5 107.5h1v1h-1zM435 107.5h1v1h-1zM436.5 100.5h1v1h-1zM433.5 116h1v1h-1zM436 118h1v1h-1zM428.5 98.5h1v1h-1zM439 113.5h1v1h-1zM432.5 112.5h1v1h-1zM445.5 115.5h1v1h-1zM437 107.5h1v1h-1zM424.5 108h1v1h-1zM440.5 118h1v1h-1zM427.5 102h1v1h-1zM430 114.5h1v1h-1zM417.5 100.5h1v1h-1zM454.5 112.5h1v1h-1zM427 107.5h1v1h-1zM445 112h1v1h-1zM436 102.5h1v1h-1zM444.5 108h1v1h-1zM444.5 111h1v1h-1zM434 118h1v1h-1zM434 111h1v1h-1zM433 106.5h1v1h-1zM436 103.5h1v1h-1zM440 117.5h1v1h-1zM453 118h1v1h-1zM436.5 118.5h1v1h-1zM428 118.5h1v1h-1zM433 116h1v1h-1zM434 114.5h1v1h-1zM435.5 94.5h1v1h-1zM430 106.5h1v1h-1zM438 92h1v1h-1zM428.5 103h1v1h-1zM436.5 109.5h1v1h-1zM431.5 97.5h1v1h-1zM440.5 105.5h1v1h-1zM445 104.5h1v1h-1zM443 101.5h1v1h-1zM440 108.5h1v1h-1zM441.5 101.5h1v1h-1zM437 102h1v1h-1zM436.5 112.5h1v1h-1zM462 108h1v1h-1zM444 109h1v1h-1zM447 111.5h1v1h-1zM446.5 110.5h1v1h-1zM457.5 117.5h1v1h-1zM424.5 110h1v1h-1zM438.5 92.5h1v1h-1zM431 105h1v1h-1zM432 109h1v1h-1zM423.5 113.5h1v1h-1zM444.5 110.5h1v1h-1zM435.5 108h1v1h-1zM434.5 116h1v1h-1zM435 118h1v1h-1zM433.5 107h1v1h-1zM429.5 111.5h1v1h-1zM437.5 112.5h1v1h-1zM450 107.5h1v1h-1zM441 114.5h1v1h-1zM437.5 104h1v1h-1zM441 111.5h1v1h-1zM444.5 114h1v1h-1zM432.5 111h1v1h-1zM448 105h1v1h-1zM441 103.5h1v1h-1zM439.5 101.5h1v1h-1zM441 109.5h1v1h-1zM447 98.5h1v1h-1zM430.5 107.5h1v1h-1zM425.5 116h1v1h-1zM422 102h1v1h-1zM426 103.5h1v1h-1zM444.5 112.5h1v1h-1zM445.5 112.5h1v1h-1zM422 110h1v1h-1zM423.5 104.5h1v1h-1zM435 104h1v1h-1zM442 102.5h1v1h-1zM452 112.5h1v1h-1zM447.5 113.5h1v1h-1zM445 108h1v1h-1zM454 100.5h1v1h-1zM442 108h1v1h-1zM436.5 110.5h1v1h-1zM432 114h1v1h-1zM444.5 108.5h1v1h-1zM444 101h1v1h-1zM423.5 104h1v1h-1z" fill="#333" fill-opacity="0.66"/>
<path d="M425 87.5h1v1h-1zM421.5 83.5h1v1h-1zM431.5 80.5h1v1h-1zM423.5 80.5h1v1h-1zM418 78h1v1h-1zM412 82.5h1v1h-1zM432 72h1v1h-1zM420 80h1v1h-1zM417 82h1v1h-1zM422 81h1v1h-1zM424 69.5h1v1h-1zM425.5 81.5h1v1h-1zM413.5 84h1v1h-1zM424.5 81.5h1v1h-1zM425 75.5h1v1h-1zM427 79.5h1v1h-1zM428 82h1v1h-1zM422 74h1v1h-1zM415 83h1v1h-1zM421 82h1v1h-1zM427.5 82h1v1h-1zM430 79h1v1h-1zM415 82h1v1h-1zM426 75.5h1v1h-1zM426 76.5h1v1h-1zM420.5 87.5h1v1h-1zM426 68.5h1v1h-1zM417 82.5h1v1h-1zM426 75h1v1h-1zM413.5 89h1v1h-1zM422.5 83.5h1v1h-1zM425.5 80h1v1h-1zM429 77h1v1h-1zM420 85h1v1h-1zM420 74.5h1v1h-1zM417.5 80.5h1v1h-1zM426 78.5h1v1h-1zM415 87.5h1v1h-1zM418.5 76.5h1v1h-1zM425.5 72.5h1v1h-1z" fill="#555" fill-opacity="0.6"/>
<rect x="398.1" y="37" width="91.3" height="83.2" fill="none" stroke="#444" stroke-width="1"/>
<line x1="393.6" y1="120.2" x2="398.1" y2="120.2" stroke="#222" stroke-width="0.8"/>
<line x1="395.6" y1="113.94" x2="398.1" y2="113.94" stroke="#222" stroke-width="0.8"/>
<line x1="395.6" y1="110.28" x2="398.1" y2="110.28" stroke="#222" stroke-width="0.8"/>
<line x1="395.6" y1="107.68" x2="398.1" y2="107.68" stroke="#222" stroke-width="0.8"/>
<line x1="395.6" y1="105.66" x2="398.1" y2="105.66" stroke="#222" stroke-width="0.8"/>
<line x1="395.6" y1="104.01" x2="398.1" y2="104.01" stroke="#222" stroke-width="0.8"/>
<line x1="395.6" y1="102.62" x2="398.1" y2="102.62" stroke="#222" stroke-width="0.8"/>
<line x1="395.6" y1="101.42" x2="398.1" y2="101.42" stroke="#222" stroke-width="0.8"/>
<line x1="395.6" y1="100.35" x2="398.1" y2="100.35" stroke="#222" stroke-width="0.8"/>
<line x1="393.6" y1="99.4" x2="398.1" y2="99.4" stroke="#222" stroke-width="0.8"/>
<line x1="395.6" y1="93.14" x2="398.1" y2="93.14" stroke="#222" stroke-width="0.8"/>
<line x1="395.6" y1="89.48" x2="398.1" y2="89.48" stroke="#222" stroke-width="0.8"/>
<line x1="395.6" y1="86.88" x2="398.1" y2="86.88" stroke="#222" stroke-width="0.8"/>
<line x1="395.6" y1="84.86" x2="398.1" y2="84.86" stroke="#222" stroke-width="0.8"/>
<line x1="395.6" y1="83.21" x2="398.1" y2="83.21" stroke="#222" stroke-width="0.8"/>
<line x1="395.6" y1="81.82" x2="398.1" y2="81.82" stroke="#222" stroke-width="0.8"/>
<line x1="395.6" y1="80.62" x2="398.1" y2="80.62" stroke="#222" stroke-width="0.8"/>
<line x1="395.6" y1="79.55" x2="398.1" y2="79.55" stroke="#222" stroke-width="0.8"/>
<line x1="393.6" y1="78.6" x2="398.1" y2="78.6" stroke="#222" stroke-width="0.8"/>
<line x1="395.6" y1="72.34" x2="398.1" y2="72.34" stroke="#222" stroke-width="0.8"/>
<line x1="395.6" y1="68.68" x2="398.1" y2="68.68" stroke="#222" stroke-width="0.8"/>
<line x1="395.6" y1="66.08" x2="398.1" y2="66.08" stroke="#222" stroke-width="0.8"/>
<line x1="395.6" y1="64.06" x2="398.1" y2="64.06" stroke="#222" stroke-width="0.8"/>
<line x1="395.6" y1="62.41" x2="398.1" y2="62.41" stroke="#222" stroke-width="0.8"/>
<line x1="395.6" y1="61.02" x2="398.1" y2="61.02" stroke="#222" stroke-width="0.8"/>
<line x1="395.6" y1="59.82" x2="398.1" y2="59.82" stroke="#222" stroke-width="0.8"/>
<line x1="395.6" y1="58.75" x2="398.1" y2="58.75" stroke="#222" stroke-width="0.8"/>
<line x1="393.6" y1="57.8" x2="398.1" y2="57.8" stroke="#222" stroke-width="0.8"/>
<line x1="395.6" y1="51.54" x2="398.1" y2="51.54" stroke="#222" stroke-width="0.8"/>
<line x1="395.6" y1="47.88" x2="398.1" y2="47.88" stroke="#222" stroke-width="0.8"/>
<line x1="395.6" y1="45.28" x2="398.1" y2="45.28" stroke="#222" stroke-width="0.8"/>
<line x1="395.6" y1="43.26" x2="398.1" y2="43.26" stroke="#222" stroke-width="0.8"/>
<line x1="395.6" y1="41.61" x2="398.1" y2="41.61" stroke="#222" stroke-width="0.8"/>
<line x1="395.6" y1="40.22" x2="398.1" y2="40.22" stroke="#222" stroke-width="0.8"/>
<line x1="395.6" y1="39.02" x2="398.1" y2="39.02" stroke="#222" stroke-width="0.8"/>
<line x1="395.6" y1="37.95" x2="398.1" y2="37.95" stroke="#222" stroke-width="0.8"/>
<line x1="393.6" y1="37" x2="398.1" y2="37" stroke="#222" stroke-width="0.8"/>
<line x1="398.1" y1="120.2" x2="398.1" y2="123.7" stroke="#222" stroke-width="0.8"/>
<line x1="404.97" y1="120.2" x2="404.97" y2="122.2" stroke="#222" stroke-width="0.8"/>
<line x1="408.99" y1="120.2" x2="408.99" y2="122.2" stroke="#222" stroke-width="0.8"/>
<line x1="411.84" y1="120.2" x2="411.84" y2="122.2" stroke="#222" stroke-width="0.8"/>
<line x1="414.05" y1="120.2" x2="414.05" y2="122.2" stroke="#222" stroke-width="0.8"/>
<line x1="415.86" y1="120.2" x2="415.86" y2="122.2" stroke="#222" stroke-width="0.8"/>
<line x1="417.39" y1="120.2" x2="417.39" y2="122.2" stroke="#222" stroke-width="0.8"/>
<line x1="418.71" y1="120.2" x2="418.71" y2="122.2" stroke="#222" stroke-width="0.8"/>
<line x1="419.88" y1="120.2" x2="419.88" y2="122.2" stroke="#222" stroke-width="0.8"/>
<line x1="420.93" y1="120.2" x2="420.93" y2="123.7" stroke="#222" stroke-width="0.8"/>
<line x1="427.8" y1="120.2" x2="427.8" y2="122.2" stroke="#222" stroke-width="0.8"/>
<line x1="431.82" y1="120.2" x2="431.82" y2="122.2" stroke="#222" stroke-width="0.8"/>
<line x1="434.67" y1="120.2" x2="434.67" y2="122.2" stroke="#222" stroke-width="0.8"/>
<line x1="436.88" y1="120.2" x2="436.88" y2="122.2" stroke="#222" stroke-width="0.8"/>
<line x1="438.69" y1="120.2" x2="438.69" y2="122.2" stroke="#222" stroke-width="0.8"/>
<line x1="440.21" y1="120.2" x2="440.21" y2="122.2" stroke="#222" stroke-width="0.8"/>
<line x1="441.54" y1="120.2" x2="441.54" y2="122.2" stroke="#222" stroke-width="0.8"/>
<line x1="442.71" y1="120.2" x2="442.71" y2="122.2" stroke="#222" stroke-width="0.8"/>
<line x1="443.75" y1="120.2" x2="443.75" y2="123.7" stroke="#222" stroke-width="0.8"/>
<line x1="450.62" y1="120.2" x2="450.62" y2="122.2" stroke="#222" stroke-width="0.8"/>
<line x1="454.64" y1="120.2" x2="454.64" y2="122.2" stroke="#222" stroke-width="0.8"/>
<line x1="457.49" y1="120.2" x2="457.49" y2="122.2" stroke="#222" stroke-width="0.8"/>
<line x1="459.7" y1="120.2" x2="459.7" y2="122.2" stroke="#222" stroke-width="0.8"/>
<line x1="461.51" y1="120.2" x2="461.51" y2="122.2" stroke="#222" stroke-width="0.8"/>
<line x1="463.04" y1="120.2" x2="463.04" y2="122.2" stroke="#222" stroke-width="0.8"/>
<line x1="464.36" y1="120.2" x2="464.36" y2="122.2" stroke="#222" stroke-width="0.8"/>
<line x1="465.53" y1="120.2" x2="465.53" y2="122.2" stroke="#222" stroke-width="0.8"/>
<line x1="466.57" y1="120.2" x2="466.57" y2="123.7" stroke="#222" stroke-width="0.8"/>
<line x1="473.45" y1="120.2" x2="473.45" y2="122.2" stroke="#222" stroke-width="0.8"/>
<line x1="477.47" y1="120.2" x2="477.47" y2="122.2" stroke="#222" stroke-width="0.8"/>
<line x1="480.32" y1="120.2" x2="480.32" y2="122.2" stroke="#222" stroke-width="0.8"/>
<line x1="482.53" y1="120.2" x2="482.53" y2="122.2" stroke="#222" stroke-width="0.8"/>
<line x1="484.34" y1="120.2" x2="484.34" y2="122.2" stroke="#222" stroke-width="0.8"/>
<line x1="485.86" y1="120.2" x2="485.86" y2="122.2" stroke="#222" stroke-width="0.8"/>
<line x1="487.19" y1="120.2" x2="487.19" y2="122.2" stroke="#222" stroke-width="0.8"/>
<line x1="488.36" y1="120.2" x2="488.36" y2="122.2" stroke="#222" stroke-width="0.8"/>
<line x1="489.4" y1="120.2" x2="489.4" y2="123.7" stroke="#222" stroke-width="0.8"/>
<text x="411.9" y="34.7" font-size="9.5" stroke="#000" stroke-width="0.3" textLength="13.3" lengthAdjust="spacingAndGlyphs">BM</text>
<ellipse cx="421" cy="79.2" rx="19.3" ry="6.3" transform="rotate(-38 421 79.2)" fill="none" stroke="#000" stroke-width="1.45"/>
<circle cx="436.2" cy="86.9" r="9.3" fill="none" stroke="#000" stroke-width="1.45"/>
<text x="401.1" y="70.6" font-size="8.3" stroke="#000" stroke-width="0.3" font-weight="bold" textLength="16.3" lengthAdjust="spacingAndGlyphs">0.02</text>
<text x="449.2" y="87.5" font-size="8.3" stroke="#000" stroke-width="0.3" font-weight="bold" textLength="15" lengthAdjust="spacingAndGlyphs">0.21</text>
<text x="498.6" y="86.9" font-size="10" stroke="#000" stroke-width="0.3" textLength="15.1" lengthAdjust="spacingAndGlyphs">n=4</text>
<text x="3.8" y="170.9" font-size="13.8" stroke="#000" stroke-width="0.3" font-weight="bold">B</text>
<line x1="27.6" y1="295.5" x2="27.6" y2="175.3" stroke="#000" stroke-width="1.15"/>
<polygon points="27.6,169.3 24.1,176.3 31.1,176.3" fill="#000" stroke="none" stroke-width="1"/>
<text x="21.3" y="207.6" font-size="9.6" stroke="#000" stroke-width="0.3" text-anchor="middle" textLength="51.9" lengthAdjust="spacingAndGlyphs" transform="rotate(-90 21.3 207.6) translate(21.3 207.6) scale(1 1.05) translate(-21.3 -207.6)">CD62L FITC</text>
<line x1="27" y1="295.3" x2="492.1" y2="295.3" stroke="#000" stroke-width="1.4"/>
<polygon points="498.5,295.3 491.1,291.9 491.1,298.7" fill="#000" stroke="none" stroke-width="1"/>
<text x="437.4" y="308.2" font-size="9.5" stroke="#000" stroke-width="0.3" textLength="45.9" lengthAdjust="spacingAndGlyphs">CD44 APC</text>
<line x1="54.5" y1="179.3" x2="491.3" y2="179.3" stroke="#000" stroke-width="1.2"/>
<text x="204" y="176.9" font-size="9.5" stroke="#000" stroke-width="0.3" textLength="137.3" lengthAdjust="spacingAndGlyphs" transform="translate(204 176.9) scale(1 1.12) translate(-204 -176.9)">10 weeks post Adoptive Transfer</text>
<path d="M78 255h1.1v1.1h-1.1zM117.5 249.5h1.1v1.1h-1.1zM117.5 264h1.1v1.1h-1.1zM88.5 267.5h1.1v1.1h-1.1zM99 254h1.1v1.1h-1.1zM89 254h1.1v1.1h-1.1zM68.5 256.5h1.1v1.1h-1.1zM123.5 272.5h1.1v1.1h-1.1zM111 228h1.1v1.1h-1.1zM87.5 249.5h1.1v1.1h-1.1zM127 250h1.1v1.1h-1.1zM104 252.5h1.1v1.1h-1.1zM107.5 250h1.1v1.1h-1.1zM115 263.5h1.1v1.1h-1.1zM75 257.5h1.1v1.1h-1.1zM88 248h1.1v1.1h-1.1zM120.5 257h1.1v1.1h-1.1zM109.5 261h1.1v1.1h-1.1zM112 250h1.1v1.1h-1.1zM83 255h1.1v1.1h-1.1zM113.5 258h1.1v1.1h-1.1zM96 259h1.1v1.1h-1.1zM102.5 241h1.1v1.1h-1.1zM105 257.5h1.1v1.1h-1.1zM116 247.5h1.1v1.1h-1.1zM87 253h1.1v1.1h-1.1zM93 250.5h1.1v1.1h-1.1zM117 259h1.1v1.1h-1.1zM132.5 260.5h1.1v1.1h-1.1zM129.5 267h1.1v1.1h-1.1zM146 261h1.1v1.1h-1.1zM97.5 263.5h1.1v1.1h-1.1zM92.5 247.5h1.1v1.1h-1.1zM105 256.5h1.1v1.1h-1.1zM76 250.5h1.1v1.1h-1.1zM96 251.5h1.1v1.1h-1.1zM104.5 252h1.1v1.1h-1.1zM119.5 260.5h1.1v1.1h-1.1zM98 253h1.1v1.1h-1.1zM118.5 263h1.1v1.1h-1.1zM124 256h1.1v1.1h-1.1zM101 270h1.1v1.1h-1.1zM98.5 267h1.1v1.1h-1.1zM117 252h1.1v1.1h-1.1zM76 254h1.1v1.1h-1.1zM90 245h1.1v1.1h-1.1zM69.5 257.5h1.1v1.1h-1.1zM103.5 253.5h1.1v1.1h-1.1zM108 256.5h1.1v1.1h-1.1zM102.5 258h1.1v1.1h-1.1zM100.5 231h1.1v1.1h-1.1zM114 259h1.1v1.1h-1.1zM100 266.5h1.1v1.1h-1.1zM81.5 225h1.1v1.1h-1.1zM127.5 261.5h1.1v1.1h-1.1zM73.5 244.5h1.1v1.1h-1.1zM114.5 245h1.1v1.1h-1.1zM108.5 272.5h1.1v1.1h-1.1zM126 257.5h1.1v1.1h-1.1zM109 246.5h1.1v1.1h-1.1zM104.5 251h1.1v1.1h-1.1zM86 239h1.1v1.1h-1.1zM135.5 260h1.1v1.1h-1.1zM84.5 246.5h1.1v1.1h-1.1zM125.5 271.5h1.1v1.1h-1.1zM90.5 253h1.1v1.1h-1.1zM118 253h1.1v1.1h-1.1zM82.5 241.5h1.1v1.1h-1.1zM103 247h1.1v1.1h-1.1zM79 247h1.1v1.1h-1.1zM117 262h1.1v1.1h-1.1zM95 268.5h1.1v1.1h-1.1zM88 250h1.1v1.1h-1.1zM76.5 255.5h1.1v1.1h-1.1zM102 239h1.1v1.1h-1.1zM84.5 265.5h1.1v1.1h-1.1zM114 256.5h1.1v1.1h-1.1zM119 242.5h1.1v1.1h-1.1zM89 239.5h1.1v1.1h-1.1zM87.5 247.5h1.1v1.1h-1.1zM109.5 263h1.1v1.1h-1.1zM115 278.5h1.1v1.1h-1.1zM93 251.5h1.1v1.1h-1.1zM111.5 248h1.1v1.1h-1.1zM96 255.5h1.1v1.1h-1.1zM85.5 254.5h1.1v1.1h-1.1zM124.5 247.5h1.1v1.1h-1.1zM61 246.5h1.1v1.1h-1.1zM83 251.5h1.1v1.1h-1.1zM93 254h1.1v1.1h-1.1zM120 263.5h1.1v1.1h-1.1zM97 242h1.1v1.1h-1.1zM61 227h1.1v1.1h-1.1zM87.5 251.5h1.1v1.1h-1.1zM90.5 246h1.1v1.1h-1.1zM75.5 234h1.1v1.1h-1.1zM70 252.5h1.1v1.1h-1.1zM65 252h1.1v1.1h-1.1zM84.5 254.5h1.1v1.1h-1.1zM104 259.5h1.1v1.1h-1.1zM123 249.5h1.1v1.1h-1.1zM84 246h1.1v1.1h-1.1zM86 255.5h1.1v1.1h-1.1zM98.5 252h1.1v1.1h-1.1zM108.5 249.5h1.1v1.1h-1.1zM122.5 240.5h1.1v1.1h-1.1zM103.5 257h1.1v1.1h-1.1zM87.5 244h1.1v1.1h-1.1zM116.5 252.5h1.1v1.1h-1.1zM68 235h1.1v1.1h-1.1zM119 248h1.1v1.1h-1.1zM121 267.5h1.1v1.1h-1.1zM95.5 256h1.1v1.1h-1.1zM86 246h1.1v1.1h-1.1zM87 254.5h1.1v1.1h-1.1zM77.5 247h1.1v1.1h-1.1zM100 256.5h1.1v1.1h-1.1zM65 230.5h1.1v1.1h-1.1zM85 247.5h1.1v1.1h-1.1zM102 254h1.1v1.1h-1.1zM134.5 263.5h1.1v1.1h-1.1zM111 249.5h1.1v1.1h-1.1zM112.5 260h1.1v1.1h-1.1zM112 253h1.1v1.1h-1.1zM108.5 266.5h1.1v1.1h-1.1zM89 231.5h1.1v1.1h-1.1zM113 260.5h1.1v1.1h-1.1zM96.5 247.5h1.1v1.1h-1.1zM149 256.5h1.1v1.1h-1.1zM79 244h1.1v1.1h-1.1zM109.5 248.5h1.1v1.1h-1.1zM92.5 253h1.1v1.1h-1.1zM92 251.5h1.1v1.1h-1.1zM100.5 243h1.1v1.1h-1.1zM102.5 242.5h1.1v1.1h-1.1zM117.5 247h1.1v1.1h-1.1zM98 236h1.1v1.1h-1.1zM93.5 240h1.1v1.1h-1.1zM126 255.5h1.1v1.1h-1.1zM111.5 239h1.1v1.1h-1.1zM78 246.5h1.1v1.1h-1.1zM74 257h1.1v1.1h-1.1zM92.5 252h1.1v1.1h-1.1zM105 251.5h1.1v1.1h-1.1zM114 248.5h1.1v1.1h-1.1zM104.5 263h1.1v1.1h-1.1zM103 253.5h1.1v1.1h-1.1zM93.5 251h1.1v1.1h-1.1zM112 252h1.1v1.1h-1.1zM70 248h1.1v1.1h-1.1zM96.5 255h1.1v1.1h-1.1zM98 265h1.1v1.1h-1.1zM80 240h1.1v1.1h-1.1zM112.5 245h1.1v1.1h-1.1zM105.5 252.5h1.1v1.1h-1.1zM64.5 251h1.1v1.1h-1.1zM123 257.5h1.1v1.1h-1.1zM74 254h1.1v1.1h-1.1zM81.5 247.5h1.1v1.1h-1.1zM108 246.5h1.1v1.1h-1.1zM70 245.5h1.1v1.1h-1.1zM100 244.5h1.1v1.1h-1.1zM85 255.5h1.1v1.1h-1.1zM98.5 247.5h1.1v1.1h-1.1zM89 251h1.1v1.1h-1.1zM101.5 250.5h1.1v1.1h-1.1zM76 244.5h1.1v1.1h-1.1zM88.5 250.5h1.1v1.1h-1.1zM118 263h1.1v1.1h-1.1zM110.5 254.5h1.1v1.1h-1.1zM93.5 253.5h1.1v1.1h-1.1zM91.5 247.5h1.1v1.1h-1.1zM85 248.5h1.1v1.1h-1.1zM95.5 266.5h1.1v1.1h-1.1zM109.5 250h1.1v1.1h-1.1zM113.5 250h1.1v1.1h-1.1zM116 261h1.1v1.1h-1.1zM98.5 250.5h1.1v1.1h-1.1zM103.5 258.5h1.1v1.1h-1.1zM83.5 242.5h1.1v1.1h-1.1zM103.5 260.5h1.1v1.1h-1.1zM82.5 235.5h1.1v1.1h-1.1zM118 262h1.1v1.1h-1.1zM119.5 247h1.1v1.1h-1.1zM95.5 253h1.1v1.1h-1.1zM107 252h1.1v1.1h-1.1zM97 259.5h1.1v1.1h-1.1zM93 246h1.1v1.1h-1.1zM93 246h1.1v1.1h-1.1zM102 250.5h1.1v1.1h-1.1zM90 262h1.1v1.1h-1.1zM105 250h1.1v1.1h-1.1zM122 251h1.1v1.1h-1.1zM99.5 251h1.1v1.1h-1.1zM90 247h1.1v1.1h-1.1zM103 240.5h1.1v1.1h-1.1zM92.5 252.5h1.1v1.1h-1.1zM103.5 255h1.1v1.1h-1.1zM138.5 264h1.1v1.1h-1.1zM97 250h1.1v1.1h-1.1zM99 255h1.1v1.1h-1.1zM92.5 263h1.1v1.1h-1.1zM80 253.5h1.1v1.1h-1.1zM109.5 244h1.1v1.1h-1.1zM109.5 258h1.1v1.1h-1.1zM85.5 268h1.1v1.1h-1.1zM112 251h1.1v1.1h-1.1zM92.5 244h1.1v1.1h-1.1zM103.5 253h1.1v1.1h-1.1zM77 239h1.1v1.1h-1.1zM88 246h1.1v1.1h-1.1zM94 245h1.1v1.1h-1.1zM109 261h1.1v1.1h-1.1zM103.5 234.5h1.1v1.1h-1.1zM96 255.5h1.1v1.1h-1.1zM97.5 253.5h1.1v1.1h-1.1zM103 240h1.1v1.1h-1.1zM90 253.5h1.1v1.1h-1.1zM94.5 249.5h1.1v1.1h-1.1zM124 246h1.1v1.1h-1.1zM100.5 243h1.1v1.1h-1.1zM100 255.5h1.1v1.1h-1.1zM110 254.5h1.1v1.1h-1.1zM76 249.5h1.1v1.1h-1.1zM113 262h1.1v1.1h-1.1zM134.5 262.5h1.1v1.1h-1.1zM83 244.5h1.1v1.1h-1.1zM99.5 260h1.1v1.1h-1.1zM79 255.5h1.1v1.1h-1.1zM111.5 246.5h1.1v1.1h-1.1zM110.5 247.5h1.1v1.1h-1.1zM99.5 249h1.1v1.1h-1.1zM105 243h1.1v1.1h-1.1zM111.5 236h1.1v1.1h-1.1zM93.5 246h1.1v1.1h-1.1zM125 260.5h1.1v1.1h-1.1zM92.5 243h1.1v1.1h-1.1zM101 246.5h1.1v1.1h-1.1zM141 236h1.1v1.1h-1.1zM104 232h1.1v1.1h-1.1zM118 248.5h1.1v1.1h-1.1zM127 252h1.1v1.1h-1.1zM117.5 256.5h1.1v1.1h-1.1zM119 255.5h1.1v1.1h-1.1zM72 254.5h1.1v1.1h-1.1zM108.5 253h1.1v1.1h-1.1zM107 254.5h1.1v1.1h-1.1zM87 265.5h1.1v1.1h-1.1zM103.5 250.5h1.1v1.1h-1.1zM75.5 242.5h1.1v1.1h-1.1zM100 250h1.1v1.1h-1.1zM91.5 249.5h1.1v1.1h-1.1zM80.5 248.5h1.1v1.1h-1.1zM74.5 240h1.1v1.1h-1.1zM85.5 256.5h1.1v1.1h-1.1zM107.5 253.5h1.1v1.1h-1.1zM80.5 245h1.1v1.1h-1.1zM111 264h1.1v1.1h-1.1zM75 244h1.1v1.1h-1.1zM100.5 254.5h1.1v1.1h-1.1zM98.5 257h1.1v1.1h-1.1zM73 259.5h1.1v1.1h-1.1zM80 248.5h1.1v1.1h-1.1zM106.5 262.5h1.1v1.1h-1.1zM113.5 261h1.1v1.1h-1.1zM121 254h1.1v1.1h-1.1zM110 266h1.1v1.1h-1.1zM88.5 238.5h1.1v1.1h-1.1zM80.5 260h1.1v1.1h-1.1zM121 252.5h1.1v1.1h-1.1zM103 256h1.1v1.1h-1.1zM120 240h1.1v1.1h-1.1zM90.5 248h1.1v1.1h-1.1zM105 253.5h1.1v1.1h-1.1zM94 253h1.1v1.1h-1.1zM112.5 261.5h1.1v1.1h-1.1zM88 253h1.1v1.1h-1.1zM132 272.5h1.1v1.1h-1.1zM102.5 242h1.1v1.1h-1.1zM103 250h1.1v1.1h-1.1zM116 244h1.1v1.1h-1.1zM96 253.5h1.1v1.1h-1.1zM90.5 259h1.1v1.1h-1.1zM82 238.5h1.1v1.1h-1.1zM92.5 257.5h1.1v1.1h-1.1zM95.5 246h1.1v1.1h-1.1zM113 256h1.1v1.1h-1.1zM90.5 251h1.1v1.1h-1.1zM95 256h1.1v1.1h-1.1zM103.5 246h1.1v1.1h-1.1zM92 247h1.1v1.1h-1.1zM105.5 256h1.1v1.1h-1.1zM86 248h1.1v1.1h-1.1zM103.5 261.5h1.1v1.1h-1.1zM101 268h1.1v1.1h-1.1zM99 258h1.1v1.1h-1.1zM95.5 243h1.1v1.1h-1.1zM101 256h1.1v1.1h-1.1zM105 254h1.1v1.1h-1.1zM95 244h1.1v1.1h-1.1zM94 254.5h1.1v1.1h-1.1zM120.5 228.5h1.1v1.1h-1.1zM108.5 262.5h1.1v1.1h-1.1zM120.5 258.5h1.1v1.1h-1.1zM111.5 250h1.1v1.1h-1.1zM97.5 255.5h1.1v1.1h-1.1zM82 242h1.1v1.1h-1.1zM105 241.5h1.1v1.1h-1.1zM102.5 240h1.1v1.1h-1.1zM103 252.5h1.1v1.1h-1.1zM91.5 242.5h1.1v1.1h-1.1zM94.5 232.5h1.1v1.1h-1.1zM93 251.5h1.1v1.1h-1.1zM121 251.5h1.1v1.1h-1.1zM95 262.5h1.1v1.1h-1.1zM130 253h1.1v1.1h-1.1zM116 264.5h1.1v1.1h-1.1zM110 245.5h1.1v1.1h-1.1zM83 253.5h1.1v1.1h-1.1zM139.5 257.5h1.1v1.1h-1.1zM123.5 271.5h1.1v1.1h-1.1zM79.5 243h1.1v1.1h-1.1zM124 264h1.1v1.1h-1.1zM109 253.5h1.1v1.1h-1.1zM111.5 248.5h1.1v1.1h-1.1zM144 250h1.1v1.1h-1.1zM69 247.5h1.1v1.1h-1.1zM125 252h1.1v1.1h-1.1zM100 243.5h1.1v1.1h-1.1zM100 243.5h1.1v1.1h-1.1zM84.5 237h1.1v1.1h-1.1zM87.5 265h1.1v1.1h-1.1zM98.5 253h1.1v1.1h-1.1zM138.5 253.5h1.1v1.1h-1.1zM82 253h1.1v1.1h-1.1zM78.5 251h1.1v1.1h-1.1zM121 246.5h1.1v1.1h-1.1zM88.5 264h1.1v1.1h-1.1zM82.5 243h1.1v1.1h-1.1zM104 250h1.1v1.1h-1.1zM83 262h1.1v1.1h-1.1zM89.5 252.5h1.1v1.1h-1.1zM93 248.5h1.1v1.1h-1.1zM75 255h1.1v1.1h-1.1zM90.5 261h1.1v1.1h-1.1zM80.5 244.5h1.1v1.1h-1.1zM107.5 254h1.1v1.1h-1.1zM88.5 248.5h1.1v1.1h-1.1zM77.5 248.5h1.1v1.1h-1.1zM121.5 263h1.1v1.1h-1.1zM115 251h1.1v1.1h-1.1zM108.5 250h1.1v1.1h-1.1zM98.5 250.5h1.1v1.1h-1.1zM106 260h1.1v1.1h-1.1zM82.5 254.5h1.1v1.1h-1.1zM111 235h1.1v1.1h-1.1zM69.5 247h1.1v1.1h-1.1zM88.5 249.5h1.1v1.1h-1.1zM86.5 262h1.1v1.1h-1.1zM69 235h1.1v1.1h-1.1zM85 238h1.1v1.1h-1.1zM90 250h1.1v1.1h-1.1zM76.5 250.5h1.1v1.1h-1.1zM120.5 264.5h1.1v1.1h-1.1zM132.5 267h1.1v1.1h-1.1zM96.5 266h1.1v1.1h-1.1zM109 269h1.1v1.1h-1.1zM99.5 234.5h1.1v1.1h-1.1zM79.5 250h1.1v1.1h-1.1zM109.5 252h1.1v1.1h-1.1zM118.5 245.5h1.1v1.1h-1.1zM86.5 257.5h1.1v1.1h-1.1zM100.5 253h1.1v1.1h-1.1zM122.5 265h1.1v1.1h-1.1zM86 251h1.1v1.1h-1.1zM71 246.5h1.1v1.1h-1.1zM109 239h1.1v1.1h-1.1zM123.5 272.5h1.1v1.1h-1.1zM107 261h1.1v1.1h-1.1zM126 255h1.1v1.1h-1.1zM117 258h1.1v1.1h-1.1zM75 240h1.1v1.1h-1.1zM89 259h1.1v1.1h-1.1zM100.5 260h1.1v1.1h-1.1zM94 240.5h1.1v1.1h-1.1zM131.5 280h1.1v1.1h-1.1zM107 251.5h1.1v1.1h-1.1zM122 246.5h1.1v1.1h-1.1zM98.5 240h1.1v1.1h-1.1zM108 255.5h1.1v1.1h-1.1zM94 245.5h1.1v1.1h-1.1zM75.5 241h1.1v1.1h-1.1zM121.5 253h1.1v1.1h-1.1zM123 249h1.1v1.1h-1.1zM99.5 248h1.1v1.1h-1.1zM94.5 257.5h1.1v1.1h-1.1zM64 252h1.1v1.1h-1.1zM112 254h1.1v1.1h-1.1zM101.5 250.5h1.1v1.1h-1.1zM112 254.5h1.1v1.1h-1.1zM85.5 250.5h1.1v1.1h-1.1zM116 258h1.1v1.1h-1.1zM100.5 254h1.1v1.1h-1.1zM92 247h1.1v1.1h-1.1zM68 245h1.1v1.1h-1.1zM117.5 252h1.1v1.1h-1.1zM83.5 256.5h1.1v1.1h-1.1zM102.5 253.5h1.1v1.1h-1.1zM107 259h1.1v1.1h-1.1zM100.5 245h1.1v1.1h-1.1zM129.5 257.5h1.1v1.1h-1.1zM86.5 251h1.1v1.1h-1.1zM122.5 244h1.1v1.1h-1.1zM122.5 255h1.1v1.1h-1.1zM133 263.5h1.1v1.1h-1.1zM96.5 262h1.1v1.1h-1.1zM122 253h1.1v1.1h-1.1zM104.5 248.5h1.1v1.1h-1.1zM117.5 243.5h1.1v1.1h-1.1zM100 234.5h1.1v1.1h-1.1zM113 236h1.1v1.1h-1.1zM82 251h1.1v1.1h-1.1zM94.5 247.5h1.1v1.1h-1.1zM84.5 245.5h1.1v1.1h-1.1zM70 249.5h1.1v1.1h-1.1zM112.5 260.5h1.1v1.1h-1.1zM97.5 261.5h1.1v1.1h-1.1zM106.5 261h1.1v1.1h-1.1zM106.5 253.5h1.1v1.1h-1.1zM91 229h1.1v1.1h-1.1zM111 253h1.1v1.1h-1.1zM136.5 242h1.1v1.1h-1.1zM115.5 247h1.1v1.1h-1.1zM101.5 245h1.1v1.1h-1.1zM106 253h1.1v1.1h-1.1zM114.5 256h1.1v1.1h-1.1zM106.5 263.5h1.1v1.1h-1.1zM109 252.5h1.1v1.1h-1.1zM121 255h1.1v1.1h-1.1zM107.5 250.5h1.1v1.1h-1.1zM93 226h1.1v1.1h-1.1zM113.5 245h1.1v1.1h-1.1zM110 268.5h1.1v1.1h-1.1zM76.5 255h1.1v1.1h-1.1zM98 255.5h1.1v1.1h-1.1zM80 249h1.1v1.1h-1.1zM100.5 264h1.1v1.1h-1.1zM136 261h1.1v1.1h-1.1zM91 268.5h1.1v1.1h-1.1zM98.5 251.5h1.1v1.1h-1.1zM101 256h1.1v1.1h-1.1zM113 249.5h1.1v1.1h-1.1zM95.5 267h1.1v1.1h-1.1zM126.5 260.5h1.1v1.1h-1.1zM105 251h1.1v1.1h-1.1zM118 251h1.1v1.1h-1.1zM103 249h1.1v1.1h-1.1zM89.5 250.5h1.1v1.1h-1.1zM101 247.5h1.1v1.1h-1.1zM99 252.5h1.1v1.1h-1.1zM93.5 245.5h1.1v1.1h-1.1zM97 257.5h1.1v1.1h-1.1zM118.5 257h1.1v1.1h-1.1zM95.5 251h1.1v1.1h-1.1zM131 265h1.1v1.1h-1.1zM84.5 249h1.1v1.1h-1.1zM92 247.5h1.1v1.1h-1.1zM72 247.5h1.1v1.1h-1.1zM78 243.5h1.1v1.1h-1.1zM124.5 264.5h1.1v1.1h-1.1zM87 241.5h1.1v1.1h-1.1zM87.5 234.5h1.1v1.1h-1.1zM84 247h1.1v1.1h-1.1zM81.5 255h1.1v1.1h-1.1zM100 248h1.1v1.1h-1.1zM129 263h1.1v1.1h-1.1zM99 267h1.1v1.1h-1.1zM123.5 250.5h1.1v1.1h-1.1zM106.5 249.5h1.1v1.1h-1.1zM73.5 263h1.1v1.1h-1.1zM127.5 246.5h1.1v1.1h-1.1zM111 240.5h1.1v1.1h-1.1zM118.5 255h1.1v1.1h-1.1zM93.5 261.5h1.1v1.1h-1.1zM101 250h1.1v1.1h-1.1zM116 252.5h1.1v1.1h-1.1zM115 255h1.1v1.1h-1.1zM113.5 259.5h1.1v1.1h-1.1zM115 246.5h1.1v1.1h-1.1zM132.5 256.5h1.1v1.1h-1.1zM131 252.5h1.1v1.1h-1.1zM96 249.5h1.1v1.1h-1.1zM120.5 252.5h1.1v1.1h-1.1zM109.5 241h1.1v1.1h-1.1zM92 252.5h1.1v1.1h-1.1zM101 237h1.1v1.1h-1.1zM110 246h1.1v1.1h-1.1zM133.5 256.5h1.1v1.1h-1.1zM138 264.5h1.1v1.1h-1.1zM109 249.5h1.1v1.1h-1.1zM97.5 255.5h1.1v1.1h-1.1zM65.5 254.5h1.1v1.1h-1.1zM80.5 246.5h1.1v1.1h-1.1zM112.5 257h1.1v1.1h-1.1zM106.5 250h1.1v1.1h-1.1zM101 262.5h1.1v1.1h-1.1zM92.5 255h1.1v1.1h-1.1zM113 252.5h1.1v1.1h-1.1zM104 254.5h1.1v1.1h-1.1zM88.5 270.5h1.1v1.1h-1.1zM90.5 264.5h1.1v1.1h-1.1zM121.5 239h1.1v1.1h-1.1zM103 261.5h1.1v1.1h-1.1zM115.5 247.5h1.1v1.1h-1.1zM106.5 243.5h1.1v1.1h-1.1zM83 247h1.1v1.1h-1.1zM101 266h1.1v1.1h-1.1zM105 262h1.1v1.1h-1.1zM81.5 239h1.1v1.1h-1.1zM89.5 265h1.1v1.1h-1.1zM79.5 235.5h1.1v1.1h-1.1zM97.5 261.5h1.1v1.1h-1.1zM72.5 245h1.1v1.1h-1.1zM75 260h1.1v1.1h-1.1zM112 256.5h1.1v1.1h-1.1zM100 250h1.1v1.1h-1.1zM103.5 247.5h1.1v1.1h-1.1zM86.5 240.5h1.1v1.1h-1.1zM101.5 245.5h1.1v1.1h-1.1zM118.5 237.5h1.1v1.1h-1.1zM109 258h1.1v1.1h-1.1zM121.5 254h1.1v1.1h-1.1zM75.5 240h1.1v1.1h-1.1zM120 253h1.1v1.1h-1.1zM94 246h1.1v1.1h-1.1zM99.5 250h1.1v1.1h-1.1zM74 242.5h1.1v1.1h-1.1zM115.5 267h1.1v1.1h-1.1zM99 247.5h1.1v1.1h-1.1zM124 255h1.1v1.1h-1.1zM80 247.5h1.1v1.1h-1.1zM110 267h1.1v1.1h-1.1zM91 255h1.1v1.1h-1.1zM93 260.5h1.1v1.1h-1.1zM104 255h1.1v1.1h-1.1zM83.5 246.5h1.1v1.1h-1.1zM99.5 222h1.1v1.1h-1.1zM115 254.5h1.1v1.1h-1.1zM97 248.5h1.1v1.1h-1.1zM100 254h1.1v1.1h-1.1zM77.5 249h1.1v1.1h-1.1z" fill="#111" fill-opacity="0.72"/>
<path d="M121.5 240.5h1.1v1.1h-1.1zM115.5 235.5h1.1v1.1h-1.1zM114 239.5h1.1v1.1h-1.1zM122.5 250h1.1v1.1h-1.1zM122 235h1.1v1.1h-1.1zM117 241.5h1.1v1.1h-1.1zM120.5 234.5h1.1v1.1h-1.1zM114 227.5h1.1v1.1h-1.1zM120 234h1.1v1.1h-1.1zM132 232.5h1.1v1.1h-1.1zM113 241.5h1.1v1.1h-1.1zM117.5 236.5h1.1v1.1h-1.1zM121.5 240.5h1.1v1.1h-1.1zM113.5 245h1.1v1.1h-1.1zM131.5 236h1.1v1.1h-1.1zM115.5 246.5h1.1v1.1h-1.1zM124.5 232h1.1v1.1h-1.1zM115.5 245.5h1.1v1.1h-1.1zM115.5 239.5h1.1v1.1h-1.1zM125.5 236h1.1v1.1h-1.1zM120.5 246.5h1.1v1.1h-1.1zM121 249.5h1.1v1.1h-1.1zM111 243h1.1v1.1h-1.1zM119 249h1.1v1.1h-1.1zM113.5 245h1.1v1.1h-1.1zM127.5 232h1.1v1.1h-1.1zM130 237.5h1.1v1.1h-1.1zM115 240.5h1.1v1.1h-1.1zM117 241.5h1.1v1.1h-1.1zM118.5 241.5h1.1v1.1h-1.1zM124.5 242h1.1v1.1h-1.1zM121 248.5h1.1v1.1h-1.1zM113.5 244.5h1.1v1.1h-1.1zM123 242.5h1.1v1.1h-1.1zM118.5 255.5h1.1v1.1h-1.1zM130.5 231h1.1v1.1h-1.1zM123.5 240h1.1v1.1h-1.1zM118.5 242h1.1v1.1h-1.1zM112.5 251.5h1.1v1.1h-1.1zM122 241h1.1v1.1h-1.1zM121 248h1.1v1.1h-1.1zM123 248h1.1v1.1h-1.1zM120.5 241h1.1v1.1h-1.1zM118.5 224h1.1v1.1h-1.1zM127 240h1.1v1.1h-1.1zM120.5 258h1.1v1.1h-1.1zM114.5 239.5h1.1v1.1h-1.1zM136.5 241h1.1v1.1h-1.1zM123.5 239.5h1.1v1.1h-1.1zM121 237.5h1.1v1.1h-1.1zM117.5 246h1.1v1.1h-1.1zM115.5 242h1.1v1.1h-1.1zM115.5 242.5h1.1v1.1h-1.1zM125.5 235h1.1v1.1h-1.1zM125 235h1.1v1.1h-1.1zM112.5 247h1.1v1.1h-1.1zM111 240h1.1v1.1h-1.1zM126.5 237.5h1.1v1.1h-1.1zM121.5 249.5h1.1v1.1h-1.1zM113.5 241h1.1v1.1h-1.1zM126 235.5h1.1v1.1h-1.1zM120 247h1.1v1.1h-1.1zM126.5 223.5h1.1v1.1h-1.1zM126 235.5h1.1v1.1h-1.1zM115.5 233h1.1v1.1h-1.1zM112.5 232h1.1v1.1h-1.1zM140 222.5h1.1v1.1h-1.1zM127 234.5h1.1v1.1h-1.1zM123 232.5h1.1v1.1h-1.1zM123.5 241.5h1.1v1.1h-1.1zM123.5 228.5h1.1v1.1h-1.1zM114 248h1.1v1.1h-1.1zM114 240.5h1.1v1.1h-1.1zM131 226h1.1v1.1h-1.1zM126 242.5h1.1v1.1h-1.1zM123 259h1.1v1.1h-1.1zM120.5 238.5h1.1v1.1h-1.1zM123 227.5h1.1v1.1h-1.1zM125.5 240h1.1v1.1h-1.1zM120 238h1.1v1.1h-1.1zM119.5 249h1.1v1.1h-1.1zM122 238.5h1.1v1.1h-1.1zM112.5 256h1.1v1.1h-1.1zM117.5 226.5h1.1v1.1h-1.1zM122.5 242.5h1.1v1.1h-1.1zM120.5 253h1.1v1.1h-1.1zM133 239h1.1v1.1h-1.1zM124.5 240h1.1v1.1h-1.1zM124.5 244h1.1v1.1h-1.1zM128 236.5h1.1v1.1h-1.1zM124 236.5h1.1v1.1h-1.1zM122 236h1.1v1.1h-1.1zM111.5 246h1.1v1.1h-1.1zM117.5 249.5h1.1v1.1h-1.1zM125.5 223h1.1v1.1h-1.1zM119 237.5h1.1v1.1h-1.1zM119.5 250h1.1v1.1h-1.1zM119.5 255h1.1v1.1h-1.1zM123.5 243h1.1v1.1h-1.1zM114.5 243.5h1.1v1.1h-1.1zM122.5 233h1.1v1.1h-1.1zM122.5 243.5h1.1v1.1h-1.1zM128 237h1.1v1.1h-1.1zM124.5 246h1.1v1.1h-1.1zM123.5 234h1.1v1.1h-1.1zM122.5 227h1.1v1.1h-1.1zM133 233h1.1v1.1h-1.1zM125 240h1.1v1.1h-1.1zM120.5 235h1.1v1.1h-1.1zM116.5 247h1.1v1.1h-1.1zM123.5 241.5h1.1v1.1h-1.1zM123 223.5h1.1v1.1h-1.1zM133.5 237h1.1v1.1h-1.1zM109.5 245h1.1v1.1h-1.1zM111.5 242.5h1.1v1.1h-1.1zM124 244.5h1.1v1.1h-1.1zM131 232h1.1v1.1h-1.1zM116.5 236h1.1v1.1h-1.1zM121.5 239.5h1.1v1.1h-1.1zM126 235.5h1.1v1.1h-1.1zM110 238h1.1v1.1h-1.1zM116.5 246h1.1v1.1h-1.1zM129.5 246h1.1v1.1h-1.1zM127.5 235h1.1v1.1h-1.1zM123.5 245h1.1v1.1h-1.1zM118 248h1.1v1.1h-1.1zM113.5 242h1.1v1.1h-1.1zM116 253.5h1.1v1.1h-1.1zM113.5 235h1.1v1.1h-1.1zM132 242.5h1.1v1.1h-1.1zM111.5 253h1.1v1.1h-1.1zM131 247.5h1.1v1.1h-1.1zM120.5 234h1.1v1.1h-1.1zM123 233h1.1v1.1h-1.1zM117 239.5h1.1v1.1h-1.1zM119 244h1.1v1.1h-1.1zM126.5 231h1.1v1.1h-1.1zM123 244h1.1v1.1h-1.1zM119.5 236.5h1.1v1.1h-1.1zM122 241.5h1.1v1.1h-1.1zM117 245.5h1.1v1.1h-1.1zM127 240.5h1.1v1.1h-1.1zM126 231.5h1.1v1.1h-1.1zM118 243.5h1.1v1.1h-1.1zM124 243.5h1.1v1.1h-1.1zM124 234.5h1.1v1.1h-1.1zM126.5 232.5h1.1v1.1h-1.1zM121.5 240.5h1.1v1.1h-1.1zM115.5 240.5h1.1v1.1h-1.1zM117.5 244.5h1.1v1.1h-1.1zM117 242.5h1.1v1.1h-1.1zM127 245.5h1.1v1.1h-1.1zM127 237h1.1v1.1h-1.1zM128 225h1.1v1.1h-1.1zM125.5 231h1.1v1.1h-1.1zM130.5 224.5h1.1v1.1h-1.1zM117 238.5h1.1v1.1h-1.1zM130 228.5h1.1v1.1h-1.1zM108 258.5h1.1v1.1h-1.1zM123.5 243.5h1.1v1.1h-1.1zM113.5 226.5h1.1v1.1h-1.1zM122 243h1.1v1.1h-1.1zM118.5 248.5h1.1v1.1h-1.1zM117.5 247h1.1v1.1h-1.1zM102.5 255h1.1v1.1h-1.1zM122.5 234.5h1.1v1.1h-1.1zM124.5 248.5h1.1v1.1h-1.1zM128 238h1.1v1.1h-1.1zM119 246.5h1.1v1.1h-1.1zM117 235.5h1.1v1.1h-1.1zM121 237.5h1.1v1.1h-1.1zM123.5 229h1.1v1.1h-1.1zM121.5 243h1.1v1.1h-1.1zM126 242.5h1.1v1.1h-1.1zM124.5 227.5h1.1v1.1h-1.1zM122.5 238h1.1v1.1h-1.1zM119.5 262.5h1.1v1.1h-1.1zM131.5 237h1.1v1.1h-1.1zM116 235h1.1v1.1h-1.1zM111 249h1.1v1.1h-1.1zM123.5 237.5h1.1v1.1h-1.1zM115.5 249.5h1.1v1.1h-1.1zM115 241.5h1.1v1.1h-1.1zM116.5 235.5h1.1v1.1h-1.1zM117 241h1.1v1.1h-1.1zM116.5 249.5h1.1v1.1h-1.1zM126.5 237h1.1v1.1h-1.1zM119 230.5h1.1v1.1h-1.1zM120 237.5h1.1v1.1h-1.1zM113 246.5h1.1v1.1h-1.1zM126 240.5h1.1v1.1h-1.1zM120 237h1.1v1.1h-1.1zM121 240h1.1v1.1h-1.1zM116 233h1.1v1.1h-1.1zM113 236h1.1v1.1h-1.1zM128.5 233.5h1.1v1.1h-1.1zM124.5 236h1.1v1.1h-1.1zM109.5 253.5h1.1v1.1h-1.1zM122.5 246h1.1v1.1h-1.1zM117.5 242h1.1v1.1h-1.1zM118 243h1.1v1.1h-1.1zM117.5 237.5h1.1v1.1h-1.1zM125.5 228.5h1.1v1.1h-1.1zM124.5 250.5h1.1v1.1h-1.1zM124 227h1.1v1.1h-1.1zM121.5 232h1.1v1.1h-1.1zM125 227h1.1v1.1h-1.1zM117 238.5h1.1v1.1h-1.1zM131.5 226h1.1v1.1h-1.1zM125.5 232.5h1.1v1.1h-1.1zM118 235h1.1v1.1h-1.1zM115 243.5h1.1v1.1h-1.1zM125.5 239.5h1.1v1.1h-1.1zM110.5 252h1.1v1.1h-1.1zM127 247.5h1.1v1.1h-1.1zM116 247.5h1.1v1.1h-1.1zM129.5 239.5h1.1v1.1h-1.1zM129.5 243.5h1.1v1.1h-1.1zM128 239h1.1v1.1h-1.1zM123.5 236.5h1.1v1.1h-1.1zM116.5 248h1.1v1.1h-1.1zM118.5 235.5h1.1v1.1h-1.1zM125.5 238h1.1v1.1h-1.1zM136 234h1.1v1.1h-1.1zM134.5 241h1.1v1.1h-1.1zM118 255h1.1v1.1h-1.1zM129.5 230.5h1.1v1.1h-1.1zM119.5 239.5h1.1v1.1h-1.1zM119 249h1.1v1.1h-1.1zM119.5 254h1.1v1.1h-1.1zM112.5 245.5h1.1v1.1h-1.1zM113 237h1.1v1.1h-1.1zM124.5 223.5h1.1v1.1h-1.1zM125 242h1.1v1.1h-1.1zM132.5 230.5h1.1v1.1h-1.1zM116 236h1.1v1.1h-1.1zM118 239h1.1v1.1h-1.1zM120 236h1.1v1.1h-1.1zM110.5 247h1.1v1.1h-1.1zM125 230h1.1v1.1h-1.1zM122 245.5h1.1v1.1h-1.1zM121 242.5h1.1v1.1h-1.1zM120 238h1.1v1.1h-1.1zM118.5 222.5h1.1v1.1h-1.1zM114.5 239h1.1v1.1h-1.1zM127 242h1.1v1.1h-1.1zM115 248h1.1v1.1h-1.1zM116.5 244h1.1v1.1h-1.1zM129 231h1.1v1.1h-1.1zM121.5 242.5h1.1v1.1h-1.1zM120.5 229h1.1v1.1h-1.1zM109.5 247.5h1.1v1.1h-1.1zM127 250.5h1.1v1.1h-1.1zM134 233.5h1.1v1.1h-1.1zM118 259h1.1v1.1h-1.1zM132 236.5h1.1v1.1h-1.1zM126 242h1.1v1.1h-1.1zM128.5 237.5h1.1v1.1h-1.1zM123.5 235.5h1.1v1.1h-1.1zM123.5 240.5h1.1v1.1h-1.1zM122 249h1.1v1.1h-1.1zM123 241h1.1v1.1h-1.1zM119.5 239.5h1.1v1.1h-1.1zM123.5 243h1.1v1.1h-1.1zM122.5 240.5h1.1v1.1h-1.1zM123.5 234.5h1.1v1.1h-1.1zM110.5 240h1.1v1.1h-1.1zM128 234h1.1v1.1h-1.1zM134.5 235.5h1.1v1.1h-1.1zM124 244.5h1.1v1.1h-1.1zM117.5 249.5h1.1v1.1h-1.1zM125 242.5h1.1v1.1h-1.1zM122 228h1.1v1.1h-1.1zM114.5 253h1.1v1.1h-1.1zM125 242h1.1v1.1h-1.1zM119.5 246h1.1v1.1h-1.1zM132 238.5h1.1v1.1h-1.1zM123 244h1.1v1.1h-1.1zM122.5 230h1.1v1.1h-1.1zM125 246h1.1v1.1h-1.1zM119.5 240.5h1.1v1.1h-1.1zM125 243h1.1v1.1h-1.1zM129 242h1.1v1.1h-1.1zM118 237h1.1v1.1h-1.1zM118.5 235h1.1v1.1h-1.1zM118.5 256.5h1.1v1.1h-1.1zM123 243h1.1v1.1h-1.1zM121.5 230h1.1v1.1h-1.1zM122 242.5h1.1v1.1h-1.1zM120.5 235h1.1v1.1h-1.1zM123.5 251.5h1.1v1.1h-1.1zM120 242h1.1v1.1h-1.1zM125 246h1.1v1.1h-1.1zM129 228.5h1.1v1.1h-1.1zM122.5 221h1.1v1.1h-1.1zM111.5 234.5h1.1v1.1h-1.1zM126.5 234h1.1v1.1h-1.1zM121 244.5h1.1v1.1h-1.1zM127.5 228.5h1.1v1.1h-1.1zM121 254.5h1.1v1.1h-1.1zM110 253.5h1.1v1.1h-1.1zM124.5 234h1.1v1.1h-1.1zM127.5 224.5h1.1v1.1h-1.1zM126.5 226.5h1.1v1.1h-1.1zM124.5 245.5h1.1v1.1h-1.1zM112.5 241h1.1v1.1h-1.1zM113 237h1.1v1.1h-1.1zM123 242h1.1v1.1h-1.1zM116.5 236.5h1.1v1.1h-1.1zM120 240h1.1v1.1h-1.1zM120 257h1.1v1.1h-1.1zM130.5 239h1.1v1.1h-1.1zM117.5 238.5h1.1v1.1h-1.1zM132 225h1.1v1.1h-1.1zM110.5 252.5h1.1v1.1h-1.1zM119 231h1.1v1.1h-1.1zM115.5 242h1.1v1.1h-1.1zM122 237.5h1.1v1.1h-1.1zM111.5 241h1.1v1.1h-1.1zM124 235h1.1v1.1h-1.1zM117.5 246h1.1v1.1h-1.1zM121.5 224h1.1v1.1h-1.1zM120.5 230.5h1.1v1.1h-1.1zM110.5 227.5h1.1v1.1h-1.1zM127.5 240h1.1v1.1h-1.1zM138.5 220h1.1v1.1h-1.1zM114.5 250.5h1.1v1.1h-1.1zM130 240h1.1v1.1h-1.1zM115.5 241h1.1v1.1h-1.1zM117.5 234h1.1v1.1h-1.1zM113.5 236.5h1.1v1.1h-1.1zM113.5 252.5h1.1v1.1h-1.1zM125.5 235.5h1.1v1.1h-1.1zM126.5 229.5h1.1v1.1h-1.1zM122 238.5h1.1v1.1h-1.1zM118.5 248.5h1.1v1.1h-1.1zM111 237.5h1.1v1.1h-1.1zM129.5 232.5h1.1v1.1h-1.1zM132.5 239h1.1v1.1h-1.1zM128 252.5h1.1v1.1h-1.1zM124 244.5h1.1v1.1h-1.1zM130 234.5h1.1v1.1h-1.1zM126.5 222.5h1.1v1.1h-1.1zM126.5 236h1.1v1.1h-1.1zM121.5 246.5h1.1v1.1h-1.1zM112 242h1.1v1.1h-1.1zM121 242h1.1v1.1h-1.1zM123 241h1.1v1.1h-1.1zM116.5 248.5h1.1v1.1h-1.1zM122 228h1.1v1.1h-1.1zM113 246h1.1v1.1h-1.1zM111 254h1.1v1.1h-1.1zM111 226.5h1.1v1.1h-1.1zM118 241h1.1v1.1h-1.1zM127.5 242h1.1v1.1h-1.1zM113 244h1.1v1.1h-1.1zM139.5 224h1.1v1.1h-1.1zM122 244h1.1v1.1h-1.1zM119.5 234h1.1v1.1h-1.1zM122 241h1.1v1.1h-1.1z" fill="#111" fill-opacity="0.96"/>
<path d="M114 256h1.1v1.1h-1.1zM118.5 259.5h1.1v1.1h-1.1zM117 260h1.1v1.1h-1.1zM118 269h1.1v1.1h-1.1zM118 268.5h1.1v1.1h-1.1zM103.5 267h1.1v1.1h-1.1zM118.5 259.5h1.1v1.1h-1.1zM114.5 244.5h1.1v1.1h-1.1zM116.5 261h1.1v1.1h-1.1zM95.5 267.5h1.1v1.1h-1.1zM110 266h1.1v1.1h-1.1zM114 267.5h1.1v1.1h-1.1zM116.5 262h1.1v1.1h-1.1zM120.5 270h1.1v1.1h-1.1zM95.5 264h1.1v1.1h-1.1zM110.5 256h1.1v1.1h-1.1zM127.5 270.5h1.1v1.1h-1.1zM106.5 256h1.1v1.1h-1.1zM123.5 259.5h1.1v1.1h-1.1zM113 250h1.1v1.1h-1.1zM114.5 272h1.1v1.1h-1.1zM112 263h1.1v1.1h-1.1zM131.5 270h1.1v1.1h-1.1zM129 268.5h1.1v1.1h-1.1zM127 252.5h1.1v1.1h-1.1zM108.5 252.5h1.1v1.1h-1.1zM136 265h1.1v1.1h-1.1zM115 258.5h1.1v1.1h-1.1zM107 244.5h1.1v1.1h-1.1zM136 263.5h1.1v1.1h-1.1zM116.5 254h1.1v1.1h-1.1zM115.5 266.5h1.1v1.1h-1.1zM115 268.5h1.1v1.1h-1.1zM108.5 266h1.1v1.1h-1.1zM124 268h1.1v1.1h-1.1zM119.5 263h1.1v1.1h-1.1zM107 268h1.1v1.1h-1.1zM112.5 257.5h1.1v1.1h-1.1zM123 252.5h1.1v1.1h-1.1zM111 269.5h1.1v1.1h-1.1zM124.5 261.5h1.1v1.1h-1.1zM116.5 267.5h1.1v1.1h-1.1zM115.5 258.5h1.1v1.1h-1.1zM120 265h1.1v1.1h-1.1zM117 271.5h1.1v1.1h-1.1zM118.5 260.5h1.1v1.1h-1.1zM117.5 277.5h1.1v1.1h-1.1zM109.5 262h1.1v1.1h-1.1zM108.5 266.5h1.1v1.1h-1.1zM104.5 267h1.1v1.1h-1.1zM123 258.5h1.1v1.1h-1.1zM108.5 253.5h1.1v1.1h-1.1zM116.5 256h1.1v1.1h-1.1zM110.5 261h1.1v1.1h-1.1zM109.5 270h1.1v1.1h-1.1zM130.5 249h1.1v1.1h-1.1zM108.5 265.5h1.1v1.1h-1.1zM106.5 260h1.1v1.1h-1.1zM118 273.5h1.1v1.1h-1.1zM126.5 262h1.1v1.1h-1.1zM117 261.5h1.1v1.1h-1.1zM114.5 255.5h1.1v1.1h-1.1zM100 261.5h1.1v1.1h-1.1zM124.5 269.5h1.1v1.1h-1.1zM99 262.5h1.1v1.1h-1.1zM110.5 266h1.1v1.1h-1.1zM106 270.5h1.1v1.1h-1.1zM114 268h1.1v1.1h-1.1zM124 250.5h1.1v1.1h-1.1zM114 274.5h1.1v1.1h-1.1zM116 271.5h1.1v1.1h-1.1zM119.5 260.5h1.1v1.1h-1.1zM118.5 271.5h1.1v1.1h-1.1zM127.5 274h1.1v1.1h-1.1zM106 270h1.1v1.1h-1.1zM103.5 263h1.1v1.1h-1.1zM114 268.5h1.1v1.1h-1.1zM119 272.5h1.1v1.1h-1.1zM110.5 270h1.1v1.1h-1.1zM119.5 264h1.1v1.1h-1.1zM105 268h1.1v1.1h-1.1zM119 269.5h1.1v1.1h-1.1zM115.5 262h1.1v1.1h-1.1zM119.5 267h1.1v1.1h-1.1zM122 277h1.1v1.1h-1.1zM110.5 278h1.1v1.1h-1.1zM89.5 270.5h1.1v1.1h-1.1zM108.5 278h1.1v1.1h-1.1zM108 271.5h1.1v1.1h-1.1zM107 256h1.1v1.1h-1.1zM123 270h1.1v1.1h-1.1zM109.5 281h1.1v1.1h-1.1zM113 275h1.1v1.1h-1.1zM107 257.5h1.1v1.1h-1.1zM117 257h1.1v1.1h-1.1zM120 249h1.1v1.1h-1.1zM117.5 260h1.1v1.1h-1.1zM107.5 265.5h1.1v1.1h-1.1zM114 261h1.1v1.1h-1.1zM123 266h1.1v1.1h-1.1zM119.5 273.5h1.1v1.1h-1.1zM115.5 270h1.1v1.1h-1.1zM112 268h1.1v1.1h-1.1zM120.5 260h1.1v1.1h-1.1zM102.5 255h1.1v1.1h-1.1zM107.5 268h1.1v1.1h-1.1zM115 262h1.1v1.1h-1.1zM120.5 269h1.1v1.1h-1.1zM128.5 260h1.1v1.1h-1.1zM121 269h1.1v1.1h-1.1zM107.5 265h1.1v1.1h-1.1zM108 262.5h1.1v1.1h-1.1zM119.5 252h1.1v1.1h-1.1zM108 258.5h1.1v1.1h-1.1zM117 259h1.1v1.1h-1.1zM119.5 258h1.1v1.1h-1.1zM111.5 268h1.1v1.1h-1.1zM119 265h1.1v1.1h-1.1zM115.5 271h1.1v1.1h-1.1zM128.5 261.5h1.1v1.1h-1.1zM109.5 256.5h1.1v1.1h-1.1zM131.5 258h1.1v1.1h-1.1zM104 266h1.1v1.1h-1.1zM125.5 255.5h1.1v1.1h-1.1zM115 254h1.1v1.1h-1.1zM110 275.5h1.1v1.1h-1.1zM117.5 262h1.1v1.1h-1.1zM116.5 266h1.1v1.1h-1.1zM115 255.5h1.1v1.1h-1.1zM105.5 278h1.1v1.1h-1.1zM109 272.5h1.1v1.1h-1.1zM109.5 273h1.1v1.1h-1.1zM122 262.5h1.1v1.1h-1.1zM134 257.5h1.1v1.1h-1.1zM114 258h1.1v1.1h-1.1zM109 261.5h1.1v1.1h-1.1zM107.5 261.5h1.1v1.1h-1.1zM130 252h1.1v1.1h-1.1zM105 257.5h1.1v1.1h-1.1zM112 271h1.1v1.1h-1.1zM122.5 267.5h1.1v1.1h-1.1zM118 280.5h1.1v1.1h-1.1zM106 256h1.1v1.1h-1.1zM116 265.5h1.1v1.1h-1.1zM114 258h1.1v1.1h-1.1zM104.5 262h1.1v1.1h-1.1zM109.5 260.5h1.1v1.1h-1.1zM106.5 273.5h1.1v1.1h-1.1zM120 277h1.1v1.1h-1.1zM111.5 264.5h1.1v1.1h-1.1zM114 264h1.1v1.1h-1.1zM113.5 263h1.1v1.1h-1.1zM98.5 262h1.1v1.1h-1.1zM122 250.5h1.1v1.1h-1.1zM113 268h1.1v1.1h-1.1zM127.5 263.5h1.1v1.1h-1.1zM120 276h1.1v1.1h-1.1zM127.5 261h1.1v1.1h-1.1zM110.5 271h1.1v1.1h-1.1zM118 260h1.1v1.1h-1.1z" fill="#111" fill-opacity="0.72"/>
<rect x="59.1" y="199.2" width="91.1" height="83.6" fill="none" stroke="#222" stroke-width="1"/>
<line x1="54.6" y1="282.8" x2="59.1" y2="282.8" stroke="#222" stroke-width="0.8"/>
<line x1="56.9" y1="276.51" x2="59.1" y2="276.51" stroke="#222" stroke-width="0.8"/>
<line x1="56.9" y1="272.83" x2="59.1" y2="272.83" stroke="#222" stroke-width="0.8"/>
<line x1="56.9" y1="270.22" x2="59.1" y2="270.22" stroke="#222" stroke-width="0.8"/>
<line x1="56.9" y1="268.19" x2="59.1" y2="268.19" stroke="#222" stroke-width="0.8"/>
<line x1="56.9" y1="266.54" x2="59.1" y2="266.54" stroke="#222" stroke-width="0.8"/>
<line x1="56.9" y1="265.14" x2="59.1" y2="265.14" stroke="#222" stroke-width="0.8"/>
<line x1="56.9" y1="263.93" x2="59.1" y2="263.93" stroke="#222" stroke-width="0.8"/>
<line x1="56.9" y1="262.86" x2="59.1" y2="262.86" stroke="#222" stroke-width="0.8"/>
<line x1="54.6" y1="261.9" x2="59.1" y2="261.9" stroke="#222" stroke-width="0.8"/>
<line x1="56.9" y1="255.61" x2="59.1" y2="255.61" stroke="#222" stroke-width="0.8"/>
<line x1="56.9" y1="251.93" x2="59.1" y2="251.93" stroke="#222" stroke-width="0.8"/>
<line x1="56.9" y1="249.32" x2="59.1" y2="249.32" stroke="#222" stroke-width="0.8"/>
<line x1="56.9" y1="247.29" x2="59.1" y2="247.29" stroke="#222" stroke-width="0.8"/>
<line x1="56.9" y1="245.64" x2="59.1" y2="245.64" stroke="#222" stroke-width="0.8"/>
<line x1="56.9" y1="244.24" x2="59.1" y2="244.24" stroke="#222" stroke-width="0.8"/>
<line x1="56.9" y1="243.03" x2="59.1" y2="243.03" stroke="#222" stroke-width="0.8"/>
<line x1="56.9" y1="241.96" x2="59.1" y2="241.96" stroke="#222" stroke-width="0.8"/>
<line x1="54.6" y1="241" x2="59.1" y2="241" stroke="#222" stroke-width="0.8"/>
<line x1="56.9" y1="234.71" x2="59.1" y2="234.71" stroke="#222" stroke-width="0.8"/>
<line x1="56.9" y1="231.03" x2="59.1" y2="231.03" stroke="#222" stroke-width="0.8"/>
<line x1="56.9" y1="228.42" x2="59.1" y2="228.42" stroke="#222" stroke-width="0.8"/>
<line x1="56.9" y1="226.39" x2="59.1" y2="226.39" stroke="#222" stroke-width="0.8"/>
<line x1="56.9" y1="224.74" x2="59.1" y2="224.74" stroke="#222" stroke-width="0.8"/>
<line x1="56.9" y1="223.34" x2="59.1" y2="223.34" stroke="#222" stroke-width="0.8"/>
<line x1="56.9" y1="222.13" x2="59.1" y2="222.13" stroke="#222" stroke-width="0.8"/>
<line x1="56.9" y1="221.06" x2="59.1" y2="221.06" stroke="#222" stroke-width="0.8"/>
<line x1="54.6" y1="220.1" x2="59.1" y2="220.1" stroke="#222" stroke-width="0.8"/>
<line x1="56.9" y1="213.81" x2="59.1" y2="213.81" stroke="#222" stroke-width="0.8"/>
<line x1="56.9" y1="210.13" x2="59.1" y2="210.13" stroke="#222" stroke-width="0.8"/>
<line x1="56.9" y1="207.52" x2="59.1" y2="207.52" stroke="#222" stroke-width="0.8"/>
<line x1="56.9" y1="205.49" x2="59.1" y2="205.49" stroke="#222" stroke-width="0.8"/>
<line x1="56.9" y1="203.84" x2="59.1" y2="203.84" stroke="#222" stroke-width="0.8"/>
<line x1="56.9" y1="202.44" x2="59.1" y2="202.44" stroke="#222" stroke-width="0.8"/>
<line x1="56.9" y1="201.23" x2="59.1" y2="201.23" stroke="#222" stroke-width="0.8"/>
<line x1="56.9" y1="200.16" x2="59.1" y2="200.16" stroke="#222" stroke-width="0.8"/>
<line x1="54.6" y1="199.2" x2="59.1" y2="199.2" stroke="#222" stroke-width="0.8"/>
<line x1="59.1" y1="282.8" x2="59.1" y2="286.3" stroke="#222" stroke-width="0.8"/>
<line x1="65.96" y1="282.8" x2="65.96" y2="284.8" stroke="#222" stroke-width="0.8"/>
<line x1="69.97" y1="282.8" x2="69.97" y2="284.8" stroke="#222" stroke-width="0.8"/>
<line x1="72.81" y1="282.8" x2="72.81" y2="284.8" stroke="#222" stroke-width="0.8"/>
<line x1="75.02" y1="282.8" x2="75.02" y2="284.8" stroke="#222" stroke-width="0.8"/>
<line x1="76.82" y1="282.8" x2="76.82" y2="284.8" stroke="#222" stroke-width="0.8"/>
<line x1="78.35" y1="282.8" x2="78.35" y2="284.8" stroke="#222" stroke-width="0.8"/>
<line x1="79.67" y1="282.8" x2="79.67" y2="284.8" stroke="#222" stroke-width="0.8"/>
<line x1="80.83" y1="282.8" x2="80.83" y2="284.8" stroke="#222" stroke-width="0.8"/>
<line x1="81.88" y1="282.8" x2="81.88" y2="286.3" stroke="#222" stroke-width="0.8"/>
<line x1="88.73" y1="282.8" x2="88.73" y2="284.8" stroke="#222" stroke-width="0.8"/>
<line x1="92.74" y1="282.8" x2="92.74" y2="284.8" stroke="#222" stroke-width="0.8"/>
<line x1="95.59" y1="282.8" x2="95.59" y2="284.8" stroke="#222" stroke-width="0.8"/>
<line x1="97.79" y1="282.8" x2="97.79" y2="284.8" stroke="#222" stroke-width="0.8"/>
<line x1="99.6" y1="282.8" x2="99.6" y2="284.8" stroke="#222" stroke-width="0.8"/>
<line x1="101.12" y1="282.8" x2="101.12" y2="284.8" stroke="#222" stroke-width="0.8"/>
<line x1="102.44" y1="282.8" x2="102.44" y2="284.8" stroke="#222" stroke-width="0.8"/>
<line x1="103.61" y1="282.8" x2="103.61" y2="284.8" stroke="#222" stroke-width="0.8"/>
<line x1="104.65" y1="282.8" x2="104.65" y2="286.3" stroke="#222" stroke-width="0.8"/>
<line x1="111.51" y1="282.8" x2="111.51" y2="284.8" stroke="#222" stroke-width="0.8"/>
<line x1="115.52" y1="282.8" x2="115.52" y2="284.8" stroke="#222" stroke-width="0.8"/>
<line x1="118.36" y1="282.8" x2="118.36" y2="284.8" stroke="#222" stroke-width="0.8"/>
<line x1="120.57" y1="282.8" x2="120.57" y2="284.8" stroke="#222" stroke-width="0.8"/>
<line x1="122.37" y1="282.8" x2="122.37" y2="284.8" stroke="#222" stroke-width="0.8"/>
<line x1="123.9" y1="282.8" x2="123.9" y2="284.8" stroke="#222" stroke-width="0.8"/>
<line x1="125.22" y1="282.8" x2="125.22" y2="284.8" stroke="#222" stroke-width="0.8"/>
<line x1="126.38" y1="282.8" x2="126.38" y2="284.8" stroke="#222" stroke-width="0.8"/>
<line x1="127.42" y1="282.8" x2="127.42" y2="286.3" stroke="#222" stroke-width="0.8"/>
<line x1="134.28" y1="282.8" x2="134.28" y2="284.8" stroke="#222" stroke-width="0.8"/>
<line x1="138.29" y1="282.8" x2="138.29" y2="284.8" stroke="#222" stroke-width="0.8"/>
<line x1="141.14" y1="282.8" x2="141.14" y2="284.8" stroke="#222" stroke-width="0.8"/>
<line x1="143.34" y1="282.8" x2="143.34" y2="284.8" stroke="#222" stroke-width="0.8"/>
<line x1="145.15" y1="282.8" x2="145.15" y2="284.8" stroke="#222" stroke-width="0.8"/>
<line x1="146.67" y1="282.8" x2="146.67" y2="284.8" stroke="#222" stroke-width="0.8"/>
<line x1="147.99" y1="282.8" x2="147.99" y2="284.8" stroke="#222" stroke-width="0.8"/>
<line x1="149.16" y1="282.8" x2="149.16" y2="284.8" stroke="#222" stroke-width="0.8"/>
<line x1="150.2" y1="282.8" x2="150.2" y2="286.3" stroke="#222" stroke-width="0.8"/>
<text x="77.9" y="191.3" font-size="9.5" stroke="#000" stroke-width="0.3" textLength="49.6" lengthAdjust="spacingAndGlyphs">LN: Vβ2 -ve</text>
<rect x="60.6" y="218.8" width="55.6" height="29.4" fill="none" stroke="#444" stroke-width="1"/>
<line x1="61" y1="218.8" x2="61" y2="248.2" stroke="#777" stroke-width="1.6"/>
<rect x="116.2" y="211.3" width="32.8" height="36.9" fill="none" stroke="#444" stroke-width="1"/>
<rect x="105.4" y="248.2" width="43.6" height="31.2" fill="none" stroke="#444" stroke-width="1"/>
<text x="60.8" y="217.2" font-size="8.3" stroke="#000" stroke-width="0.3" font-weight="bold" textLength="15" lengthAdjust="spacingAndGlyphs">17.9</text>
<text x="146" y="209.6" font-size="8.3" stroke="#000" stroke-width="0.3" font-weight="bold" text-anchor="end" textLength="16.1" lengthAdjust="spacingAndGlyphs">43.2</text>
<text x="146" y="277.9" font-size="8.3" stroke="#000" stroke-width="0.3" font-weight="bold" text-anchor="end" textLength="16.1" lengthAdjust="spacingAndGlyphs">24.7</text>
<path d="M236 238h1.1v1.1h-1.1zM238 235h1.1v1.1h-1.1zM242.5 228.5h1.1v1.1h-1.1zM240 248h1.1v1.1h-1.1zM244 240h1.1v1.1h-1.1zM236.5 240.5h1.1v1.1h-1.1zM248 229.5h1.1v1.1h-1.1zM243 232.5h1.1v1.1h-1.1zM240 233.5h1.1v1.1h-1.1zM242 244h1.1v1.1h-1.1zM232.5 244.5h1.1v1.1h-1.1zM240.5 233h1.1v1.1h-1.1zM238.5 234.5h1.1v1.1h-1.1zM235 241.5h1.1v1.1h-1.1zM238 236.5h1.1v1.1h-1.1zM240.5 241h1.1v1.1h-1.1zM241 240h1.1v1.1h-1.1zM237.5 227.5h1.1v1.1h-1.1zM227.5 239h1.1v1.1h-1.1zM241.5 235.5h1.1v1.1h-1.1zM233 236.5h1.1v1.1h-1.1zM236.5 238.5h1.1v1.1h-1.1zM239 229h1.1v1.1h-1.1zM247.5 236h1.1v1.1h-1.1zM233 244h1.1v1.1h-1.1zM228.5 236h1.1v1.1h-1.1zM239 236.5h1.1v1.1h-1.1zM243.5 231.5h1.1v1.1h-1.1zM223 241.5h1.1v1.1h-1.1zM233.5 241h1.1v1.1h-1.1zM241 241.5h1.1v1.1h-1.1zM237 242h1.1v1.1h-1.1zM242 243.5h1.1v1.1h-1.1zM243.5 238.5h1.1v1.1h-1.1zM236 236.5h1.1v1.1h-1.1zM237.5 241h1.1v1.1h-1.1zM242 246.5h1.1v1.1h-1.1zM231 247.5h1.1v1.1h-1.1zM238 239.5h1.1v1.1h-1.1zM241 236.5h1.1v1.1h-1.1zM233.5 235h1.1v1.1h-1.1zM240 231.5h1.1v1.1h-1.1zM239 236.5h1.1v1.1h-1.1zM242.5 226h1.1v1.1h-1.1zM231 246h1.1v1.1h-1.1zM237 245h1.1v1.1h-1.1zM234 242.5h1.1v1.1h-1.1zM237 233h1.1v1.1h-1.1zM245 231h1.1v1.1h-1.1zM237 238.5h1.1v1.1h-1.1zM246.5 237.5h1.1v1.1h-1.1zM242 234.5h1.1v1.1h-1.1zM246 221.5h1.1v1.1h-1.1zM230.5 240.5h1.1v1.1h-1.1zM239.5 239h1.1v1.1h-1.1zM245 246h1.1v1.1h-1.1zM234 233h1.1v1.1h-1.1zM232 245.5h1.1v1.1h-1.1zM233 237h1.1v1.1h-1.1zM244.5 235.5h1.1v1.1h-1.1zM245.5 226.5h1.1v1.1h-1.1zM246.5 225.5h1.1v1.1h-1.1zM230.5 245h1.1v1.1h-1.1zM239.5 238.5h1.1v1.1h-1.1zM230.5 249h1.1v1.1h-1.1zM236 244h1.1v1.1h-1.1zM238 233.5h1.1v1.1h-1.1zM235 233.5h1.1v1.1h-1.1zM232 240.5h1.1v1.1h-1.1zM241 238h1.1v1.1h-1.1zM246.5 220.5h1.1v1.1h-1.1zM234.5 237h1.1v1.1h-1.1zM252 222.5h1.1v1.1h-1.1zM228.5 231.5h1.1v1.1h-1.1zM235 233.5h1.1v1.1h-1.1zM234 239h1.1v1.1h-1.1zM233.5 229.5h1.1v1.1h-1.1zM240.5 240.5h1.1v1.1h-1.1zM233.5 237.5h1.1v1.1h-1.1zM242.5 233h1.1v1.1h-1.1zM238 242.5h1.1v1.1h-1.1zM234 241.5h1.1v1.1h-1.1zM231 238h1.1v1.1h-1.1zM241 231.5h1.1v1.1h-1.1zM231.5 241.5h1.1v1.1h-1.1zM237.5 234h1.1v1.1h-1.1zM238.5 231h1.1v1.1h-1.1zM233.5 251h1.1v1.1h-1.1zM241 243h1.1v1.1h-1.1zM242 237h1.1v1.1h-1.1zM240.5 229.5h1.1v1.1h-1.1zM244.5 239h1.1v1.1h-1.1zM237.5 232h1.1v1.1h-1.1zM240.5 234.5h1.1v1.1h-1.1zM237.5 238h1.1v1.1h-1.1zM247.5 234h1.1v1.1h-1.1zM241.5 234h1.1v1.1h-1.1zM230.5 244.5h1.1v1.1h-1.1zM241.5 236.5h1.1v1.1h-1.1zM240 238h1.1v1.1h-1.1zM244 237.5h1.1v1.1h-1.1zM240.5 237h1.1v1.1h-1.1zM238.5 236.5h1.1v1.1h-1.1zM235.5 236h1.1v1.1h-1.1zM244 236.5h1.1v1.1h-1.1zM235 238h1.1v1.1h-1.1zM232 239.5h1.1v1.1h-1.1zM249 227h1.1v1.1h-1.1zM239.5 229.5h1.1v1.1h-1.1zM237.5 244h1.1v1.1h-1.1zM236 230.5h1.1v1.1h-1.1zM239 235h1.1v1.1h-1.1zM237 244h1.1v1.1h-1.1zM236 244.5h1.1v1.1h-1.1zM241.5 239h1.1v1.1h-1.1zM239 232h1.1v1.1h-1.1zM237.5 244h1.1v1.1h-1.1zM243 238h1.1v1.1h-1.1zM235.5 237.5h1.1v1.1h-1.1zM241 242h1.1v1.1h-1.1zM242 233.5h1.1v1.1h-1.1zM237.5 241h1.1v1.1h-1.1zM228 244h1.1v1.1h-1.1zM231 239.5h1.1v1.1h-1.1zM236.5 237.5h1.1v1.1h-1.1zM237 232h1.1v1.1h-1.1zM241.5 238h1.1v1.1h-1.1zM233.5 241h1.1v1.1h-1.1zM240 240h1.1v1.1h-1.1zM232.5 246.5h1.1v1.1h-1.1zM236 238.5h1.1v1.1h-1.1zM244.5 231h1.1v1.1h-1.1zM230.5 233h1.1v1.1h-1.1zM240.5 240.5h1.1v1.1h-1.1zM238.5 232.5h1.1v1.1h-1.1zM242 237.5h1.1v1.1h-1.1zM229.5 236.5h1.1v1.1h-1.1zM237.5 239.5h1.1v1.1h-1.1zM237 246.5h1.1v1.1h-1.1zM240.5 237.5h1.1v1.1h-1.1zM229 233.5h1.1v1.1h-1.1zM232.5 243.5h1.1v1.1h-1.1zM241 243h1.1v1.1h-1.1zM243 240h1.1v1.1h-1.1zM241 232.5h1.1v1.1h-1.1zM236 237.5h1.1v1.1h-1.1zM244.5 236h1.1v1.1h-1.1zM232.5 251.5h1.1v1.1h-1.1zM234 232.5h1.1v1.1h-1.1zM234.5 242.5h1.1v1.1h-1.1zM240.5 248.5h1.1v1.1h-1.1zM241 232.5h1.1v1.1h-1.1zM238 237h1.1v1.1h-1.1zM242 233h1.1v1.1h-1.1zM246 237h1.1v1.1h-1.1zM239.5 240h1.1v1.1h-1.1zM234 234.5h1.1v1.1h-1.1zM239 236h1.1v1.1h-1.1zM242.5 236.5h1.1v1.1h-1.1zM243 249.5h1.1v1.1h-1.1zM244 221.5h1.1v1.1h-1.1zM241.5 241.5h1.1v1.1h-1.1zM242 232h1.1v1.1h-1.1zM239.5 223.5h1.1v1.1h-1.1zM241.5 252h1.1v1.1h-1.1zM229 245.5h1.1v1.1h-1.1zM228.5 236h1.1v1.1h-1.1zM243.5 234.5h1.1v1.1h-1.1zM240 230.5h1.1v1.1h-1.1zM233.5 244h1.1v1.1h-1.1zM240 242h1.1v1.1h-1.1zM248.5 230.5h1.1v1.1h-1.1zM245.5 242h1.1v1.1h-1.1zM234.5 231.5h1.1v1.1h-1.1zM235.5 236h1.1v1.1h-1.1zM248 225.5h1.1v1.1h-1.1zM236 249.5h1.1v1.1h-1.1zM229 242h1.1v1.1h-1.1zM239 245.5h1.1v1.1h-1.1zM249 234h1.1v1.1h-1.1zM244.5 233.5h1.1v1.1h-1.1zM250.5 238h1.1v1.1h-1.1zM229.5 240h1.1v1.1h-1.1zM240 239h1.1v1.1h-1.1zM236 240.5h1.1v1.1h-1.1zM247 237.5h1.1v1.1h-1.1zM238 232.5h1.1v1.1h-1.1zM237.5 237h1.1v1.1h-1.1zM232 235.5h1.1v1.1h-1.1zM234.5 232h1.1v1.1h-1.1zM238 235h1.1v1.1h-1.1zM237.5 249.5h1.1v1.1h-1.1zM236 248h1.1v1.1h-1.1zM231.5 244h1.1v1.1h-1.1zM237 238h1.1v1.1h-1.1zM244 230.5h1.1v1.1h-1.1zM236.5 234.5h1.1v1.1h-1.1zM240 237.5h1.1v1.1h-1.1zM239 228.5h1.1v1.1h-1.1zM242.5 230.5h1.1v1.1h-1.1zM234 233.5h1.1v1.1h-1.1zM241.5 233h1.1v1.1h-1.1zM230.5 234h1.1v1.1h-1.1zM242.5 237h1.1v1.1h-1.1zM245.5 223.5h1.1v1.1h-1.1zM245.5 233.5h1.1v1.1h-1.1zM243 235.5h1.1v1.1h-1.1zM238 235.5h1.1v1.1h-1.1zM221 247h1.1v1.1h-1.1zM232 233.5h1.1v1.1h-1.1zM236 233.5h1.1v1.1h-1.1zM250 230.5h1.1v1.1h-1.1zM235.5 239.5h1.1v1.1h-1.1zM237 239.5h1.1v1.1h-1.1zM241.5 226.5h1.1v1.1h-1.1zM234.5 231.5h1.1v1.1h-1.1zM240.5 239.5h1.1v1.1h-1.1zM243.5 241.5h1.1v1.1h-1.1zM238 238.5h1.1v1.1h-1.1zM229.5 235.5h1.1v1.1h-1.1zM235.5 232h1.1v1.1h-1.1zM251 236.5h1.1v1.1h-1.1zM237.5 239h1.1v1.1h-1.1zM238.5 237.5h1.1v1.1h-1.1zM228.5 246h1.1v1.1h-1.1zM234.5 226.5h1.1v1.1h-1.1zM241.5 244h1.1v1.1h-1.1zM238.5 230h1.1v1.1h-1.1zM227 250.5h1.1v1.1h-1.1zM243.5 233h1.1v1.1h-1.1z" fill="#111" fill-opacity="0.96"/>
<path d="M238.5 254.5h1.1v1.1h-1.1zM244 262h1.1v1.1h-1.1zM243 261h1.1v1.1h-1.1zM246 262.5h1.1v1.1h-1.1zM238 251h1.1v1.1h-1.1zM237.5 263.5h1.1v1.1h-1.1zM237.5 253h1.1v1.1h-1.1zM241.5 255h1.1v1.1h-1.1zM240 259h1.1v1.1h-1.1zM237.5 272.5h1.1v1.1h-1.1zM240 269.5h1.1v1.1h-1.1zM235.5 247.5h1.1v1.1h-1.1zM233.5 256h1.1v1.1h-1.1zM238 260.5h1.1v1.1h-1.1zM238.5 248.5h1.1v1.1h-1.1zM238 249h1.1v1.1h-1.1zM242.5 256h1.1v1.1h-1.1zM246.5 272h1.1v1.1h-1.1zM243.5 272.5h1.1v1.1h-1.1zM237.5 259h1.1v1.1h-1.1zM236.5 265.5h1.1v1.1h-1.1zM233.5 256h1.1v1.1h-1.1zM239.5 255.5h1.1v1.1h-1.1zM242 276h1.1v1.1h-1.1zM237 273h1.1v1.1h-1.1zM235 252h1.1v1.1h-1.1zM240.5 269h1.1v1.1h-1.1zM235 254h1.1v1.1h-1.1zM236 254h1.1v1.1h-1.1zM238.5 253.5h1.1v1.1h-1.1zM238 263.5h1.1v1.1h-1.1zM238.5 270.5h1.1v1.1h-1.1zM235 253.5h1.1v1.1h-1.1zM247.5 272.5h1.1v1.1h-1.1zM240 267.5h1.1v1.1h-1.1zM239 255.5h1.1v1.1h-1.1zM241 262.5h1.1v1.1h-1.1zM240.5 243h1.1v1.1h-1.1zM241.5 261h1.1v1.1h-1.1zM235.5 256.5h1.1v1.1h-1.1zM235.5 248.5h1.1v1.1h-1.1zM237.5 267.5h1.1v1.1h-1.1zM233 257.5h1.1v1.1h-1.1zM229.5 256h1.1v1.1h-1.1zM240 259.5h1.1v1.1h-1.1zM237.5 250h1.1v1.1h-1.1zM239.5 251.5h1.1v1.1h-1.1zM242 261.5h1.1v1.1h-1.1zM239 273.5h1.1v1.1h-1.1zM238.5 269.5h1.1v1.1h-1.1zM239 260h1.1v1.1h-1.1zM242.5 263.5h1.1v1.1h-1.1zM238.5 259h1.1v1.1h-1.1zM239.5 260.5h1.1v1.1h-1.1zM236 251h1.1v1.1h-1.1zM229.5 260.5h1.1v1.1h-1.1zM239 271h1.1v1.1h-1.1zM241.5 270h1.1v1.1h-1.1zM244.5 258h1.1v1.1h-1.1zM236.5 267.5h1.1v1.1h-1.1zM236 258h1.1v1.1h-1.1zM244 264h1.1v1.1h-1.1zM240.5 247.5h1.1v1.1h-1.1zM240 270h1.1v1.1h-1.1zM234.5 262.5h1.1v1.1h-1.1zM237 239.5h1.1v1.1h-1.1zM243 253h1.1v1.1h-1.1zM240 275h1.1v1.1h-1.1zM233 265h1.1v1.1h-1.1zM237 260.5h1.1v1.1h-1.1zM237.5 272.5h1.1v1.1h-1.1zM235 264h1.1v1.1h-1.1zM240.5 259h1.1v1.1h-1.1zM237 258h1.1v1.1h-1.1zM242.5 263.5h1.1v1.1h-1.1zM237 250.5h1.1v1.1h-1.1zM239.5 264.5h1.1v1.1h-1.1zM240 273h1.1v1.1h-1.1zM236.5 250h1.1v1.1h-1.1zM233.5 268.5h1.1v1.1h-1.1zM240 258h1.1v1.1h-1.1zM238.5 261.5h1.1v1.1h-1.1zM238.5 270.5h1.1v1.1h-1.1zM240.5 258.5h1.1v1.1h-1.1zM234.5 273h1.1v1.1h-1.1zM235.5 251h1.1v1.1h-1.1zM243.5 264h1.1v1.1h-1.1zM229.5 246h1.1v1.1h-1.1zM235.5 249h1.1v1.1h-1.1zM249 258h1.1v1.1h-1.1zM242.5 267.5h1.1v1.1h-1.1zM236.5 247h1.1v1.1h-1.1zM242 258h1.1v1.1h-1.1zM241 266h1.1v1.1h-1.1zM238 275.5h1.1v1.1h-1.1zM239 262h1.1v1.1h-1.1zM238 266.5h1.1v1.1h-1.1zM241.5 254.5h1.1v1.1h-1.1zM240 256h1.1v1.1h-1.1zM234 257.5h1.1v1.1h-1.1zM241.5 264.5h1.1v1.1h-1.1zM241.5 253.5h1.1v1.1h-1.1zM237.5 261h1.1v1.1h-1.1zM240.5 258.5h1.1v1.1h-1.1zM233.5 246.5h1.1v1.1h-1.1zM244 269h1.1v1.1h-1.1zM238 273.5h1.1v1.1h-1.1zM239 264h1.1v1.1h-1.1zM242.5 255h1.1v1.1h-1.1zM233.5 245h1.1v1.1h-1.1zM240 264h1.1v1.1h-1.1zM242.5 265h1.1v1.1h-1.1zM240.5 270.5h1.1v1.1h-1.1zM235.5 264h1.1v1.1h-1.1zM240 259h1.1v1.1h-1.1zM245 263h1.1v1.1h-1.1zM244.5 267.5h1.1v1.1h-1.1zM240.5 277.5h1.1v1.1h-1.1zM242.5 260h1.1v1.1h-1.1zM237 251h1.1v1.1h-1.1zM238 258h1.1v1.1h-1.1zM239 256.5h1.1v1.1h-1.1zM240.5 259h1.1v1.1h-1.1zM232.5 256.5h1.1v1.1h-1.1zM234 249h1.1v1.1h-1.1zM239 268.5h1.1v1.1h-1.1zM232 243h1.1v1.1h-1.1zM237 263h1.1v1.1h-1.1zM238 268h1.1v1.1h-1.1zM243.5 258h1.1v1.1h-1.1zM241.5 250h1.1v1.1h-1.1zM237.5 248.5h1.1v1.1h-1.1zM238.5 254.5h1.1v1.1h-1.1zM238 250h1.1v1.1h-1.1zM239.5 261h1.1v1.1h-1.1zM235.5 253.5h1.1v1.1h-1.1zM234 257h1.1v1.1h-1.1zM240 259h1.1v1.1h-1.1zM240.5 271.5h1.1v1.1h-1.1zM238 263h1.1v1.1h-1.1zM242 264.5h1.1v1.1h-1.1zM240 260.5h1.1v1.1h-1.1zM245 258.5h1.1v1.1h-1.1zM238 265.5h1.1v1.1h-1.1zM246 272h1.1v1.1h-1.1zM240 267.5h1.1v1.1h-1.1zM240.5 260.5h1.1v1.1h-1.1zM241.5 265.5h1.1v1.1h-1.1zM241.5 275.5h1.1v1.1h-1.1zM239 273h1.1v1.1h-1.1zM248.5 278h1.1v1.1h-1.1zM239.5 258.5h1.1v1.1h-1.1zM233 260.5h1.1v1.1h-1.1zM245 245h1.1v1.1h-1.1zM234.5 268.5h1.1v1.1h-1.1zM238.5 243.5h1.1v1.1h-1.1zM239 263.5h1.1v1.1h-1.1zM234.5 269.5h1.1v1.1h-1.1zM235.5 271h1.1v1.1h-1.1zM238.5 254h1.1v1.1h-1.1zM232.5 258h1.1v1.1h-1.1zM238 259h1.1v1.1h-1.1zM236.5 258.5h1.1v1.1h-1.1zM240.5 251.5h1.1v1.1h-1.1zM238.5 264.5h1.1v1.1h-1.1z" fill="#111" fill-opacity="0.78"/>
<path d="M226 245.5h1.1v1.1h-1.1zM235.5 242h1.1v1.1h-1.1zM227.5 234h1.1v1.1h-1.1zM224 245h1.1v1.1h-1.1zM219.5 247h1.1v1.1h-1.1zM215 247h1.1v1.1h-1.1zM223 240h1.1v1.1h-1.1zM223 242.5h1.1v1.1h-1.1zM220 239h1.1v1.1h-1.1zM223 246h1.1v1.1h-1.1zM228.5 247h1.1v1.1h-1.1zM222.5 242h1.1v1.1h-1.1zM224 243.5h1.1v1.1h-1.1zM229 248.5h1.1v1.1h-1.1zM230.5 243.5h1.1v1.1h-1.1zM234.5 240.5h1.1v1.1h-1.1zM218 245h1.1v1.1h-1.1zM227 243.5h1.1v1.1h-1.1zM231.5 242h1.1v1.1h-1.1zM225.5 244h1.1v1.1h-1.1zM230 246h1.1v1.1h-1.1zM227 244h1.1v1.1h-1.1zM211.5 246.5h1.1v1.1h-1.1zM216.5 243h1.1v1.1h-1.1zM241.5 242h1.1v1.1h-1.1zM216.5 248h1.1v1.1h-1.1zM222.5 242.5h1.1v1.1h-1.1zM225 245h1.1v1.1h-1.1zM230.5 242.5h1.1v1.1h-1.1zM233 240.5h1.1v1.1h-1.1zM230 241h1.1v1.1h-1.1zM230.5 241h1.1v1.1h-1.1zM223.5 247.5h1.1v1.1h-1.1zM219.5 239.5h1.1v1.1h-1.1zM229.5 242h1.1v1.1h-1.1zM223.5 242.5h1.1v1.1h-1.1zM239 240h1.1v1.1h-1.1zM224.5 243.5h1.1v1.1h-1.1zM220.5 243h1.1v1.1h-1.1zM229 240.5h1.1v1.1h-1.1z" fill="#111" fill-opacity="0.6"/>
<path d="M196 245h1.1v1.1h-1.1zM221 215h1.1v1.1h-1.1zM228.5 221.5h1.1v1.1h-1.1zM252.5 269h1.1v1.1h-1.1zM222.5 221h1.1v1.1h-1.1zM191.5 220h1.1v1.1h-1.1zM222 247.5h1.1v1.1h-1.1zM191 260.5h1.1v1.1h-1.1zM219 278h1.1v1.1h-1.1zM211.5 238h1.1v1.1h-1.1zM243.5 234h1.1v1.1h-1.1zM242.5 244h1.1v1.1h-1.1z" fill="#111" fill-opacity="0.48"/>
<rect x="173.2" y="199.6" width="91" height="83.2" fill="none" stroke="#222" stroke-width="1"/>
<line x1="168.7" y1="282.8" x2="173.2" y2="282.8" stroke="#222" stroke-width="0.8"/>
<line x1="171" y1="276.54" x2="173.2" y2="276.54" stroke="#222" stroke-width="0.8"/>
<line x1="171" y1="272.88" x2="173.2" y2="272.88" stroke="#222" stroke-width="0.8"/>
<line x1="171" y1="270.28" x2="173.2" y2="270.28" stroke="#222" stroke-width="0.8"/>
<line x1="171" y1="268.26" x2="173.2" y2="268.26" stroke="#222" stroke-width="0.8"/>
<line x1="171" y1="266.61" x2="173.2" y2="266.61" stroke="#222" stroke-width="0.8"/>
<line x1="171" y1="265.22" x2="173.2" y2="265.22" stroke="#222" stroke-width="0.8"/>
<line x1="171" y1="264.02" x2="173.2" y2="264.02" stroke="#222" stroke-width="0.8"/>
<line x1="171" y1="262.95" x2="173.2" y2="262.95" stroke="#222" stroke-width="0.8"/>
<line x1="168.7" y1="262" x2="173.2" y2="262" stroke="#222" stroke-width="0.8"/>
<line x1="171" y1="255.74" x2="173.2" y2="255.74" stroke="#222" stroke-width="0.8"/>
<line x1="171" y1="252.08" x2="173.2" y2="252.08" stroke="#222" stroke-width="0.8"/>
<line x1="171" y1="249.48" x2="173.2" y2="249.48" stroke="#222" stroke-width="0.8"/>
<line x1="171" y1="247.46" x2="173.2" y2="247.46" stroke="#222" stroke-width="0.8"/>
<line x1="171" y1="245.81" x2="173.2" y2="245.81" stroke="#222" stroke-width="0.8"/>
<line x1="171" y1="244.42" x2="173.2" y2="244.42" stroke="#222" stroke-width="0.8"/>
<line x1="171" y1="243.22" x2="173.2" y2="243.22" stroke="#222" stroke-width="0.8"/>
<line x1="171" y1="242.15" x2="173.2" y2="242.15" stroke="#222" stroke-width="0.8"/>
<line x1="168.7" y1="241.2" x2="173.2" y2="241.2" stroke="#222" stroke-width="0.8"/>
<line x1="171" y1="234.94" x2="173.2" y2="234.94" stroke="#222" stroke-width="0.8"/>
<line x1="171" y1="231.28" x2="173.2" y2="231.28" stroke="#222" stroke-width="0.8"/>
<line x1="171" y1="228.68" x2="173.2" y2="228.68" stroke="#222" stroke-width="0.8"/>
<line x1="171" y1="226.66" x2="173.2" y2="226.66" stroke="#222" stroke-width="0.8"/>
<line x1="171" y1="225.01" x2="173.2" y2="225.01" stroke="#222" stroke-width="0.8"/>
<line x1="171" y1="223.62" x2="173.2" y2="223.62" stroke="#222" stroke-width="0.8"/>
<line x1="171" y1="222.42" x2="173.2" y2="222.42" stroke="#222" stroke-width="0.8"/>
<line x1="171" y1="221.35" x2="173.2" y2="221.35" stroke="#222" stroke-width="0.8"/>
<line x1="168.7" y1="220.4" x2="173.2" y2="220.4" stroke="#222" stroke-width="0.8"/>
<line x1="171" y1="214.14" x2="173.2" y2="214.14" stroke="#222" stroke-width="0.8"/>
<line x1="171" y1="210.48" x2="173.2" y2="210.48" stroke="#222" stroke-width="0.8"/>
<line x1="171" y1="207.88" x2="173.2" y2="207.88" stroke="#222" stroke-width="0.8"/>
<line x1="171" y1="205.86" x2="173.2" y2="205.86" stroke="#222" stroke-width="0.8"/>
<line x1="171" y1="204.21" x2="173.2" y2="204.21" stroke="#222" stroke-width="0.8"/>
<line x1="171" y1="202.82" x2="173.2" y2="202.82" stroke="#222" stroke-width="0.8"/>
<line x1="171" y1="201.62" x2="173.2" y2="201.62" stroke="#222" stroke-width="0.8"/>
<line x1="171" y1="200.55" x2="173.2" y2="200.55" stroke="#222" stroke-width="0.8"/>
<line x1="168.7" y1="199.6" x2="173.2" y2="199.6" stroke="#222" stroke-width="0.8"/>
<line x1="173.2" y1="282.8" x2="173.2" y2="286.3" stroke="#222" stroke-width="0.8"/>
<line x1="180.05" y1="282.8" x2="180.05" y2="284.8" stroke="#222" stroke-width="0.8"/>
<line x1="184.05" y1="282.8" x2="184.05" y2="284.8" stroke="#222" stroke-width="0.8"/>
<line x1="186.9" y1="282.8" x2="186.9" y2="284.8" stroke="#222" stroke-width="0.8"/>
<line x1="189.1" y1="282.8" x2="189.1" y2="284.8" stroke="#222" stroke-width="0.8"/>
<line x1="190.9" y1="282.8" x2="190.9" y2="284.8" stroke="#222" stroke-width="0.8"/>
<line x1="192.43" y1="282.8" x2="192.43" y2="284.8" stroke="#222" stroke-width="0.8"/>
<line x1="193.75" y1="282.8" x2="193.75" y2="284.8" stroke="#222" stroke-width="0.8"/>
<line x1="194.91" y1="282.8" x2="194.91" y2="284.8" stroke="#222" stroke-width="0.8"/>
<line x1="195.95" y1="282.8" x2="195.95" y2="286.3" stroke="#222" stroke-width="0.8"/>
<line x1="202.8" y1="282.8" x2="202.8" y2="284.8" stroke="#222" stroke-width="0.8"/>
<line x1="206.8" y1="282.8" x2="206.8" y2="284.8" stroke="#222" stroke-width="0.8"/>
<line x1="209.65" y1="282.8" x2="209.65" y2="284.8" stroke="#222" stroke-width="0.8"/>
<line x1="211.85" y1="282.8" x2="211.85" y2="284.8" stroke="#222" stroke-width="0.8"/>
<line x1="213.65" y1="282.8" x2="213.65" y2="284.8" stroke="#222" stroke-width="0.8"/>
<line x1="215.18" y1="282.8" x2="215.18" y2="284.8" stroke="#222" stroke-width="0.8"/>
<line x1="216.5" y1="282.8" x2="216.5" y2="284.8" stroke="#222" stroke-width="0.8"/>
<line x1="217.66" y1="282.8" x2="217.66" y2="284.8" stroke="#222" stroke-width="0.8"/>
<line x1="218.7" y1="282.8" x2="218.7" y2="286.3" stroke="#222" stroke-width="0.8"/>
<line x1="225.55" y1="282.8" x2="225.55" y2="284.8" stroke="#222" stroke-width="0.8"/>
<line x1="229.55" y1="282.8" x2="229.55" y2="284.8" stroke="#222" stroke-width="0.8"/>
<line x1="232.4" y1="282.8" x2="232.4" y2="284.8" stroke="#222" stroke-width="0.8"/>
<line x1="234.6" y1="282.8" x2="234.6" y2="284.8" stroke="#222" stroke-width="0.8"/>
<line x1="236.4" y1="282.8" x2="236.4" y2="284.8" stroke="#222" stroke-width="0.8"/>
<line x1="237.93" y1="282.8" x2="237.93" y2="284.8" stroke="#222" stroke-width="0.8"/>
<line x1="239.25" y1="282.8" x2="239.25" y2="284.8" stroke="#222" stroke-width="0.8"/>
<line x1="240.41" y1="282.8" x2="240.41" y2="284.8" stroke="#222" stroke-width="0.8"/>
<line x1="241.45" y1="282.8" x2="241.45" y2="286.3" stroke="#222" stroke-width="0.8"/>
<line x1="248.3" y1="282.8" x2="248.3" y2="284.8" stroke="#222" stroke-width="0.8"/>
<line x1="252.3" y1="282.8" x2="252.3" y2="284.8" stroke="#222" stroke-width="0.8"/>
<line x1="255.15" y1="282.8" x2="255.15" y2="284.8" stroke="#222" stroke-width="0.8"/>
<line x1="257.35" y1="282.8" x2="257.35" y2="284.8" stroke="#222" stroke-width="0.8"/>
<line x1="259.15" y1="282.8" x2="259.15" y2="284.8" stroke="#222" stroke-width="0.8"/>
<line x1="260.68" y1="282.8" x2="260.68" y2="284.8" stroke="#222" stroke-width="0.8"/>
<line x1="262" y1="282.8" x2="262" y2="284.8" stroke="#222" stroke-width="0.8"/>
<line x1="263.16" y1="282.8" x2="263.16" y2="284.8" stroke="#222" stroke-width="0.8"/>
<line x1="264.2" y1="282.8" x2="264.2" y2="286.3" stroke="#222" stroke-width="0.8"/>
<text x="189.5" y="191.3" font-size="9.5" stroke="#000" stroke-width="0.3" textLength="52.1" lengthAdjust="spacingAndGlyphs">LN: Vβ2 +ve</text>
<rect x="174.7" y="219.2" width="55.9" height="29.5" fill="none" stroke="#444" stroke-width="1"/>
<line x1="175.1" y1="219.2" x2="175.1" y2="248.7" stroke="#777" stroke-width="1.6"/>
<rect x="230.6" y="211.9" width="32.4" height="36.8" fill="none" stroke="#444" stroke-width="1"/>
<rect x="219.5" y="248.7" width="43.5" height="31.5" fill="none" stroke="#444" stroke-width="1"/>
<text x="177.3" y="217.6" font-size="8.3" stroke="#000" stroke-width="0.3" font-weight="bold" textLength="10.8" lengthAdjust="spacingAndGlyphs">3.1</text>
<text x="260" y="210.2" font-size="8.3" stroke="#000" stroke-width="0.3" font-weight="bold" text-anchor="end" textLength="16.5" lengthAdjust="spacingAndGlyphs">78.3</text>
<text x="260" y="278.7" font-size="8.3" stroke="#000" stroke-width="0.3" font-weight="bold" text-anchor="end" textLength="15.4" lengthAdjust="spacingAndGlyphs">17.5</text>
<path d="M364 243h1.1v1.1h-1.1zM355 233.5h1.1v1.1h-1.1zM349.5 240.5h1.1v1.1h-1.1zM352.5 232h1.1v1.1h-1.1zM351.5 235h1.1v1.1h-1.1zM355 235.5h1.1v1.1h-1.1zM354.5 233h1.1v1.1h-1.1zM358 241h1.1v1.1h-1.1zM351 239h1.1v1.1h-1.1zM357 228.5h1.1v1.1h-1.1zM347.5 247.5h1.1v1.1h-1.1zM352 246h1.1v1.1h-1.1zM354.5 228h1.1v1.1h-1.1zM346.5 244.5h1.1v1.1h-1.1zM351 231.5h1.1v1.1h-1.1zM358 238.5h1.1v1.1h-1.1zM351 240h1.1v1.1h-1.1zM354 236.5h1.1v1.1h-1.1zM356 234.5h1.1v1.1h-1.1zM351 242h1.1v1.1h-1.1zM349.5 234.5h1.1v1.1h-1.1zM346.5 240h1.1v1.1h-1.1zM353 244.5h1.1v1.1h-1.1zM354.5 246h1.1v1.1h-1.1zM358 235h1.1v1.1h-1.1zM359.5 234.5h1.1v1.1h-1.1zM361.5 244h1.1v1.1h-1.1zM359 232h1.1v1.1h-1.1zM354 247h1.1v1.1h-1.1zM348 231.5h1.1v1.1h-1.1zM353 233.5h1.1v1.1h-1.1zM352.5 253.5h1.1v1.1h-1.1zM346 242h1.1v1.1h-1.1zM348 245.5h1.1v1.1h-1.1zM344 231h1.1v1.1h-1.1zM360 236h1.1v1.1h-1.1zM359.5 237h1.1v1.1h-1.1zM356 243.5h1.1v1.1h-1.1zM353.5 232.5h1.1v1.1h-1.1zM349 244.5h1.1v1.1h-1.1zM355 234h1.1v1.1h-1.1zM371 235h1.1v1.1h-1.1zM350.5 240.5h1.1v1.1h-1.1zM349 236h1.1v1.1h-1.1zM355.5 228.5h1.1v1.1h-1.1zM358 232h1.1v1.1h-1.1zM346.5 244h1.1v1.1h-1.1zM347 239.5h1.1v1.1h-1.1zM355 246h1.1v1.1h-1.1zM355.5 237.5h1.1v1.1h-1.1zM347 236h1.1v1.1h-1.1zM356 236h1.1v1.1h-1.1zM346.5 241h1.1v1.1h-1.1zM347.5 238.5h1.1v1.1h-1.1zM355.5 227h1.1v1.1h-1.1zM358 244.5h1.1v1.1h-1.1zM359 230.5h1.1v1.1h-1.1zM351.5 239.5h1.1v1.1h-1.1zM345.5 246h1.1v1.1h-1.1zM343 238h1.1v1.1h-1.1zM349.5 225h1.1v1.1h-1.1zM346 239h1.1v1.1h-1.1zM352 232.5h1.1v1.1h-1.1zM353.5 227.5h1.1v1.1h-1.1zM352 230h1.1v1.1h-1.1zM352.5 235h1.1v1.1h-1.1zM345 229.5h1.1v1.1h-1.1zM359 237h1.1v1.1h-1.1zM354.5 233h1.1v1.1h-1.1zM350.5 236h1.1v1.1h-1.1zM348 234h1.1v1.1h-1.1zM345 236.5h1.1v1.1h-1.1zM344.5 238.5h1.1v1.1h-1.1zM361.5 229.5h1.1v1.1h-1.1zM357 236h1.1v1.1h-1.1zM359 236.5h1.1v1.1h-1.1zM352.5 235h1.1v1.1h-1.1zM363.5 228.5h1.1v1.1h-1.1zM355.5 239.5h1.1v1.1h-1.1zM351.5 235h1.1v1.1h-1.1zM354.5 244h1.1v1.1h-1.1zM361.5 236.5h1.1v1.1h-1.1zM346.5 230.5h1.1v1.1h-1.1zM353.5 234.5h1.1v1.1h-1.1zM351.5 253h1.1v1.1h-1.1zM359.5 227.5h1.1v1.1h-1.1zM359 235.5h1.1v1.1h-1.1zM350.5 242h1.1v1.1h-1.1zM354.5 237.5h1.1v1.1h-1.1zM352 242h1.1v1.1h-1.1zM349.5 250.5h1.1v1.1h-1.1zM343 227h1.1v1.1h-1.1zM348 241h1.1v1.1h-1.1zM351.5 242.5h1.1v1.1h-1.1zM347.5 233h1.1v1.1h-1.1zM355.5 238h1.1v1.1h-1.1zM350.5 238h1.1v1.1h-1.1zM365.5 228h1.1v1.1h-1.1zM358.5 242h1.1v1.1h-1.1zM347.5 239.5h1.1v1.1h-1.1zM349.5 244.5h1.1v1.1h-1.1zM347 241.5h1.1v1.1h-1.1zM348.5 237.5h1.1v1.1h-1.1zM356 238h1.1v1.1h-1.1zM357 235h1.1v1.1h-1.1zM358.5 236h1.1v1.1h-1.1zM350.5 235h1.1v1.1h-1.1zM355 232h1.1v1.1h-1.1zM356.5 238h1.1v1.1h-1.1zM359.5 229.5h1.1v1.1h-1.1zM348 233h1.1v1.1h-1.1zM349 234.5h1.1v1.1h-1.1zM352 245h1.1v1.1h-1.1zM356.5 244.5h1.1v1.1h-1.1zM348.5 239h1.1v1.1h-1.1zM349 239.5h1.1v1.1h-1.1zM345 243h1.1v1.1h-1.1zM355.5 236.5h1.1v1.1h-1.1zM346.5 236.5h1.1v1.1h-1.1zM350 237.5h1.1v1.1h-1.1zM351.5 232.5h1.1v1.1h-1.1zM351.5 247h1.1v1.1h-1.1zM348 233.5h1.1v1.1h-1.1zM355 237h1.1v1.1h-1.1zM345 249h1.1v1.1h-1.1zM348.5 237.5h1.1v1.1h-1.1zM351 235.5h1.1v1.1h-1.1zM341 238h1.1v1.1h-1.1zM354.5 231h1.1v1.1h-1.1zM360.5 238.5h1.1v1.1h-1.1zM352.5 231h1.1v1.1h-1.1zM357 239.5h1.1v1.1h-1.1zM355 229h1.1v1.1h-1.1zM348 237.5h1.1v1.1h-1.1zM358.5 225.5h1.1v1.1h-1.1zM348.5 237h1.1v1.1h-1.1zM366 238h1.1v1.1h-1.1zM341.5 237.5h1.1v1.1h-1.1zM354.5 228.5h1.1v1.1h-1.1zM356 237h1.1v1.1h-1.1zM352.5 227.5h1.1v1.1h-1.1zM352 237.5h1.1v1.1h-1.1zM343 239.5h1.1v1.1h-1.1zM344 243h1.1v1.1h-1.1zM354.5 236.5h1.1v1.1h-1.1zM356 234.5h1.1v1.1h-1.1zM348 247h1.1v1.1h-1.1zM348.5 241h1.1v1.1h-1.1zM349.5 235.5h1.1v1.1h-1.1zM360 232h1.1v1.1h-1.1zM360 225h1.1v1.1h-1.1zM349.5 232.5h1.1v1.1h-1.1zM354.5 243h1.1v1.1h-1.1zM349.5 234.5h1.1v1.1h-1.1zM358 228.5h1.1v1.1h-1.1zM351 246h1.1v1.1h-1.1zM359.5 236h1.1v1.1h-1.1zM354 231h1.1v1.1h-1.1zM351.5 235h1.1v1.1h-1.1zM355.5 239h1.1v1.1h-1.1zM347 240.5h1.1v1.1h-1.1zM358 235.5h1.1v1.1h-1.1zM352 236h1.1v1.1h-1.1zM346 235h1.1v1.1h-1.1zM350.5 250h1.1v1.1h-1.1zM354.5 236h1.1v1.1h-1.1zM350.5 240.5h1.1v1.1h-1.1zM358.5 233.5h1.1v1.1h-1.1zM352 241.5h1.1v1.1h-1.1zM341 241.5h1.1v1.1h-1.1zM349.5 242h1.1v1.1h-1.1zM353.5 235.5h1.1v1.1h-1.1zM352 239h1.1v1.1h-1.1zM357 237.5h1.1v1.1h-1.1zM350 231h1.1v1.1h-1.1zM347 240h1.1v1.1h-1.1zM345 244.5h1.1v1.1h-1.1zM353.5 237h1.1v1.1h-1.1zM359 237.5h1.1v1.1h-1.1zM349.5 241.5h1.1v1.1h-1.1zM358.5 233h1.1v1.1h-1.1zM361.5 245.5h1.1v1.1h-1.1zM348 234h1.1v1.1h-1.1zM356 240.5h1.1v1.1h-1.1zM350 253h1.1v1.1h-1.1zM351 251h1.1v1.1h-1.1zM357.5 234.5h1.1v1.1h-1.1zM361 236h1.1v1.1h-1.1zM355 243h1.1v1.1h-1.1zM351.5 231.5h1.1v1.1h-1.1zM351 239.5h1.1v1.1h-1.1zM358 240.5h1.1v1.1h-1.1zM358.5 246.5h1.1v1.1h-1.1zM352 232.5h1.1v1.1h-1.1zM354.5 234.5h1.1v1.1h-1.1zM350.5 242h1.1v1.1h-1.1zM351.5 244h1.1v1.1h-1.1zM352.5 231h1.1v1.1h-1.1zM352 224.5h1.1v1.1h-1.1zM351 237h1.1v1.1h-1.1zM352 237.5h1.1v1.1h-1.1zM364.5 235h1.1v1.1h-1.1zM353 234.5h1.1v1.1h-1.1zM345.5 244h1.1v1.1h-1.1zM349.5 245h1.1v1.1h-1.1zM343 246.5h1.1v1.1h-1.1zM364.5 237h1.1v1.1h-1.1zM353.5 237h1.1v1.1h-1.1zM359 231h1.1v1.1h-1.1zM353 243h1.1v1.1h-1.1zM356.5 223.5h1.1v1.1h-1.1zM351.5 234h1.1v1.1h-1.1zM358 235.5h1.1v1.1h-1.1zM346.5 239.5h1.1v1.1h-1.1zM352.5 243h1.1v1.1h-1.1zM350.5 244h1.1v1.1h-1.1zM360 228.5h1.1v1.1h-1.1zM351.5 243h1.1v1.1h-1.1zM349 246.5h1.1v1.1h-1.1zM349 241h1.1v1.1h-1.1z" fill="#111" fill-opacity="0.96"/>
<path d="M349.5 259h1.1v1.1h-1.1zM352 252h1.1v1.1h-1.1zM349.5 260.5h1.1v1.1h-1.1zM355.5 254.5h1.1v1.1h-1.1zM349.5 252.5h1.1v1.1h-1.1zM356.5 250.5h1.1v1.1h-1.1zM358 247h1.1v1.1h-1.1zM355 263.5h1.1v1.1h-1.1zM358 256h1.1v1.1h-1.1zM351.5 249h1.1v1.1h-1.1zM357 258h1.1v1.1h-1.1zM352.5 256h1.1v1.1h-1.1zM355 259h1.1v1.1h-1.1zM358 244h1.1v1.1h-1.1zM357 255h1.1v1.1h-1.1zM353.5 256.5h1.1v1.1h-1.1zM353.5 264h1.1v1.1h-1.1zM354.5 249h1.1v1.1h-1.1zM353.5 258h1.1v1.1h-1.1zM355.5 259h1.1v1.1h-1.1zM353.5 266h1.1v1.1h-1.1zM350 274h1.1v1.1h-1.1zM352 251.5h1.1v1.1h-1.1zM356.5 266.5h1.1v1.1h-1.1zM358.5 269h1.1v1.1h-1.1zM355.5 259.5h1.1v1.1h-1.1zM355.5 259h1.1v1.1h-1.1zM352 270h1.1v1.1h-1.1zM360.5 259h1.1v1.1h-1.1zM353 255.5h1.1v1.1h-1.1zM348 254h1.1v1.1h-1.1zM352 259h1.1v1.1h-1.1zM350.5 245.5h1.1v1.1h-1.1zM356.5 271h1.1v1.1h-1.1zM346.5 258h1.1v1.1h-1.1zM357 251h1.1v1.1h-1.1zM349 259h1.1v1.1h-1.1zM353 254.5h1.1v1.1h-1.1zM360 269.5h1.1v1.1h-1.1zM356.5 258.5h1.1v1.1h-1.1zM353 265h1.1v1.1h-1.1zM353 269.5h1.1v1.1h-1.1zM358.5 255h1.1v1.1h-1.1zM356.5 270h1.1v1.1h-1.1zM356.5 252.5h1.1v1.1h-1.1zM353 257h1.1v1.1h-1.1zM354.5 259.5h1.1v1.1h-1.1zM353 265h1.1v1.1h-1.1zM359 255.5h1.1v1.1h-1.1zM349 262h1.1v1.1h-1.1zM354 262h1.1v1.1h-1.1zM352 261.5h1.1v1.1h-1.1zM351 267h1.1v1.1h-1.1zM360 253h1.1v1.1h-1.1zM345 256h1.1v1.1h-1.1zM352.5 261h1.1v1.1h-1.1zM354.5 263h1.1v1.1h-1.1zM363.5 255.5h1.1v1.1h-1.1zM353 262.5h1.1v1.1h-1.1zM348 265h1.1v1.1h-1.1zM352 249.5h1.1v1.1h-1.1zM351.5 263h1.1v1.1h-1.1zM357 268h1.1v1.1h-1.1zM356 254.5h1.1v1.1h-1.1zM356 259h1.1v1.1h-1.1zM362.5 245h1.1v1.1h-1.1zM360 265h1.1v1.1h-1.1zM355.5 259h1.1v1.1h-1.1zM352.5 253h1.1v1.1h-1.1zM349 274h1.1v1.1h-1.1zM357.5 264.5h1.1v1.1h-1.1zM355.5 246h1.1v1.1h-1.1zM353.5 260.5h1.1v1.1h-1.1zM358.5 252.5h1.1v1.1h-1.1zM355.5 258h1.1v1.1h-1.1zM354.5 254h1.1v1.1h-1.1zM355.5 260.5h1.1v1.1h-1.1zM348 268h1.1v1.1h-1.1zM362 253.5h1.1v1.1h-1.1zM358.5 253h1.1v1.1h-1.1zM352.5 272h1.1v1.1h-1.1zM355 270.5h1.1v1.1h-1.1zM355.5 267h1.1v1.1h-1.1zM354 270h1.1v1.1h-1.1zM360.5 264.5h1.1v1.1h-1.1zM352.5 257.5h1.1v1.1h-1.1zM351 264h1.1v1.1h-1.1zM356.5 255h1.1v1.1h-1.1zM357.5 256h1.1v1.1h-1.1zM361 265.5h1.1v1.1h-1.1z" fill="#111" fill-opacity="0.72"/>
<path d="M361 234h1.1v1.1h-1.1zM306 240h1.1v1.1h-1.1zM295.5 216.5h1.1v1.1h-1.1zM360 267.5h1.1v1.1h-1.1zM356.5 207.5h1.1v1.1h-1.1zM344 238h1.1v1.1h-1.1zM345.5 229h1.1v1.1h-1.1zM315.5 274.5h1.1v1.1h-1.1zM347 251.5h1.1v1.1h-1.1zM333 226h1.1v1.1h-1.1zM327 271.5h1.1v1.1h-1.1zM360 210.5h1.1v1.1h-1.1zM355 254.5h1.1v1.1h-1.1zM344.5 227.5h1.1v1.1h-1.1z" fill="#111" fill-opacity="0.48"/>
<rect x="287.7" y="200.3" width="90.5" height="83.4" fill="none" stroke="#222" stroke-width="1"/>
<line x1="283.2" y1="283.7" x2="287.7" y2="283.7" stroke="#222" stroke-width="0.8"/>
<line x1="285.5" y1="277.42" x2="287.7" y2="277.42" stroke="#222" stroke-width="0.8"/>
<line x1="285.5" y1="273.75" x2="287.7" y2="273.75" stroke="#222" stroke-width="0.8"/>
<line x1="285.5" y1="271.15" x2="287.7" y2="271.15" stroke="#222" stroke-width="0.8"/>
<line x1="285.5" y1="269.13" x2="287.7" y2="269.13" stroke="#222" stroke-width="0.8"/>
<line x1="285.5" y1="267.48" x2="287.7" y2="267.48" stroke="#222" stroke-width="0.8"/>
<line x1="285.5" y1="266.08" x2="287.7" y2="266.08" stroke="#222" stroke-width="0.8"/>
<line x1="285.5" y1="264.87" x2="287.7" y2="264.87" stroke="#222" stroke-width="0.8"/>
<line x1="285.5" y1="263.8" x2="287.7" y2="263.8" stroke="#222" stroke-width="0.8"/>
<line x1="283.2" y1="262.85" x2="287.7" y2="262.85" stroke="#222" stroke-width="0.8"/>
<line x1="285.5" y1="256.57" x2="287.7" y2="256.57" stroke="#222" stroke-width="0.8"/>
<line x1="285.5" y1="252.9" x2="287.7" y2="252.9" stroke="#222" stroke-width="0.8"/>
<line x1="285.5" y1="250.3" x2="287.7" y2="250.3" stroke="#222" stroke-width="0.8"/>
<line x1="285.5" y1="248.28" x2="287.7" y2="248.28" stroke="#222" stroke-width="0.8"/>
<line x1="285.5" y1="246.63" x2="287.7" y2="246.63" stroke="#222" stroke-width="0.8"/>
<line x1="285.5" y1="245.23" x2="287.7" y2="245.23" stroke="#222" stroke-width="0.8"/>
<line x1="285.5" y1="244.02" x2="287.7" y2="244.02" stroke="#222" stroke-width="0.8"/>
<line x1="285.5" y1="242.95" x2="287.7" y2="242.95" stroke="#222" stroke-width="0.8"/>
<line x1="283.2" y1="242" x2="287.7" y2="242" stroke="#222" stroke-width="0.8"/>
<line x1="285.5" y1="235.72" x2="287.7" y2="235.72" stroke="#222" stroke-width="0.8"/>
<line x1="285.5" y1="232.05" x2="287.7" y2="232.05" stroke="#222" stroke-width="0.8"/>
<line x1="285.5" y1="229.45" x2="287.7" y2="229.45" stroke="#222" stroke-width="0.8"/>
<line x1="285.5" y1="227.43" x2="287.7" y2="227.43" stroke="#222" stroke-width="0.8"/>
<line x1="285.5" y1="225.78" x2="287.7" y2="225.78" stroke="#222" stroke-width="0.8"/>
<line x1="285.5" y1="224.38" x2="287.7" y2="224.38" stroke="#222" stroke-width="0.8"/>
<line x1="285.5" y1="223.17" x2="287.7" y2="223.17" stroke="#222" stroke-width="0.8"/>
<line x1="285.5" y1="222.1" x2="287.7" y2="222.1" stroke="#222" stroke-width="0.8"/>
<line x1="283.2" y1="221.15" x2="287.7" y2="221.15" stroke="#222" stroke-width="0.8"/>
<line x1="285.5" y1="214.87" x2="287.7" y2="214.87" stroke="#222" stroke-width="0.8"/>
<line x1="285.5" y1="211.2" x2="287.7" y2="211.2" stroke="#222" stroke-width="0.8"/>
<line x1="285.5" y1="208.6" x2="287.7" y2="208.6" stroke="#222" stroke-width="0.8"/>
<line x1="285.5" y1="206.58" x2="287.7" y2="206.58" stroke="#222" stroke-width="0.8"/>
<line x1="285.5" y1="204.93" x2="287.7" y2="204.93" stroke="#222" stroke-width="0.8"/>
<line x1="285.5" y1="203.53" x2="287.7" y2="203.53" stroke="#222" stroke-width="0.8"/>
<line x1="285.5" y1="202.32" x2="287.7" y2="202.32" stroke="#222" stroke-width="0.8"/>
<line x1="285.5" y1="201.25" x2="287.7" y2="201.25" stroke="#222" stroke-width="0.8"/>
<line x1="283.2" y1="200.3" x2="287.7" y2="200.3" stroke="#222" stroke-width="0.8"/>
<line x1="287.7" y1="283.7" x2="287.7" y2="287.2" stroke="#222" stroke-width="0.8"/>
<line x1="294.51" y1="283.7" x2="294.51" y2="285.7" stroke="#222" stroke-width="0.8"/>
<line x1="298.49" y1="283.7" x2="298.49" y2="285.7" stroke="#222" stroke-width="0.8"/>
<line x1="301.32" y1="283.7" x2="301.32" y2="285.7" stroke="#222" stroke-width="0.8"/>
<line x1="303.51" y1="283.7" x2="303.51" y2="285.7" stroke="#222" stroke-width="0.8"/>
<line x1="305.31" y1="283.7" x2="305.31" y2="285.7" stroke="#222" stroke-width="0.8"/>
<line x1="306.82" y1="283.7" x2="306.82" y2="285.7" stroke="#222" stroke-width="0.8"/>
<line x1="308.13" y1="283.7" x2="308.13" y2="285.7" stroke="#222" stroke-width="0.8"/>
<line x1="309.29" y1="283.7" x2="309.29" y2="285.7" stroke="#222" stroke-width="0.8"/>
<line x1="310.32" y1="283.7" x2="310.32" y2="287.2" stroke="#222" stroke-width="0.8"/>
<line x1="317.14" y1="283.7" x2="317.14" y2="285.7" stroke="#222" stroke-width="0.8"/>
<line x1="321.12" y1="283.7" x2="321.12" y2="285.7" stroke="#222" stroke-width="0.8"/>
<line x1="323.95" y1="283.7" x2="323.95" y2="285.7" stroke="#222" stroke-width="0.8"/>
<line x1="326.14" y1="283.7" x2="326.14" y2="285.7" stroke="#222" stroke-width="0.8"/>
<line x1="327.93" y1="283.7" x2="327.93" y2="285.7" stroke="#222" stroke-width="0.8"/>
<line x1="329.45" y1="283.7" x2="329.45" y2="285.7" stroke="#222" stroke-width="0.8"/>
<line x1="330.76" y1="283.7" x2="330.76" y2="285.7" stroke="#222" stroke-width="0.8"/>
<line x1="331.91" y1="283.7" x2="331.91" y2="285.7" stroke="#222" stroke-width="0.8"/>
<line x1="332.95" y1="283.7" x2="332.95" y2="287.2" stroke="#222" stroke-width="0.8"/>
<line x1="339.76" y1="283.7" x2="339.76" y2="285.7" stroke="#222" stroke-width="0.8"/>
<line x1="343.74" y1="283.7" x2="343.74" y2="285.7" stroke="#222" stroke-width="0.8"/>
<line x1="346.57" y1="283.7" x2="346.57" y2="285.7" stroke="#222" stroke-width="0.8"/>
<line x1="348.76" y1="283.7" x2="348.76" y2="285.7" stroke="#222" stroke-width="0.8"/>
<line x1="350.56" y1="283.7" x2="350.56" y2="285.7" stroke="#222" stroke-width="0.8"/>
<line x1="352.07" y1="283.7" x2="352.07" y2="285.7" stroke="#222" stroke-width="0.8"/>
<line x1="353.38" y1="283.7" x2="353.38" y2="285.7" stroke="#222" stroke-width="0.8"/>
<line x1="354.54" y1="283.7" x2="354.54" y2="285.7" stroke="#222" stroke-width="0.8"/>
<line x1="355.57" y1="283.7" x2="355.57" y2="287.2" stroke="#222" stroke-width="0.8"/>
<line x1="362.39" y1="283.7" x2="362.39" y2="285.7" stroke="#222" stroke-width="0.8"/>
<line x1="366.37" y1="283.7" x2="366.37" y2="285.7" stroke="#222" stroke-width="0.8"/>
<line x1="369.2" y1="283.7" x2="369.2" y2="285.7" stroke="#222" stroke-width="0.8"/>
<line x1="371.39" y1="283.7" x2="371.39" y2="285.7" stroke="#222" stroke-width="0.8"/>
<line x1="373.18" y1="283.7" x2="373.18" y2="285.7" stroke="#222" stroke-width="0.8"/>
<line x1="374.7" y1="283.7" x2="374.7" y2="285.7" stroke="#222" stroke-width="0.8"/>
<line x1="376.01" y1="283.7" x2="376.01" y2="285.7" stroke="#222" stroke-width="0.8"/>
<line x1="377.16" y1="283.7" x2="377.16" y2="285.7" stroke="#222" stroke-width="0.8"/>
<line x1="378.2" y1="283.7" x2="378.2" y2="287.2" stroke="#222" stroke-width="0.8"/>
<text x="293.4" y="191.3" font-size="9.5" stroke="#000" stroke-width="0.3" textLength="69.6" lengthAdjust="spacingAndGlyphs">Spleen: Vβ2 +ve</text>
<rect x="289.2" y="219.9" width="55.1" height="29.3" fill="none" stroke="#444" stroke-width="1"/>
<line x1="289.6" y1="219.9" x2="289.6" y2="249.2" stroke="#777" stroke-width="1.6"/>
<rect x="344.3" y="212.3" width="32.7" height="36.9" fill="none" stroke="#444" stroke-width="1"/>
<rect x="333.4" y="249.2" width="43.6" height="31.2" fill="none" stroke="#444" stroke-width="1"/>
<text x="289.2" y="218.3" font-size="8.3" stroke="#000" stroke-width="0.3" font-weight="bold" textLength="11.5" lengthAdjust="spacingAndGlyphs">1.6</text>
<text x="374" y="210.6" font-size="8.3" stroke="#000" stroke-width="0.3" font-weight="bold" text-anchor="end" textLength="16.5" lengthAdjust="spacingAndGlyphs">86.1</text>
<text x="374" y="278.9" font-size="8.3" stroke="#000" stroke-width="0.3" font-weight="bold" text-anchor="end" textLength="16.8" lengthAdjust="spacingAndGlyphs">10.3</text>
<path d="M458.5 245.5h1.1v1.1h-1.1zM464 227h1.1v1.1h-1.1zM458 244.5h1.1v1.1h-1.1zM465.5 235.5h1.1v1.1h-1.1zM465.5 241h1.1v1.1h-1.1zM467.5 237h1.1v1.1h-1.1zM458 250.5h1.1v1.1h-1.1zM459.5 237.5h1.1v1.1h-1.1zM461.5 246h1.1v1.1h-1.1zM463 241h1.1v1.1h-1.1zM455 237.5h1.1v1.1h-1.1zM455.5 239h1.1v1.1h-1.1zM446 246h1.1v1.1h-1.1zM466.5 248.5h1.1v1.1h-1.1zM459 237h1.1v1.1h-1.1zM462 247.5h1.1v1.1h-1.1zM453.5 248h1.1v1.1h-1.1zM461.5 246.5h1.1v1.1h-1.1zM459.5 240.5h1.1v1.1h-1.1zM457.5 241h1.1v1.1h-1.1zM454 247.5h1.1v1.1h-1.1zM460.5 242.5h1.1v1.1h-1.1zM461 244h1.1v1.1h-1.1zM450.5 246.5h1.1v1.1h-1.1zM463.5 237.5h1.1v1.1h-1.1zM460 234.5h1.1v1.1h-1.1zM458.5 240h1.1v1.1h-1.1zM457 240h1.1v1.1h-1.1zM464.5 236.5h1.1v1.1h-1.1zM470 245h1.1v1.1h-1.1zM462 242.5h1.1v1.1h-1.1zM457.5 245.5h1.1v1.1h-1.1zM466.5 243.5h1.1v1.1h-1.1zM455.5 243h1.1v1.1h-1.1zM452 237.5h1.1v1.1h-1.1zM459 243h1.1v1.1h-1.1zM457 234.5h1.1v1.1h-1.1zM459 235h1.1v1.1h-1.1zM464 241h1.1v1.1h-1.1zM454 247.5h1.1v1.1h-1.1zM469 227h1.1v1.1h-1.1zM455.5 241.5h1.1v1.1h-1.1zM462 243h1.1v1.1h-1.1zM465.5 235h1.1v1.1h-1.1zM465.5 232.5h1.1v1.1h-1.1zM461.5 232.5h1.1v1.1h-1.1zM459 236.5h1.1v1.1h-1.1zM463.5 234.5h1.1v1.1h-1.1zM467 240h1.1v1.1h-1.1zM463 250.5h1.1v1.1h-1.1zM453 244h1.1v1.1h-1.1zM450 247h1.1v1.1h-1.1zM466 234.5h1.1v1.1h-1.1zM454 232.5h1.1v1.1h-1.1zM451.5 244.5h1.1v1.1h-1.1zM457 236h1.1v1.1h-1.1zM463 241.5h1.1v1.1h-1.1zM463 239h1.1v1.1h-1.1zM467.5 235.5h1.1v1.1h-1.1zM468 233h1.1v1.1h-1.1zM466 232.5h1.1v1.1h-1.1zM458 243.5h1.1v1.1h-1.1zM473 230.5h1.1v1.1h-1.1zM462 231.5h1.1v1.1h-1.1zM469 236.5h1.1v1.1h-1.1zM465.5 238h1.1v1.1h-1.1zM455 237.5h1.1v1.1h-1.1zM453.5 242.5h1.1v1.1h-1.1zM459 251h1.1v1.1h-1.1zM451 248.5h1.1v1.1h-1.1zM472 230h1.1v1.1h-1.1zM463 256.5h1.1v1.1h-1.1zM455.5 240h1.1v1.1h-1.1zM456.5 236h1.1v1.1h-1.1zM459.5 244.5h1.1v1.1h-1.1zM458 238h1.1v1.1h-1.1zM456 240.5h1.1v1.1h-1.1zM463.5 242h1.1v1.1h-1.1zM462.5 247.5h1.1v1.1h-1.1zM458 248.5h1.1v1.1h-1.1zM456.5 237h1.1v1.1h-1.1zM454.5 236h1.1v1.1h-1.1zM456 244.5h1.1v1.1h-1.1zM462 234.5h1.1v1.1h-1.1zM461 239h1.1v1.1h-1.1zM466.5 235h1.1v1.1h-1.1zM461.5 225.5h1.1v1.1h-1.1zM470.5 234h1.1v1.1h-1.1zM463.5 231.5h1.1v1.1h-1.1zM466.5 238h1.1v1.1h-1.1zM468.5 238h1.1v1.1h-1.1zM459 245.5h1.1v1.1h-1.1zM469.5 234h1.1v1.1h-1.1zM460 238.5h1.1v1.1h-1.1zM451 240.5h1.1v1.1h-1.1zM460.5 244.5h1.1v1.1h-1.1zM455 238h1.1v1.1h-1.1zM458.5 248h1.1v1.1h-1.1zM456.5 243.5h1.1v1.1h-1.1zM470.5 241.5h1.1v1.1h-1.1zM460.5 237h1.1v1.1h-1.1zM456.5 234h1.1v1.1h-1.1zM471 237h1.1v1.1h-1.1zM455.5 247.5h1.1v1.1h-1.1zM462.5 243h1.1v1.1h-1.1zM460 238.5h1.1v1.1h-1.1zM458.5 244.5h1.1v1.1h-1.1zM457.5 246.5h1.1v1.1h-1.1zM450.5 241.5h1.1v1.1h-1.1zM459 239h1.1v1.1h-1.1z" fill="#111" fill-opacity="0.72"/>
<path d="M435 246.5h1.1v1.1h-1.1zM438.5 246.5h1.1v1.1h-1.1zM430.5 244.5h1.1v1.1h-1.1zM454.5 248.5h1.1v1.1h-1.1zM436 244.5h1.1v1.1h-1.1zM435.5 243.5h1.1v1.1h-1.1zM440 249h1.1v1.1h-1.1zM447 250h1.1v1.1h-1.1zM458 239h1.1v1.1h-1.1zM443.5 242h1.1v1.1h-1.1zM421 239.5h1.1v1.1h-1.1zM434 250.5h1.1v1.1h-1.1zM441 243.5h1.1v1.1h-1.1zM439.5 241h1.1v1.1h-1.1zM442 243.5h1.1v1.1h-1.1zM421 242h1.1v1.1h-1.1zM479.5 246.5h1.1v1.1h-1.1zM439 246.5h1.1v1.1h-1.1zM428.5 244.5h1.1v1.1h-1.1zM450.5 237.5h1.1v1.1h-1.1zM431.5 242.5h1.1v1.1h-1.1zM436.5 242h1.1v1.1h-1.1zM443.5 248h1.1v1.1h-1.1zM444 248h1.1v1.1h-1.1zM452.5 241.5h1.1v1.1h-1.1zM443.5 242.5h1.1v1.1h-1.1zM448 242.5h1.1v1.1h-1.1zM438 250.5h1.1v1.1h-1.1zM438 238h1.1v1.1h-1.1zM441.5 245h1.1v1.1h-1.1zM434 244.5h1.1v1.1h-1.1zM452 242h1.1v1.1h-1.1zM438 241.5h1.1v1.1h-1.1zM444 243.5h1.1v1.1h-1.1zM429.5 243.5h1.1v1.1h-1.1zM461.5 237.5h1.1v1.1h-1.1zM424 245.5h1.1v1.1h-1.1zM424 251.5h1.1v1.1h-1.1zM422.5 239h1.1v1.1h-1.1zM434 248.5h1.1v1.1h-1.1zM449.5 246.5h1.1v1.1h-1.1zM443.5 249h1.1v1.1h-1.1zM419 245h1.1v1.1h-1.1zM457 240h1.1v1.1h-1.1zM444 249h1.1v1.1h-1.1zM455 243.5h1.1v1.1h-1.1zM462 246h1.1v1.1h-1.1zM452.5 240h1.1v1.1h-1.1zM431.5 241h1.1v1.1h-1.1zM461 235h1.1v1.1h-1.1z" fill="#111" fill-opacity="0.54"/>
<path d="M450 269h1.1v1.1h-1.1zM460 236h1.1v1.1h-1.1zM457 259.5h1.1v1.1h-1.1zM465 245.5h1.1v1.1h-1.1zM456.5 271.5h1.1v1.1h-1.1zM463 254h1.1v1.1h-1.1zM457.5 249h1.1v1.1h-1.1zM465.5 258.5h1.1v1.1h-1.1zM465.5 269h1.1v1.1h-1.1zM455 261h1.1v1.1h-1.1zM462 266h1.1v1.1h-1.1zM466.5 272h1.1v1.1h-1.1zM460.5 268h1.1v1.1h-1.1zM455.5 257h1.1v1.1h-1.1zM462 265h1.1v1.1h-1.1zM453.5 261.5h1.1v1.1h-1.1zM455 257.5h1.1v1.1h-1.1zM465.5 254h1.1v1.1h-1.1zM456 267h1.1v1.1h-1.1zM459.5 263.5h1.1v1.1h-1.1zM452 262h1.1v1.1h-1.1zM457.5 255h1.1v1.1h-1.1zM456.5 259.5h1.1v1.1h-1.1zM463 278.5h1.1v1.1h-1.1zM459.5 275h1.1v1.1h-1.1zM459.5 249.5h1.1v1.1h-1.1zM459.5 273.5h1.1v1.1h-1.1zM466 254.5h1.1v1.1h-1.1zM470 256h1.1v1.1h-1.1zM455.5 258h1.1v1.1h-1.1zM466 266h1.1v1.1h-1.1zM463.5 243h1.1v1.1h-1.1zM459 261.5h1.1v1.1h-1.1zM462.5 258.5h1.1v1.1h-1.1zM465 256.5h1.1v1.1h-1.1zM452.5 248h1.1v1.1h-1.1zM465.5 269h1.1v1.1h-1.1zM455.5 272h1.1v1.1h-1.1zM458.5 261.5h1.1v1.1h-1.1zM452 257.5h1.1v1.1h-1.1zM459.5 264h1.1v1.1h-1.1zM456.5 271h1.1v1.1h-1.1zM466 255.5h1.1v1.1h-1.1zM461 249h1.1v1.1h-1.1zM461 254h1.1v1.1h-1.1zM458.5 264h1.1v1.1h-1.1zM458 271.5h1.1v1.1h-1.1zM455.5 258.5h1.1v1.1h-1.1zM461 262h1.1v1.1h-1.1zM460.5 260.5h1.1v1.1h-1.1zM455.5 268h1.1v1.1h-1.1zM459.5 270.5h1.1v1.1h-1.1zM465.5 259.5h1.1v1.1h-1.1zM455.5 258.5h1.1v1.1h-1.1zM456 245h1.1v1.1h-1.1zM467 266h1.1v1.1h-1.1zM470.5 257.5h1.1v1.1h-1.1zM462 265h1.1v1.1h-1.1zM459 271h1.1v1.1h-1.1zM459.5 262h1.1v1.1h-1.1zM460 243h1.1v1.1h-1.1zM456 256h1.1v1.1h-1.1zM467 267.5h1.1v1.1h-1.1zM463 268h1.1v1.1h-1.1zM458.5 277h1.1v1.1h-1.1zM458.5 250.5h1.1v1.1h-1.1zM462.5 272.5h1.1v1.1h-1.1zM460 265.5h1.1v1.1h-1.1zM464 276h1.1v1.1h-1.1zM462 277h1.1v1.1h-1.1z" fill="#111" fill-opacity="0.6"/>
<rect x="400.4" y="200.4" width="91.2" height="83.2" fill="none" stroke="#222" stroke-width="1"/>
<line x1="395.9" y1="283.6" x2="400.4" y2="283.6" stroke="#222" stroke-width="0.8"/>
<line x1="398.2" y1="277.34" x2="400.4" y2="277.34" stroke="#222" stroke-width="0.8"/>
<line x1="398.2" y1="273.68" x2="400.4" y2="273.68" stroke="#222" stroke-width="0.8"/>
<line x1="398.2" y1="271.08" x2="400.4" y2="271.08" stroke="#222" stroke-width="0.8"/>
<line x1="398.2" y1="269.06" x2="400.4" y2="269.06" stroke="#222" stroke-width="0.8"/>
<line x1="398.2" y1="267.41" x2="400.4" y2="267.41" stroke="#222" stroke-width="0.8"/>
<line x1="398.2" y1="266.02" x2="400.4" y2="266.02" stroke="#222" stroke-width="0.8"/>
<line x1="398.2" y1="264.82" x2="400.4" y2="264.82" stroke="#222" stroke-width="0.8"/>
<line x1="398.2" y1="263.75" x2="400.4" y2="263.75" stroke="#222" stroke-width="0.8"/>
<line x1="395.9" y1="262.8" x2="400.4" y2="262.8" stroke="#222" stroke-width="0.8"/>
<line x1="398.2" y1="256.54" x2="400.4" y2="256.54" stroke="#222" stroke-width="0.8"/>
<line x1="398.2" y1="252.88" x2="400.4" y2="252.88" stroke="#222" stroke-width="0.8"/>
<line x1="398.2" y1="250.28" x2="400.4" y2="250.28" stroke="#222" stroke-width="0.8"/>
<line x1="398.2" y1="248.26" x2="400.4" y2="248.26" stroke="#222" stroke-width="0.8"/>
<line x1="398.2" y1="246.61" x2="400.4" y2="246.61" stroke="#222" stroke-width="0.8"/>
<line x1="398.2" y1="245.22" x2="400.4" y2="245.22" stroke="#222" stroke-width="0.8"/>
<line x1="398.2" y1="244.02" x2="400.4" y2="244.02" stroke="#222" stroke-width="0.8"/>
<line x1="398.2" y1="242.95" x2="400.4" y2="242.95" stroke="#222" stroke-width="0.8"/>
<line x1="395.9" y1="242" x2="400.4" y2="242" stroke="#222" stroke-width="0.8"/>
<line x1="398.2" y1="235.74" x2="400.4" y2="235.74" stroke="#222" stroke-width="0.8"/>
<line x1="398.2" y1="232.08" x2="400.4" y2="232.08" stroke="#222" stroke-width="0.8"/>
<line x1="398.2" y1="229.48" x2="400.4" y2="229.48" stroke="#222" stroke-width="0.8"/>
<line x1="398.2" y1="227.46" x2="400.4" y2="227.46" stroke="#222" stroke-width="0.8"/>
<line x1="398.2" y1="225.81" x2="400.4" y2="225.81" stroke="#222" stroke-width="0.8"/>
<line x1="398.2" y1="224.42" x2="400.4" y2="224.42" stroke="#222" stroke-width="0.8"/>
<line x1="398.2" y1="223.22" x2="400.4" y2="223.22" stroke="#222" stroke-width="0.8"/>
<line x1="398.2" y1="222.15" x2="400.4" y2="222.15" stroke="#222" stroke-width="0.8"/>
<line x1="395.9" y1="221.2" x2="400.4" y2="221.2" stroke="#222" stroke-width="0.8"/>
<line x1="398.2" y1="214.94" x2="400.4" y2="214.94" stroke="#222" stroke-width="0.8"/>
<line x1="398.2" y1="211.28" x2="400.4" y2="211.28" stroke="#222" stroke-width="0.8"/>
<line x1="398.2" y1="208.68" x2="400.4" y2="208.68" stroke="#222" stroke-width="0.8"/>
<line x1="398.2" y1="206.66" x2="400.4" y2="206.66" stroke="#222" stroke-width="0.8"/>
<line x1="398.2" y1="205.01" x2="400.4" y2="205.01" stroke="#222" stroke-width="0.8"/>
<line x1="398.2" y1="203.62" x2="400.4" y2="203.62" stroke="#222" stroke-width="0.8"/>
<line x1="398.2" y1="202.42" x2="400.4" y2="202.42" stroke="#222" stroke-width="0.8"/>
<line x1="398.2" y1="201.35" x2="400.4" y2="201.35" stroke="#222" stroke-width="0.8"/>
<line x1="395.9" y1="200.4" x2="400.4" y2="200.4" stroke="#222" stroke-width="0.8"/>
<line x1="400.4" y1="283.6" x2="400.4" y2="287.1" stroke="#222" stroke-width="0.8"/>
<line x1="407.26" y1="283.6" x2="407.26" y2="285.6" stroke="#222" stroke-width="0.8"/>
<line x1="411.28" y1="283.6" x2="411.28" y2="285.6" stroke="#222" stroke-width="0.8"/>
<line x1="414.13" y1="283.6" x2="414.13" y2="285.6" stroke="#222" stroke-width="0.8"/>
<line x1="416.34" y1="283.6" x2="416.34" y2="285.6" stroke="#222" stroke-width="0.8"/>
<line x1="418.14" y1="283.6" x2="418.14" y2="285.6" stroke="#222" stroke-width="0.8"/>
<line x1="419.67" y1="283.6" x2="419.67" y2="285.6" stroke="#222" stroke-width="0.8"/>
<line x1="420.99" y1="283.6" x2="420.99" y2="285.6" stroke="#222" stroke-width="0.8"/>
<line x1="422.16" y1="283.6" x2="422.16" y2="285.6" stroke="#222" stroke-width="0.8"/>
<line x1="423.2" y1="283.6" x2="423.2" y2="287.1" stroke="#222" stroke-width="0.8"/>
<line x1="430.06" y1="283.6" x2="430.06" y2="285.6" stroke="#222" stroke-width="0.8"/>
<line x1="434.08" y1="283.6" x2="434.08" y2="285.6" stroke="#222" stroke-width="0.8"/>
<line x1="436.93" y1="283.6" x2="436.93" y2="285.6" stroke="#222" stroke-width="0.8"/>
<line x1="439.14" y1="283.6" x2="439.14" y2="285.6" stroke="#222" stroke-width="0.8"/>
<line x1="440.94" y1="283.6" x2="440.94" y2="285.6" stroke="#222" stroke-width="0.8"/>
<line x1="442.47" y1="283.6" x2="442.47" y2="285.6" stroke="#222" stroke-width="0.8"/>
<line x1="443.79" y1="283.6" x2="443.79" y2="285.6" stroke="#222" stroke-width="0.8"/>
<line x1="444.96" y1="283.6" x2="444.96" y2="285.6" stroke="#222" stroke-width="0.8"/>
<line x1="446" y1="283.6" x2="446" y2="287.1" stroke="#222" stroke-width="0.8"/>
<line x1="452.86" y1="283.6" x2="452.86" y2="285.6" stroke="#222" stroke-width="0.8"/>
<line x1="456.88" y1="283.6" x2="456.88" y2="285.6" stroke="#222" stroke-width="0.8"/>
<line x1="459.73" y1="283.6" x2="459.73" y2="285.6" stroke="#222" stroke-width="0.8"/>
<line x1="461.94" y1="283.6" x2="461.94" y2="285.6" stroke="#222" stroke-width="0.8"/>
<line x1="463.74" y1="283.6" x2="463.74" y2="285.6" stroke="#222" stroke-width="0.8"/>
<line x1="465.27" y1="283.6" x2="465.27" y2="285.6" stroke="#222" stroke-width="0.8"/>
<line x1="466.59" y1="283.6" x2="466.59" y2="285.6" stroke="#222" stroke-width="0.8"/>
<line x1="467.76" y1="283.6" x2="467.76" y2="285.6" stroke="#222" stroke-width="0.8"/>
<line x1="468.8" y1="283.6" x2="468.8" y2="287.1" stroke="#222" stroke-width="0.8"/>
<line x1="475.66" y1="283.6" x2="475.66" y2="285.6" stroke="#222" stroke-width="0.8"/>
<line x1="479.68" y1="283.6" x2="479.68" y2="285.6" stroke="#222" stroke-width="0.8"/>
<line x1="482.53" y1="283.6" x2="482.53" y2="285.6" stroke="#222" stroke-width="0.8"/>
<line x1="484.74" y1="283.6" x2="484.74" y2="285.6" stroke="#222" stroke-width="0.8"/>
<line x1="486.54" y1="283.6" x2="486.54" y2="285.6" stroke="#222" stroke-width="0.8"/>
<line x1="488.07" y1="283.6" x2="488.07" y2="285.6" stroke="#222" stroke-width="0.8"/>
<line x1="489.39" y1="283.6" x2="489.39" y2="285.6" stroke="#222" stroke-width="0.8"/>
<line x1="490.56" y1="283.6" x2="490.56" y2="285.6" stroke="#222" stroke-width="0.8"/>
<line x1="491.6" y1="283.6" x2="491.6" y2="287.1" stroke="#222" stroke-width="0.8"/>
<text x="411.6" y="191.3" font-size="9.5" stroke="#000" stroke-width="0.3" textLength="54.4" lengthAdjust="spacingAndGlyphs">BM: Vβ2 +ve</text>
<rect x="401.9" y="220.2" width="55.4" height="28.7" fill="none" stroke="#444" stroke-width="1"/>
<line x1="402.3" y1="220.2" x2="402.3" y2="248.9" stroke="#777" stroke-width="1.6"/>
<rect x="457.3" y="212.4" width="33.1" height="36.5" fill="none" stroke="#444" stroke-width="1"/>
<rect x="446.5" y="248.9" width="43.9" height="31.5" fill="none" stroke="#444" stroke-width="1"/>
<text x="402.4" y="218.6" font-size="8.3" stroke="#000" stroke-width="0.3" font-weight="bold" textLength="16.3" lengthAdjust="spacingAndGlyphs">10.3</text>
<text x="487.4" y="210.7" font-size="8.3" stroke="#000" stroke-width="0.3" font-weight="bold" text-anchor="end" textLength="15.7" lengthAdjust="spacingAndGlyphs">48.4</text>
<text x="487.4" y="278.9" font-size="8.3" stroke="#000" stroke-width="0.3" font-weight="bold" text-anchor="end" textLength="15.8" lengthAdjust="spacingAndGlyphs">37.1</text>
<text x="500.1" y="249.7" font-size="10" stroke="#000" stroke-width="0.3" textLength="15.2" lengthAdjust="spacingAndGlyphs">n=4</text>
<text x="36.6" y="326" font-size="14.2" stroke="#000" stroke-width="0.3" font-weight="bold">C</text>
<text x="148" y="330.2" font-size="9.5" stroke="#000" stroke-width="0.3" text-anchor="middle" textLength="76.9" lengthAdjust="spacingAndGlyphs">% antigen specific</text>
<text x="147.5" y="341.4" font-size="9.5" stroke="#000" stroke-width="0.3" text-anchor="middle" textLength="75.8" lengthAdjust="spacingAndGlyphs">in vivo cytotoxicity</text>
<line x1="98.25" y1="360.2" x2="98.25" y2="460.3" stroke="#000" stroke-width="1.5"/>
<line x1="97.5" y1="459.6" x2="193" y2="459.6" stroke="#000" stroke-width="1.5"/>
<line x1="94.7" y1="360.7" x2="98.25" y2="360.7" stroke="#000" stroke-width="1.2"/>
<text x="92.9" y="363.25" font-size="7" stroke="#000" stroke-width="0.3" font-weight="bold" text-anchor="end" textLength="11.8" lengthAdjust="spacingAndGlyphs">100</text>
<line x1="94.7" y1="380.6" x2="98.25" y2="380.6" stroke="#000" stroke-width="1.2"/>
<text x="92.9" y="383.15" font-size="7" stroke="#000" stroke-width="0.3" font-weight="bold" text-anchor="end" textLength="7.9" lengthAdjust="spacingAndGlyphs">98</text>
<line x1="94.7" y1="400" x2="98.25" y2="400" stroke="#000" stroke-width="1.2"/>
<text x="92.9" y="402.55" font-size="7" stroke="#000" stroke-width="0.3" font-weight="bold" text-anchor="end" textLength="7.9" lengthAdjust="spacingAndGlyphs">96</text>
<line x1="94.7" y1="419.8" x2="98.25" y2="419.8" stroke="#000" stroke-width="1.2"/>
<text x="92.9" y="422.35" font-size="7" stroke="#000" stroke-width="0.3" font-weight="bold" text-anchor="end" textLength="7.9" lengthAdjust="spacingAndGlyphs">94</text>
<line x1="94.7" y1="439.4" x2="98.25" y2="439.4" stroke="#000" stroke-width="1.2"/>
<text x="92.9" y="441.95" font-size="7" stroke="#000" stroke-width="0.3" font-weight="bold" text-anchor="end" textLength="7.9" lengthAdjust="spacingAndGlyphs">92</text>
<line x1="94.7" y1="459.5" x2="98.25" y2="459.5" stroke="#000" stroke-width="1.2"/>
<text x="92.9" y="462.05" font-size="7" stroke="#000" stroke-width="0.3" font-weight="bold" text-anchor="end" textLength="7.9" lengthAdjust="spacingAndGlyphs">90</text>
<line x1="146.25" y1="459.6" x2="146.25" y2="464.4" stroke="#000" stroke-width="1.2"/>
<line x1="114.25" y1="372" x2="177" y2="372" stroke="#888" stroke-width="1.8"/>
<line x1="146.25" y1="361.25" x2="146.25" y2="381.75" stroke="#000" stroke-width="1"/>
<line x1="130.75" y1="361.25" x2="162.5" y2="361.25" stroke="#000" stroke-width="1"/>
<line x1="130.75" y1="381.75" x2="162.5" y2="381.75" stroke="#000" stroke-width="1"/>
<circle cx="142.5" cy="361.25" r="2.4" fill="#000"/>
<circle cx="149.25" cy="361.25" r="2.4" fill="#000"/>
<circle cx="146.25" cy="392.5" r="2.4" fill="#000"/>
<text x="302.1" y="330.6" font-size="9.5" stroke="#000" stroke-width="0.3" text-anchor="middle" textLength="65.5" lengthAdjust="spacingAndGlyphs">antigen specific</text>
<text x="302.2" y="341.2" font-size="9.5" stroke="#000" stroke-width="0.3" text-anchor="middle" textLength="81.9" lengthAdjust="spacingAndGlyphs">ex-vivo proliferation</text>
<text x="220.2" y="392" font-size="9" stroke="#000" stroke-width="0.3" font-weight="bold" text-anchor="middle" textLength="32.7" lengthAdjust="spacingAndGlyphs" transform="rotate(-90 220.2 392)">% of Max</text>
<line x1="252.2" y1="434.63" x2="254.3" y2="434.63" stroke="#000" stroke-width="0.9"/>
<line x1="252.2" y1="430.26" x2="254.3" y2="430.26" stroke="#000" stroke-width="0.9"/>
<line x1="252.2" y1="425.89" x2="254.3" y2="425.89" stroke="#000" stroke-width="0.9"/>
<line x1="249.4" y1="421.52" x2="254.3" y2="421.52" stroke="#000" stroke-width="1"/>
<text x="246.4" y="424.02" font-size="7" stroke="#000" stroke-width="0.3" font-weight="bold" text-anchor="end" textLength="7.7" lengthAdjust="spacingAndGlyphs">20</text>
<line x1="252.2" y1="417.15" x2="254.3" y2="417.15" stroke="#000" stroke-width="0.9"/>
<line x1="252.2" y1="412.78" x2="254.3" y2="412.78" stroke="#000" stroke-width="0.9"/>
<line x1="252.2" y1="408.41" x2="254.3" y2="408.41" stroke="#000" stroke-width="0.9"/>
<line x1="249.4" y1="404.04" x2="254.3" y2="404.04" stroke="#000" stroke-width="1"/>
<text x="246.4" y="406.54" font-size="7" stroke="#000" stroke-width="0.3" font-weight="bold" text-anchor="end" textLength="7.7" lengthAdjust="spacingAndGlyphs">40</text>
<line x1="252.2" y1="399.67" x2="254.3" y2="399.67" stroke="#000" stroke-width="0.9"/>
<line x1="252.2" y1="395.3" x2="254.3" y2="395.3" stroke="#000" stroke-width="0.9"/>
<line x1="252.2" y1="390.93" x2="254.3" y2="390.93" stroke="#000" stroke-width="0.9"/>
<line x1="249.4" y1="386.56" x2="254.3" y2="386.56" stroke="#000" stroke-width="1"/>
<text x="246.4" y="389.06" font-size="7" stroke="#000" stroke-width="0.3" font-weight="bold" text-anchor="end" textLength="7.7" lengthAdjust="spacingAndGlyphs">60</text>
<line x1="252.2" y1="382.19" x2="254.3" y2="382.19" stroke="#000" stroke-width="0.9"/>
<line x1="252.2" y1="377.82" x2="254.3" y2="377.82" stroke="#000" stroke-width="0.9"/>
<line x1="252.2" y1="373.45" x2="254.3" y2="373.45" stroke="#000" stroke-width="0.9"/>
<line x1="249.4" y1="369.08" x2="254.3" y2="369.08" stroke="#000" stroke-width="1"/>
<text x="246.4" y="371.58" font-size="7" stroke="#000" stroke-width="0.3" font-weight="bold" text-anchor="end" textLength="7.7" lengthAdjust="spacingAndGlyphs">80</text>
<line x1="252.2" y1="364.71" x2="254.3" y2="364.71" stroke="#000" stroke-width="0.9"/>
<line x1="252.2" y1="360.34" x2="254.3" y2="360.34" stroke="#000" stroke-width="0.9"/>
<line x1="252.2" y1="355.97" x2="254.3" y2="355.97" stroke="#000" stroke-width="0.9"/>
<line x1="249.4" y1="351.6" x2="254.3" y2="351.6" stroke="#000" stroke-width="1"/>
<text x="246.4" y="354.1" font-size="7" stroke="#000" stroke-width="0.3" font-weight="bold" text-anchor="end" textLength="11.7" lengthAdjust="spacingAndGlyphs">100</text>
<polygon points="291,438.6 294,436.5 297,433 300,429.5 302.5,428.3 305,429.5 309,432 313,434 319,435.5 324,437 328,437.8 331,436.5 334.3,433.5 337,432.5 340.6,430.8 342.5,428 343.8,418.1 344.3,405 345.1,386 345.6,369 346.3,357 346.9,353.2 347.6,357 348.3,369 349.4,390 349.8,405 350.4,400 351.2,396 351.8,405 352.2,420 352.6,438.6" fill="#6f6f6f" stroke="none" stroke-width="1"/>
<polyline points="255.6,436.5 256.8,436.3 258,435.5 259.02,437 260.05,433.61 261.08,435.25 262.1,434 263.15,434.08 264.2,433.71 265.25,432.27 266.3,433.1 267.55,432.84 268.8,430.6 270.05,427.14 271.3,423.9 273,419.7 274.25,414.24 275.5,410.4 276.9,404 277.9,402.96 278.9,402.9 279.7,396.1 281.4,389.4 283.1,391.9 284.8,385.2 286.5,376.8 288.1,373.4 289.8,376.8 291.5,370.9 293.2,381.8 294.9,373.4 296.5,376.8 298.2,383.5 299.45,385.05 300.7,386.9 301.73,387.71 302.77,387.5 303.8,388.9 305.1,402.9 306.1,407.3 307,404.8 308.9,406.7 310.8,408.6 312.7,410.5 314,416.8 315.9,421.3 317.8,424.4 319,422.5 320.12,421.76 321.25,422.92 322.38,422.49 323.5,422.5 324.8,425.1 326.7,429.5 328.6,429.5 329.8,428 330.5,430.2 331.6,432.03 332.7,430.04 333.8,431.12 334.9,430.5 336.8,432.7 338.1,434.46 339.4,433.1 340.6,430.8 342.5,430.2 344.4,423.2 346.3,414.3 347.6,413.3 348.9,418.1 350.2,421.9 351.4,423.8 352.3,426" fill="none" stroke="#000" stroke-width="1.9" stroke-linejoin="round"/>
<line x1="255.1" y1="389" x2="255.1" y2="438.6" stroke="#000" stroke-width="1.8"/>
<line x1="353.2" y1="348.6" x2="353.2" y2="438.6" stroke="#000" stroke-width="2.2"/>
<rect x="254.3" y="346.1" width="99.5" height="92.5" fill="none" stroke="#000" stroke-width="0.9"/>
<line x1="254.8" y1="438.6" x2="254.8" y2="442.1" stroke="#000" stroke-width="0.9"/>
<line x1="262.11" y1="438.6" x2="262.11" y2="440.6" stroke="#000" stroke-width="0.9"/>
<line x1="266.38" y1="438.6" x2="266.38" y2="440.6" stroke="#000" stroke-width="0.9"/>
<line x1="269.42" y1="438.6" x2="269.42" y2="440.6" stroke="#000" stroke-width="0.9"/>
<line x1="271.77" y1="438.6" x2="271.77" y2="440.6" stroke="#000" stroke-width="0.9"/>
<line x1="273.69" y1="438.6" x2="273.69" y2="440.6" stroke="#000" stroke-width="0.9"/>
<line x1="275.31" y1="438.6" x2="275.31" y2="440.6" stroke="#000" stroke-width="0.9"/>
<line x1="276.72" y1="438.6" x2="276.72" y2="440.6" stroke="#000" stroke-width="0.9"/>
<line x1="277.96" y1="438.6" x2="277.96" y2="440.6" stroke="#000" stroke-width="0.9"/>
<line x1="279.07" y1="438.6" x2="279.07" y2="442.1" stroke="#000" stroke-width="0.9"/>
<line x1="286.38" y1="438.6" x2="286.38" y2="440.6" stroke="#000" stroke-width="0.9"/>
<line x1="290.66" y1="438.6" x2="290.66" y2="440.6" stroke="#000" stroke-width="0.9"/>
<line x1="293.69" y1="438.6" x2="293.69" y2="440.6" stroke="#000" stroke-width="0.9"/>
<line x1="296.04" y1="438.6" x2="296.04" y2="440.6" stroke="#000" stroke-width="0.9"/>
<line x1="297.96" y1="438.6" x2="297.96" y2="440.6" stroke="#000" stroke-width="0.9"/>
<line x1="299.59" y1="438.6" x2="299.59" y2="440.6" stroke="#000" stroke-width="0.9"/>
<line x1="301" y1="438.6" x2="301" y2="440.6" stroke="#000" stroke-width="0.9"/>
<line x1="302.24" y1="438.6" x2="302.24" y2="440.6" stroke="#000" stroke-width="0.9"/>
<line x1="303.35" y1="438.6" x2="303.35" y2="442.1" stroke="#000" stroke-width="0.9"/>
<line x1="310.66" y1="438.6" x2="310.66" y2="440.6" stroke="#000" stroke-width="0.9"/>
<line x1="314.93" y1="438.6" x2="314.93" y2="440.6" stroke="#000" stroke-width="0.9"/>
<line x1="317.97" y1="438.6" x2="317.97" y2="440.6" stroke="#000" stroke-width="0.9"/>
<line x1="320.32" y1="438.6" x2="320.32" y2="440.6" stroke="#000" stroke-width="0.9"/>
<line x1="322.24" y1="438.6" x2="322.24" y2="440.6" stroke="#000" stroke-width="0.9"/>
<line x1="323.86" y1="438.6" x2="323.86" y2="440.6" stroke="#000" stroke-width="0.9"/>
<line x1="325.27" y1="438.6" x2="325.27" y2="440.6" stroke="#000" stroke-width="0.9"/>
<line x1="326.51" y1="438.6" x2="326.51" y2="440.6" stroke="#000" stroke-width="0.9"/>
<line x1="327.62" y1="438.6" x2="327.62" y2="442.1" stroke="#000" stroke-width="0.9"/>
<line x1="334.93" y1="438.6" x2="334.93" y2="440.6" stroke="#000" stroke-width="0.9"/>
<line x1="339.21" y1="438.6" x2="339.21" y2="440.6" stroke="#000" stroke-width="0.9"/>
<line x1="342.24" y1="438.6" x2="342.24" y2="440.6" stroke="#000" stroke-width="0.9"/>
<line x1="344.59" y1="438.6" x2="344.59" y2="440.6" stroke="#000" stroke-width="0.9"/>
<line x1="346.51" y1="438.6" x2="346.51" y2="440.6" stroke="#000" stroke-width="0.9"/>
<line x1="348.14" y1="438.6" x2="348.14" y2="440.6" stroke="#000" stroke-width="0.9"/>
<line x1="349.55" y1="438.6" x2="349.55" y2="440.6" stroke="#000" stroke-width="0.9"/>
<line x1="350.79" y1="438.6" x2="350.79" y2="440.6" stroke="#000" stroke-width="0.9"/>
<line x1="351.9" y1="438.6" x2="351.9" y2="442.1" stroke="#000" stroke-width="0.9"/>
<text x="254.5" y="459.8" font-size="7.2" stroke="#222" stroke-width="0.15" textLength="7.2" lengthAdjust="spacingAndGlyphs" fill="#222">10</text>
<text x="262.5" y="454.8" font-size="5.6" stroke="#222" stroke-width="0.12" fill="#222">0</text>
<text x="277.1" y="459.8" font-size="7.2" stroke="#222" stroke-width="0.15" textLength="7.2" lengthAdjust="spacingAndGlyphs" fill="#222">10</text>
<text x="285.1" y="454.8" font-size="5.6" stroke="#222" stroke-width="0.12" fill="#222">1</text>
<text x="299.6" y="459.8" font-size="7.2" stroke="#222" stroke-width="0.15" textLength="7.2" lengthAdjust="spacingAndGlyphs" fill="#222">10</text>
<text x="307.6" y="454.8" font-size="5.6" stroke="#222" stroke-width="0.12" fill="#222">2</text>
<text x="322.1" y="459.8" font-size="7.2" stroke="#222" stroke-width="0.15" textLength="7.2" lengthAdjust="spacingAndGlyphs" fill="#222">10</text>
<text x="330.1" y="454.8" font-size="5.6" stroke="#222" stroke-width="0.12" fill="#222">3</text>
<text x="344.5" y="459.8" font-size="7.2" stroke="#222" stroke-width="0.15" textLength="7.2" lengthAdjust="spacingAndGlyphs" fill="#222">10</text>
<text x="352.5" y="454.8" font-size="5.6" stroke="#222" stroke-width="0.12" fill="#222">4</text>
<line x1="243" y1="468.9" x2="354.9" y2="468.9" stroke="#000" stroke-width="1.4"/>
<polygon points="360.7,468.9 353.9,465.5 353.9,472.3" fill="#000" stroke="none" stroke-width="1"/>
<text x="325.2" y="484.1" font-size="9.5" stroke="#000" stroke-width="0.3" textLength="23.9" lengthAdjust="spacingAndGlyphs" transform="translate(325.2 484.1) scale(1 1.04) translate(-325.2 -484.1)">CFSE</text>
<line x1="387.3" y1="397.3" x2="400.3" y2="397.3" stroke="#000" stroke-width="2.6"/>
<text x="403.6" y="398.9" font-size="9.5" stroke="#000" stroke-width="0.3" textLength="90.4" lengthAdjust="spacingAndGlyphs">Vβ2 +ve lymphocytes</text>
<rect x="387.9" y="406.5" width="13.3" height="6.7" fill="#8a8a8a" stroke="none" stroke-width="0"/>
<text x="403.6" y="412.6" font-size="9.5" stroke="#000" stroke-width="0.3" textLength="87.5" lengthAdjust="spacingAndGlyphs">Vβ2 -ve lymphocytes</text>
</g>
</svg></body></html>
